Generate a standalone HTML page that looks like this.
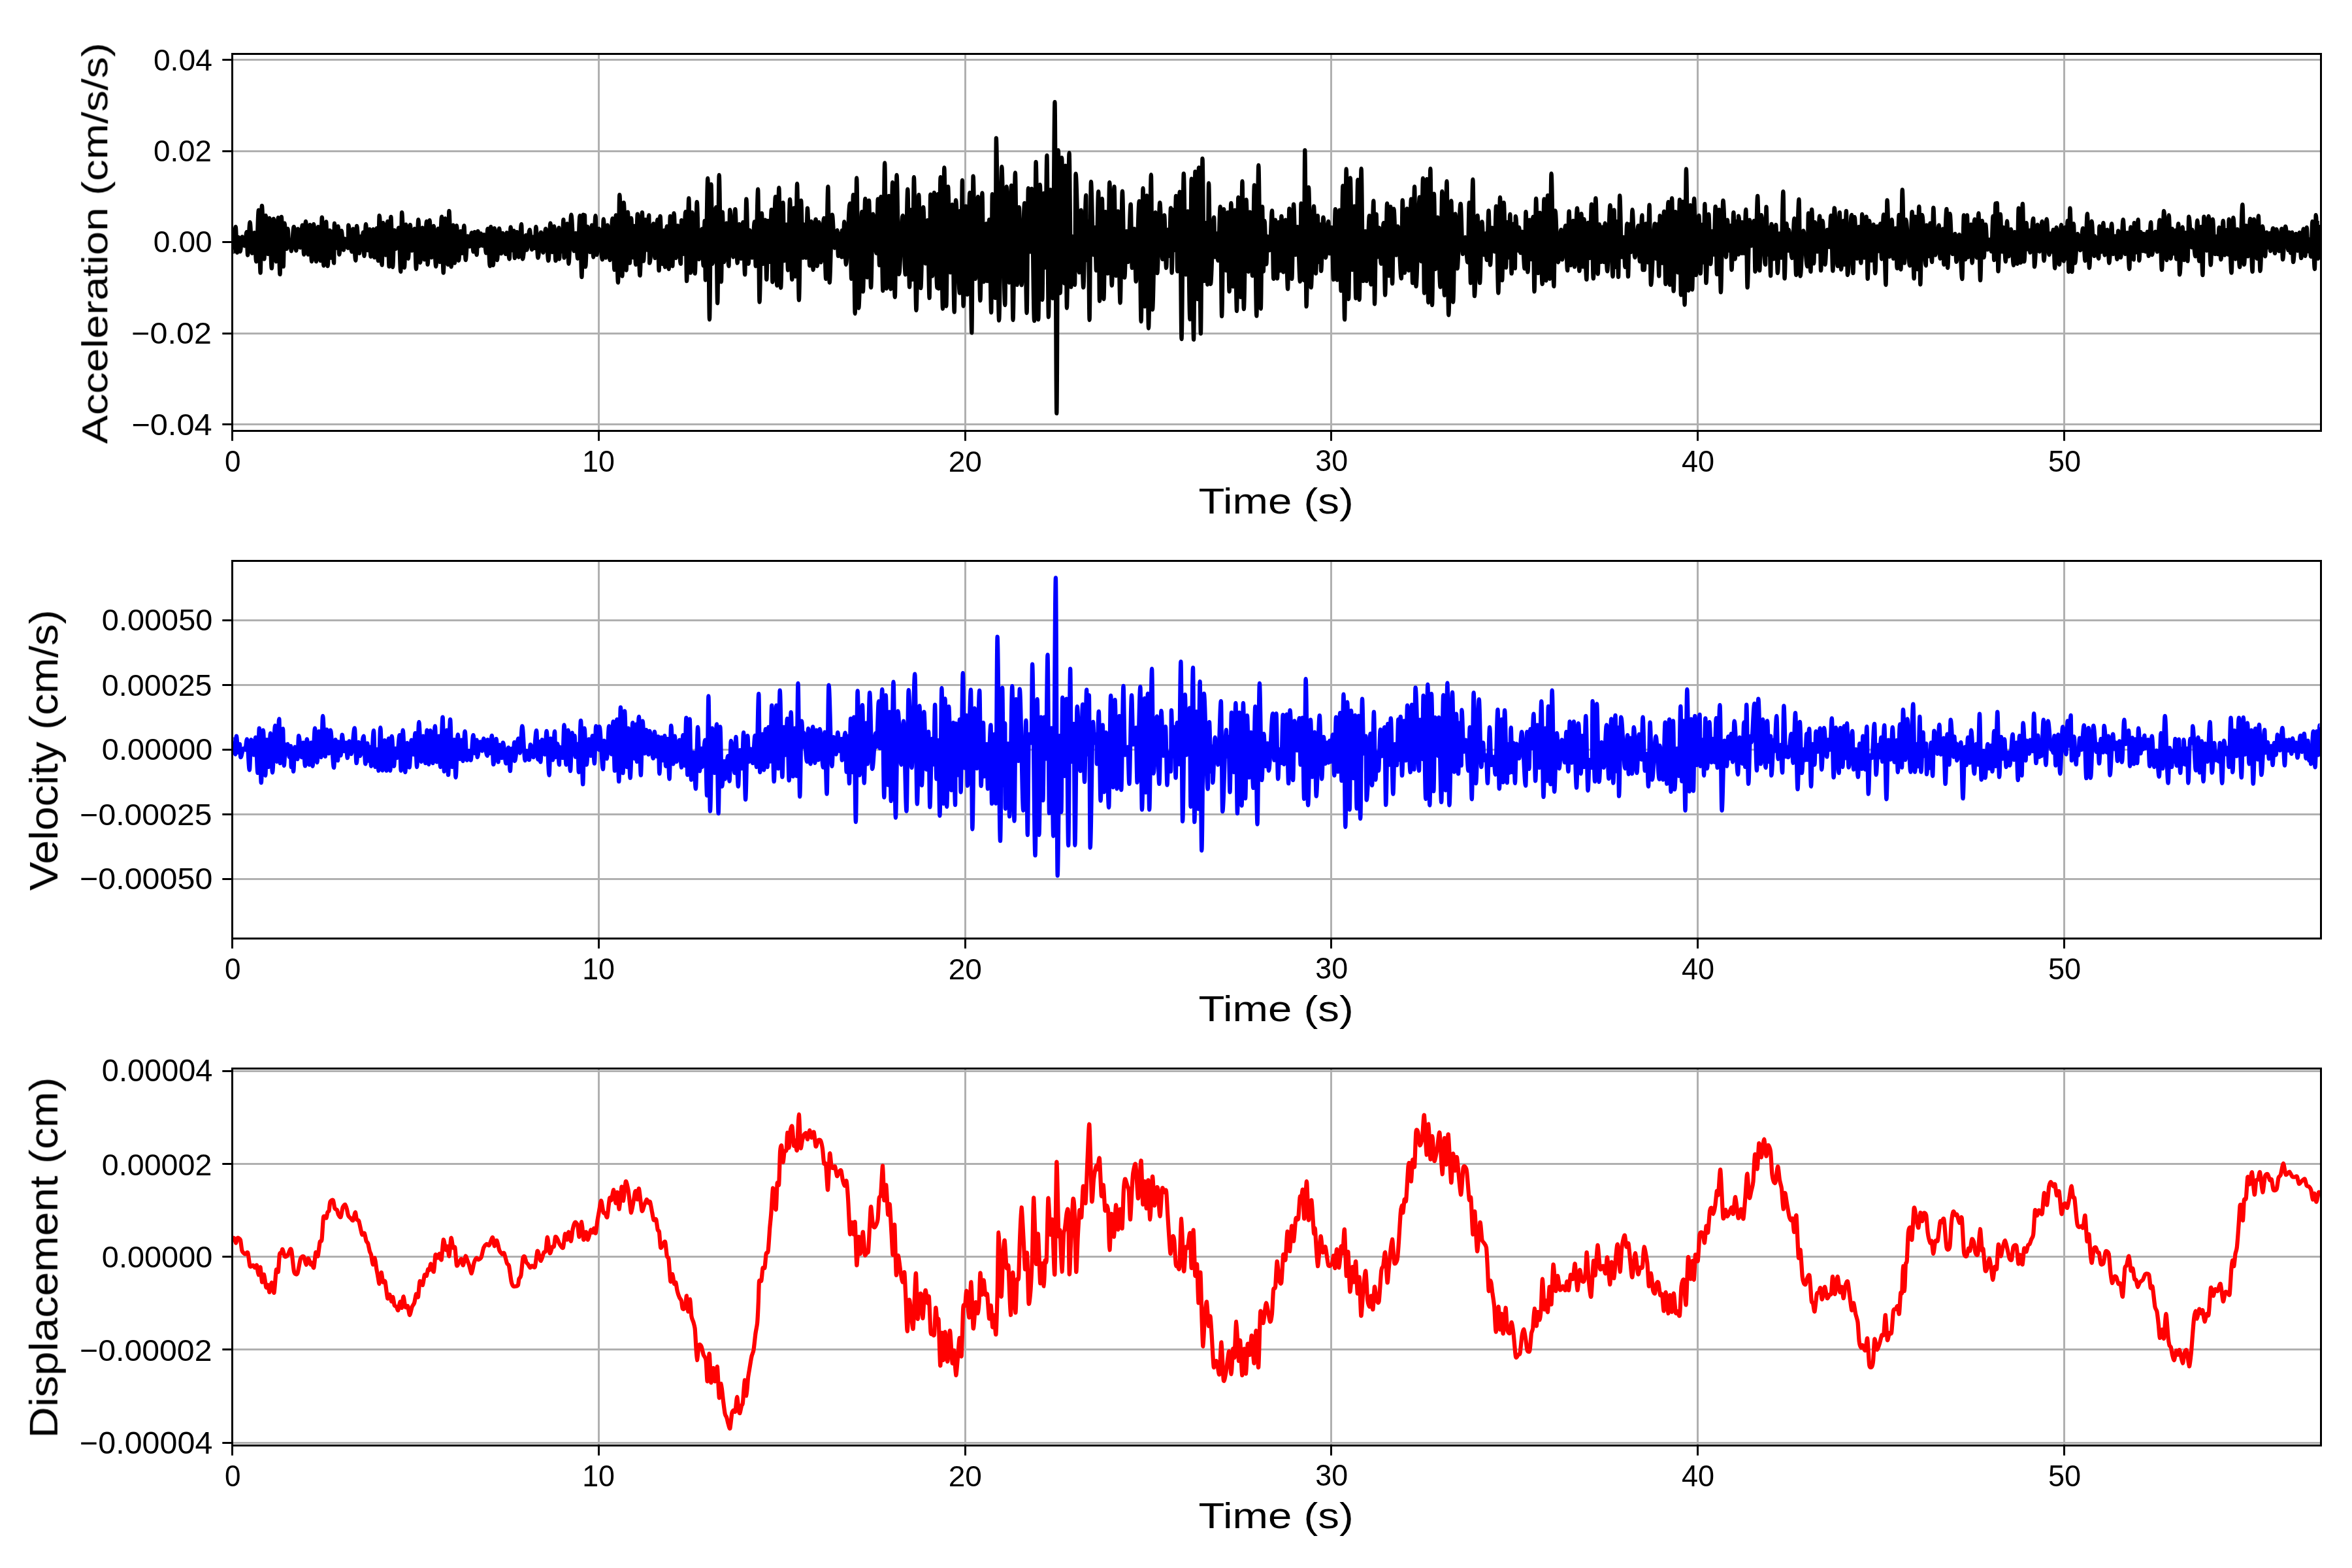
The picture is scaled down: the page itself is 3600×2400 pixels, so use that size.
<!DOCTYPE html>
<html lang="en"><head><meta charset="utf-8"><title>Acceleration, Velocity, Displacement</title>
<style>html,body{margin:0;padding:0;background:#fff}body{width:3600px;height:2400px;overflow:hidden}svg{display:block}text{font-family:"Liberation Sans",sans-serif;fill:#000}</style></head><body>
<svg width="3600" height="2400" viewBox="0 0 3600 2400">
<rect width="3600" height="2400" fill="#fff"/>
<defs>
<clipPath id="c0"><rect x="355.5" y="82.5" width="3197.0" height="577.0"/></clipPath>
<clipPath id="c1"><rect x="355.5" y="858.5" width="3197.0" height="578.0"/></clipPath>
<clipPath id="c2"><rect x="355.5" y="1635.5" width="3197.0" height="577.0"/></clipPath>
</defs>
<path d="M916.50 82.5V659.5M1477.50 82.5V659.5M2037.50 82.5V659.5M2598.50 82.5V659.5M3159.50 82.5V659.5M355.5 91.50H3552.5M355.5 231.50H3552.5M355.5 370.50H3552.5M355.5 510.50H3552.5M355.5 649.50H3552.5" stroke="#b0b0b0" stroke-width="3" fill="none"/>
<path clip-path="url(#c0)" d="M357.3 385.4C358.5 385.4 359.5 347.0 360.7 347.0C361.5 347.0 362.2 386.6 363.0 386.6C363.8 386.6 364.5 363.0 365.3 363.0C366.1 363.0 366.8 385.0 367.6 385.0C368.7 385.0 369.6 362.4 370.6 362.4C372.0 362.4 373.1 376.3 374.5 376.3C375.6 376.3 376.5 355.0 377.5 355.0C378.1 355.0 378.5 390.5 379.1 390.5C380.3 390.5 381.3 340.1 382.6 340.1C383.8 340.1 384.8 387.7 386.0 387.7C387.2 387.7 388.2 356.2 389.4 356.2C390.4 356.2 391.2 400.4 392.2 400.4C393.5 400.4 394.6 321.7 395.9 321.7C396.8 321.7 397.7 417.6 398.6 417.6C399.4 417.6 400.1 314.8 400.9 314.8C402.1 314.8 403.2 396.5 404.4 396.5C405.2 396.5 405.9 329.8 406.7 329.8C407.9 329.8 408.9 388.9 410.1 388.9C410.9 388.9 411.6 333.9 412.4 333.9C413.6 333.9 414.6 410.7 415.8 410.7C416.9 410.7 417.8 334.8 418.8 334.8C420.2 334.8 421.4 400.4 422.7 400.4C423.8 400.4 424.7 333.2 425.7 333.2C426.7 333.2 427.5 419.9 428.5 419.9C429.3 419.9 430.0 332.0 430.8 332.0C431.8 332.0 432.7 407.9 433.7 407.9C434.3 407.9 434.8 341.7 435.4 341.7C436.6 341.7 437.6 380.9 438.8 380.9C439.4 380.9 439.8 350.0 440.4 350.0C441.1 350.0 441.8 377.5 442.5 377.5C443.2 377.5 443.8 368.3 444.5 368.3C444.9 368.3 445.3 384.3 445.7 384.3C447.1 384.3 448.4 347.0 449.8 347.0C451.0 347.0 452.1 383.6 453.3 383.6C454.2 383.6 455.1 350.4 456.0 350.4C457.2 350.4 458.3 379.0 459.5 379.0C460.7 379.0 461.7 344.7 462.9 344.7C463.7 344.7 464.4 389.6 465.2 389.6C466.2 389.6 467.0 338.9 468.0 338.9C469.2 338.9 470.3 389.6 471.6 389.6C472.6 389.6 473.4 344.0 474.4 344.0C475.4 344.0 476.2 400.4 477.1 400.4C478.2 400.4 479.1 343.1 480.1 343.1C481.5 343.1 482.7 400.4 484.0 400.4C485.1 400.4 486.0 347.0 487.0 347.0C488.2 347.0 489.3 399.2 490.5 399.2C491.3 399.2 492.0 332.5 492.8 332.5C493.7 332.5 494.5 406.6 495.5 406.6C496.8 406.6 497.9 339.4 499.2 339.4C500.0 339.4 500.7 407.3 501.5 407.3C502.6 407.3 503.6 352.7 504.7 352.7C505.3 352.7 505.9 394.6 506.5 394.6C507.3 394.6 508.0 354.0 508.8 354.0C509.6 354.0 510.3 402.7 511.1 402.7C511.4 402.7 511.6 341.9 511.8 341.9C512.8 341.9 513.7 379.7 514.7 379.7C515.7 379.7 516.5 346.3 517.5 346.3C518.1 346.3 518.6 389.6 519.2 389.6C520.4 389.6 521.4 353.2 522.6 353.2C523.8 353.2 524.8 382.7 526.0 382.7C526.6 382.7 527.1 365.3 527.7 365.3C529.5 365.3 531.1 379.7 532.9 379.7C533.0 379.7 533.1 344.7 533.2 344.7C535.1 344.7 536.7 385.4 538.7 385.4C539.3 385.4 539.9 350.4 540.5 350.4C541.9 350.4 543.0 398.8 544.4 398.8C545.0 398.8 545.5 345.8 546.0 345.8C547.5 345.8 548.7 387.7 550.2 387.7C550.8 387.7 551.3 361.9 552.0 361.9C552.7 361.9 553.3 382.1 553.9 382.1C554.6 382.1 555.2 355.5 555.9 355.5C556.5 355.5 556.9 391.9 557.5 391.9C558.4 391.9 559.1 343.1 560.0 343.1C561.0 343.1 561.8 383.2 562.8 383.2C563.8 383.2 564.7 350.9 565.8 350.9C566.3 350.9 566.8 392.8 567.4 392.8C568.7 392.8 569.9 350.9 571.3 350.9C571.9 350.9 572.5 394.2 573.1 394.2C574.3 394.2 575.3 349.3 576.6 349.3C577.4 349.3 578.0 399.2 578.8 399.2C579.5 399.2 580.0 329.8 580.7 329.8C582.1 329.8 583.2 405.7 584.6 405.7C585.2 405.7 585.8 341.2 586.4 341.2C587.8 341.2 589.0 390.5 590.3 390.5C591.4 390.5 592.3 338.9 593.3 338.9C594.1 338.9 594.8 407.9 595.6 407.9C596.6 407.9 597.4 332.0 598.4 332.0C599.3 332.0 600.2 408.9 601.1 408.9C602.0 408.9 602.8 352.3 603.6 352.3C604.4 352.3 605.0 380.9 605.7 380.9C607.3 380.9 608.7 348.6 610.3 348.6C611.3 348.6 612.2 415.8 613.3 415.8C613.9 415.8 614.5 325.2 615.1 325.2C616.5 325.2 617.7 409.6 619.0 409.6C619.8 409.6 620.5 343.5 621.3 343.5C622.5 343.5 623.6 395.8 624.8 395.8C625.8 395.8 626.7 344.0 627.8 344.0C628.7 344.0 629.5 383.6 630.5 383.6C632.0 383.6 633.2 350.0 634.6 350.0C635.4 350.0 636.1 411.8 636.9 411.8C638.1 411.8 639.2 336.2 640.4 336.2C641.3 336.2 642.2 402.0 643.1 402.0C644.3 402.0 645.4 348.6 646.6 348.6C647.6 348.6 648.5 397.4 649.6 397.4C650.8 397.4 651.8 338.9 653.0 338.9C653.6 338.9 654.1 405.0 654.6 405.0C655.7 405.0 656.6 337.1 657.6 337.1C658.6 337.1 659.4 394.2 660.4 394.2C661.6 394.2 662.6 345.8 663.8 345.8C665.0 345.8 666.0 407.9 667.2 407.9C668.4 407.9 669.5 350.0 670.7 350.0C671.5 350.0 672.2 401.1 673.0 401.1C674.0 401.1 674.9 331.6 676.0 331.6C676.9 331.6 677.8 417.6 678.7 417.6C679.7 417.6 680.5 334.3 681.5 334.3C682.9 334.3 684.2 405.0 685.6 405.0C686.3 405.0 686.8 322.9 687.4 322.9C688.6 322.9 689.5 408.4 690.7 408.4C691.7 408.4 692.6 344.7 693.6 344.7C694.4 344.7 695.1 402.7 695.9 402.7C697.0 402.7 697.9 345.4 698.9 345.4C700.1 345.4 701.0 398.8 702.1 398.8C703.2 398.8 704.1 353.9 705.1 353.9C705.9 353.9 706.6 387.7 707.4 387.7C708.5 387.7 709.4 345.4 710.4 345.4C711.2 345.4 711.9 398.1 712.7 398.1C713.8 398.1 714.8 361.4 715.9 361.4C717.0 361.4 717.9 377.4 718.9 377.4C719.9 377.4 720.8 356.2 721.9 356.2C722.8 356.2 723.7 385.4 724.6 385.4C725.3 385.4 725.8 355.0 726.5 355.0C727.6 355.0 728.6 390.0 729.7 390.0C730.3 390.0 730.9 353.9 731.5 353.9C732.3 353.9 733.0 376.7 733.8 376.7C734.6 376.7 735.3 357.3 736.1 357.3C736.9 357.3 737.6 376.2 738.4 376.2C739.2 376.2 739.9 359.1 740.7 359.1C741.9 359.1 742.9 387.3 744.2 387.3C745.0 387.3 745.6 350.0 746.5 350.0C747.7 350.0 748.7 407.3 749.9 407.3C750.4 407.3 750.8 347.0 751.3 347.0C752.6 347.0 753.7 406.1 754.9 406.1C755.6 406.1 756.1 349.3 756.8 349.3C758.2 349.3 759.5 398.1 760.9 398.1C762.0 398.1 763.0 349.5 764.1 349.5C765.2 349.5 766.1 388.2 767.1 388.2C767.9 388.2 768.6 356.8 769.4 356.8C771.0 356.8 772.4 388.9 774.0 388.9C774.6 388.9 775.0 356.2 775.6 356.2C777.1 356.2 778.3 396.5 779.7 396.5C780.4 396.5 780.9 347.7 781.6 347.7C782.5 347.7 783.2 383.1 784.1 383.1C785.0 383.1 785.7 353.2 786.6 353.2C787.0 353.2 787.4 395.1 787.8 395.1C789.0 395.1 790.0 355.0 791.2 355.0C792.2 355.0 793.0 393.5 794.0 393.5C795.4 393.5 796.7 343.1 798.1 343.1C798.8 343.1 799.3 396.5 799.9 396.5C801.7 396.5 803.2 360.1 805.0 360.1C805.4 360.1 805.7 382.7 806.1 382.7C807.8 382.7 809.1 351.6 810.7 351.6C811.9 351.6 813.0 382.0 814.2 382.0C815.0 382.0 815.7 362.4 816.5 362.4C817.2 362.4 817.7 379.9 818.4 379.9C819.1 379.9 819.7 347.0 820.4 347.0C821.4 347.0 822.3 394.6 823.4 394.6C825.0 394.6 826.3 355.5 828.0 355.5C829.2 355.5 830.2 386.6 831.4 386.6C832.8 386.6 833.9 350.0 835.3 350.0C836.7 350.0 838.0 399.2 839.4 399.2C840.5 399.2 841.4 341.7 842.4 341.7C843.4 341.7 844.2 385.9 845.2 385.9C846.2 385.9 847.1 346.3 848.2 346.3C849.0 346.3 849.7 399.2 850.5 399.2C852.2 399.2 853.7 348.6 855.5 348.6C855.7 348.6 855.8 396.5 856.0 396.5C856.7 396.5 857.4 355.7 858.1 355.7C858.9 355.7 859.5 384.9 860.2 384.9C861.0 384.9 861.6 336.2 862.4 336.2C862.8 336.2 863.1 394.6 863.5 394.6C865.1 394.6 866.5 342.4 868.1 342.4C868.9 342.4 869.6 403.8 870.4 403.8C871.8 403.8 873.0 328.6 874.3 328.6C875.8 328.6 877.0 384.3 878.5 384.3C879.4 384.3 880.3 356.8 881.2 356.8C882.3 356.8 883.2 395.8 884.2 395.8C885.4 395.8 886.4 330.2 887.6 330.2C888.6 330.2 889.4 424.0 890.4 424.0C891.2 424.0 891.9 328.6 892.7 328.6C893.1 328.6 893.4 395.8 893.8 395.8C894.3 395.8 894.6 329.3 895.0 329.3C895.4 329.3 895.7 408.4 896.1 408.4C897.2 408.4 898.1 347.0 899.1 347.0C900.5 347.0 901.7 385.9 903.0 385.9C904.1 385.9 905.0 344.7 906.0 344.7C906.8 344.7 907.5 393.5 908.3 393.5C909.4 393.5 910.4 330.2 911.5 330.2C912.2 330.2 912.7 390.0 913.4 390.0C914.6 390.0 915.6 350.0 916.8 350.0C918.7 350.0 920.2 397.4 922.1 397.4C922.7 397.4 923.1 335.5 923.7 335.5C924.9 335.5 925.9 394.6 927.1 394.6C928.1 394.6 928.9 344.7 929.9 344.7C931.2 344.7 932.3 398.1 933.6 398.1C934.9 398.1 936.1 334.3 937.5 334.3C938.5 334.3 939.4 413.0 940.5 413.0C941.3 413.0 942.0 329.3 942.8 329.3C943.9 329.3 944.8 432.5 946.0 432.5C946.8 432.5 947.5 298.1 948.3 298.1C949.7 298.1 951.0 422.6 952.4 422.6C953.2 422.6 953.9 310.2 954.7 310.2C956.1 310.2 957.2 413.5 958.6 413.5C959.4 413.5 960.1 324.7 960.9 324.7C961.9 324.7 962.8 402.7 963.9 402.7C964.7 402.7 965.4 333.9 966.2 333.9C967.0 333.9 967.7 394.0 968.5 394.0C969.3 394.0 970.0 345.8 970.8 345.8C971.6 345.8 972.3 405.0 973.1 405.0C974.0 405.0 974.9 327.5 975.8 327.5C977.1 327.5 978.2 421.7 979.5 421.7C980.7 421.7 981.7 325.2 982.9 325.2C983.7 325.2 984.3 399.7 985.0 399.7C986.0 399.7 986.9 336.2 988.0 336.2C988.9 336.2 989.7 382.7 990.6 382.7C991.5 382.7 992.3 329.3 993.3 329.3C993.6 329.3 993.9 402.7 994.2 402.7C996.3 402.7 998.1 342.4 1000.2 342.4C1001.0 342.4 1001.6 395.1 1002.4 395.1C1003.8 395.1 1005.0 336.2 1006.4 336.2C1007.2 336.2 1007.8 414.1 1008.6 414.1C1009.3 414.1 1009.8 330.9 1010.5 330.9C1011.6 330.9 1012.5 404.0 1013.6 404.0C1014.7 404.0 1015.6 352.7 1016.7 352.7C1017.1 352.7 1017.4 408.9 1017.8 408.9C1018.9 408.9 1019.8 346.3 1020.8 346.3C1021.8 346.3 1022.6 411.8 1023.6 411.8C1024.4 411.8 1025.1 330.9 1025.9 330.9C1027.1 330.9 1028.1 407.3 1029.3 407.3C1030.1 407.3 1030.8 326.3 1031.6 326.3C1032.7 326.3 1033.5 395.1 1034.6 395.1C1035.6 395.1 1036.4 345.4 1037.3 345.4C1039.0 345.4 1040.3 403.8 1041.9 403.8C1042.3 403.8 1042.7 337.1 1043.1 337.1C1044.2 337.1 1045.1 388.8 1046.2 388.8C1047.3 388.8 1048.2 324.0 1049.3 324.0C1049.9 324.0 1050.5 430.2 1051.1 430.2C1052.2 430.2 1053.2 303.4 1054.3 303.4C1055.2 303.4 1056.0 417.6 1056.9 417.6C1057.7 417.6 1058.5 325.2 1059.4 325.2C1060.9 325.2 1062.2 418.7 1063.7 418.7C1064.8 418.7 1065.7 309.1 1066.7 309.1C1067.9 309.1 1068.8 396.9 1069.9 396.9C1071.6 396.9 1072.9 350.4 1074.5 350.4C1075.3 350.4 1075.9 406.6 1076.6 406.6C1077.3 406.6 1077.9 337.8 1078.7 337.8C1079.1 337.8 1079.4 428.6 1079.8 428.6C1081.0 428.6 1082.1 272.8 1083.3 272.8C1084.2 272.8 1085.1 489.2 1086.0 489.2C1086.9 489.2 1087.7 282.0 1088.5 282.0C1089.3 282.0 1089.9 403.8 1090.6 403.8C1092.5 403.8 1094.0 317.1 1095.9 317.1C1096.7 317.1 1097.4 464.0 1098.2 464.0C1099.1 464.0 1099.8 267.8 1100.7 267.8C1101.8 267.8 1102.8 431.4 1103.9 431.4C1104.6 431.4 1105.1 324.7 1105.8 324.7C1106.6 324.7 1107.3 401.1 1108.1 401.1C1109.4 401.1 1110.6 341.7 1112.0 341.7C1113.2 341.7 1114.2 407.3 1115.4 407.3C1116.0 407.3 1116.6 321.0 1117.2 321.0C1119.0 321.0 1120.5 393.5 1122.3 393.5C1123.3 393.5 1124.2 320.1 1125.3 320.1C1126.5 320.1 1127.5 402.7 1128.7 402.7C1129.7 402.7 1130.5 343.1 1131.5 343.1C1132.5 343.1 1133.3 395.9 1134.3 395.9C1135.4 395.9 1136.2 340.1 1137.2 340.1C1138.3 340.1 1139.2 420.3 1140.2 420.3C1140.9 420.3 1141.5 304.5 1142.3 304.5C1143.5 304.5 1144.5 403.8 1145.7 403.8C1146.4 403.8 1146.9 352.3 1147.5 352.3C1148.8 352.3 1149.9 394.5 1151.2 394.5C1152.5 394.5 1153.6 339.4 1154.9 339.4C1155.5 339.4 1156.1 407.3 1156.7 407.3C1157.9 407.3 1159.0 289.6 1160.2 289.6C1161.0 289.6 1161.7 462.4 1162.5 462.4C1163.7 462.4 1164.7 326.3 1165.9 326.3C1166.7 326.3 1167.4 403.8 1168.2 403.8C1169.3 403.8 1170.2 336.6 1171.2 336.6C1171.9 336.6 1172.5 427.9 1173.3 427.9C1174.1 427.9 1174.8 337.8 1175.6 337.8C1176.5 337.8 1177.3 400.9 1178.2 400.9C1179.1 400.9 1179.9 321.0 1180.8 321.0C1181.4 321.0 1181.9 431.8 1182.4 431.8C1184.1 431.8 1185.4 301.1 1187.0 301.1C1187.8 301.1 1188.5 437.1 1189.3 437.1C1190.4 437.1 1191.3 287.3 1192.3 287.3C1193.3 287.3 1194.1 440.5 1195.1 440.5C1196.3 440.5 1197.3 310.2 1198.5 310.2C1199.2 310.2 1199.7 399.2 1200.4 399.2C1201.6 399.2 1202.6 343.5 1203.8 343.5C1204.6 343.5 1205.3 413.5 1206.1 413.5C1207.1 413.5 1208.0 305.0 1209.1 305.0C1210.2 305.0 1211.2 427.9 1212.3 427.9C1213.3 427.9 1214.2 318.3 1215.3 318.3C1216.1 318.3 1216.8 423.3 1217.6 423.3C1218.5 423.3 1219.2 281.1 1220.1 281.1C1221.1 281.1 1221.9 459.4 1222.9 459.4C1224.0 459.4 1224.9 306.8 1226.1 306.8C1227.1 306.8 1228.0 394.6 1229.1 394.6C1229.6 394.6 1230.1 343.5 1230.7 343.5C1231.7 343.5 1232.6 394.6 1233.6 394.6C1234.4 394.6 1235.1 318.7 1235.9 318.7C1237.1 318.7 1238.2 406.6 1239.4 406.6C1240.2 406.6 1240.9 338.9 1241.7 338.9C1242.7 338.9 1243.6 413.0 1244.7 413.0C1246.0 413.0 1247.2 335.5 1248.6 335.5C1249.4 335.5 1250.1 407.3 1250.9 407.3C1251.8 407.3 1252.7 340.1 1253.6 340.1C1254.7 340.1 1255.6 401.5 1256.6 401.5C1258.2 401.5 1259.6 333.9 1261.2 333.9C1262.2 333.9 1263.1 426.8 1264.2 426.8C1265.3 426.8 1266.3 285.7 1267.4 285.7C1268.2 285.7 1268.9 432.5 1269.7 432.5C1271.1 432.5 1272.4 328.6 1273.8 328.6C1275.1 328.6 1276.3 379.7 1277.6 379.7C1278.9 379.7 1280.1 352.3 1281.4 352.3C1282.0 352.3 1282.4 391.9 1283.0 391.9C1283.9 391.9 1284.6 357.5 1285.5 357.5C1286.4 357.5 1287.2 393.5 1288.1 393.5C1288.3 393.5 1288.5 352.7 1288.7 352.7C1289.3 352.7 1289.9 393.2 1290.5 393.2C1291.1 393.2 1291.6 339.4 1292.2 339.4C1293.2 339.4 1294.0 405.0 1294.9 405.0C1297.0 405.0 1298.8 311.4 1300.9 311.4C1301.7 311.4 1302.4 426.8 1303.2 426.8C1304.2 426.8 1305.0 298.1 1306.0 298.1C1306.9 298.1 1307.8 480.0 1308.7 480.0C1309.6 480.0 1310.4 272.4 1311.2 272.4C1312.3 272.4 1313.2 471.5 1314.2 471.5C1316.0 471.5 1317.5 324.0 1319.3 324.0C1319.8 324.0 1320.3 446.3 1320.9 446.3C1322.1 446.3 1323.1 304.0 1324.3 304.0C1325.3 304.0 1326.1 424.5 1327.1 424.5C1328.1 424.5 1329.0 306.8 1330.1 306.8C1331.1 306.8 1332.0 440.1 1333.1 440.1C1334.2 440.1 1335.1 327.5 1336.3 327.5C1338.1 327.5 1339.7 387.7 1341.6 387.7C1342.4 387.7 1343.0 304.5 1343.8 304.5C1344.7 304.5 1345.3 406.1 1346.1 406.1C1346.9 406.1 1347.6 301.1 1348.4 301.1C1349.5 301.1 1350.4 445.1 1351.4 445.1C1352.4 445.1 1353.2 249.4 1354.2 249.4C1355.1 249.4 1356.0 441.7 1356.9 441.7C1358.2 441.7 1359.3 299.9 1360.6 299.9C1361.6 299.9 1362.4 442.4 1363.4 442.4C1364.3 442.4 1365.2 279.2 1366.1 279.2C1367.4 279.2 1368.5 454.8 1369.8 454.8C1370.8 454.8 1371.6 267.8 1372.5 267.8C1373.8 267.8 1374.8 419.9 1376.0 419.9C1378.0 419.9 1379.7 329.8 1381.7 329.8C1383.2 329.8 1384.4 420.3 1385.9 420.3C1387.1 420.3 1388.1 289.6 1389.3 289.6C1390.3 289.6 1391.1 439.4 1392.1 439.4C1392.9 439.4 1393.6 321.2 1394.4 321.2C1395.2 321.2 1395.8 427.9 1396.7 427.9C1397.5 427.9 1398.1 271.2 1398.9 271.2C1400.2 271.2 1401.2 475.0 1402.4 475.0C1403.8 475.0 1404.9 298.1 1406.3 298.1C1407.3 298.1 1408.2 441.0 1409.3 441.0C1410.6 441.0 1411.8 317.1 1413.2 317.1C1414.4 317.1 1415.4 403.4 1416.6 403.4C1417.7 403.4 1418.6 337.1 1419.6 337.1C1420.7 337.1 1421.6 456.2 1422.6 456.2C1423.2 456.2 1423.6 297.6 1424.2 297.6C1425.2 297.6 1426.1 422.6 1427.1 422.6C1428.1 422.6 1428.9 294.9 1429.9 294.9C1431.6 294.9 1432.9 440.5 1434.5 440.5C1434.9 440.5 1435.3 297.0 1435.7 297.0C1436.1 297.0 1436.4 441.7 1436.8 441.7C1437.8 441.7 1438.6 271.2 1439.6 271.2C1440.8 271.2 1441.8 472.7 1443.0 472.7C1443.8 472.7 1444.5 256.3 1445.3 256.3C1446.4 256.3 1447.3 468.6 1448.3 468.6C1449.3 468.6 1450.1 285.7 1451.1 285.7C1452.3 285.7 1453.3 417.1 1454.5 417.1C1455.6 417.1 1456.5 313.2 1457.5 313.2C1458.6 313.2 1459.6 477.7 1460.7 477.7C1461.5 477.7 1462.2 306.3 1463.0 306.3C1465.1 306.3 1466.9 448.6 1469.0 448.6C1469.1 448.6 1469.3 322.9 1469.4 322.9C1470.0 322.9 1470.6 408.8 1471.2 408.8C1471.8 408.8 1472.3 275.8 1472.9 275.8C1473.4 275.8 1473.9 468.6 1474.5 468.6C1475.8 468.6 1476.9 315.5 1478.2 315.5C1479.0 315.5 1479.7 450.9 1480.5 450.9C1481.8 450.9 1483.0 294.9 1484.4 294.9C1485.4 294.9 1486.3 509.4 1487.3 509.4C1488.1 509.4 1488.8 269.6 1489.6 269.6C1490.8 269.6 1491.7 426.8 1492.9 426.8C1494.3 426.8 1495.5 301.1 1497.0 301.1C1498.2 301.1 1499.2 460.1 1500.4 460.1C1501.5 460.1 1502.4 295.3 1503.4 295.3C1504.2 295.3 1504.9 431.4 1505.7 431.4C1507.1 431.4 1508.3 342.4 1509.6 342.4C1510.2 342.4 1510.7 430.2 1511.2 430.2C1512.3 430.2 1513.2 336.2 1514.2 336.2C1515.3 336.2 1516.1 478.4 1517.2 478.4C1517.8 478.4 1518.2 297.2 1518.8 297.2C1520.4 297.2 1521.8 456.2 1523.4 456.2C1523.9 456.2 1524.3 211.3 1524.8 211.3C1526.3 211.3 1527.6 490.6 1529.1 490.6C1530.6 490.6 1531.8 255.1 1533.3 255.1C1535.0 255.1 1536.5 467.0 1538.3 467.0C1539.1 467.0 1539.8 285.7 1540.6 285.7C1542.1 285.7 1543.3 432.5 1544.7 432.5C1545.9 432.5 1546.8 283.8 1548.0 283.8C1548.8 283.8 1549.6 489.9 1550.5 489.9C1551.7 489.9 1552.7 264.3 1553.9 264.3C1554.9 264.3 1555.7 436.0 1556.7 436.0C1557.7 436.0 1558.6 317.1 1559.7 317.1C1561.0 317.1 1562.2 436.4 1563.6 436.4C1565.2 436.4 1566.6 310.9 1568.2 310.9C1569.4 310.9 1570.4 479.1 1571.6 479.1C1572.4 479.1 1573.1 288.0 1573.9 288.0C1575.1 288.0 1576.1 385.4 1577.3 385.4C1578.0 385.4 1578.5 288.9 1579.2 288.9C1580.5 288.9 1581.7 491.1 1583.1 491.1C1584.0 491.1 1584.7 247.8 1585.6 247.8C1586.9 247.8 1588.0 489.2 1589.3 489.2C1590.2 489.2 1590.9 282.7 1591.8 282.7C1593.0 282.7 1594.0 458.9 1595.3 458.9C1596.1 458.9 1596.7 295.8 1597.5 295.8C1598.4 295.8 1599.0 409.6 1599.8 409.6C1600.7 409.6 1601.5 237.9 1602.4 237.9C1603.3 237.9 1604.0 485.3 1604.9 485.3C1605.9 485.3 1606.8 290.3 1607.9 290.3C1609.1 290.3 1610.1 456.6 1611.3 456.6C1612.4 456.6 1613.4 156.2 1614.5 156.2C1615.5 156.2 1616.3 632.7 1617.3 632.7C1618.2 632.7 1618.9 229.9 1619.8 229.9C1620.9 229.9 1621.8 448.6 1622.8 448.6C1623.6 448.6 1624.3 241.4 1625.1 241.4C1626.5 241.4 1627.6 433.7 1629.0 433.7C1629.6 433.7 1630.2 253.5 1630.8 253.5C1631.6 253.5 1632.2 471.5 1632.9 471.5C1634.2 471.5 1635.3 233.8 1636.6 233.8C1637.5 233.8 1638.4 439.4 1639.3 439.4C1640.1 439.4 1640.8 361.9 1641.6 361.9C1642.8 361.9 1643.9 436.0 1645.1 436.0C1645.6 436.0 1646.0 265.9 1646.5 265.9C1648.4 265.9 1650.0 417.1 1652.0 417.1C1652.9 417.1 1653.8 321.7 1654.7 321.7C1655.9 321.7 1657.0 440.1 1658.2 440.1C1659.6 440.1 1660.8 298.8 1662.3 298.8C1662.7 298.8 1663.0 398.1 1663.4 398.1C1664.2 398.1 1664.8 338.5 1665.5 338.5C1666.2 338.5 1666.9 489.9 1667.6 489.9C1668.4 489.9 1669.1 278.1 1669.9 278.1C1671.2 278.1 1672.4 390.0 1673.8 390.0C1674.6 390.0 1675.3 348.1 1676.1 348.1C1676.7 348.1 1677.3 414.1 1677.9 414.1C1679.1 414.1 1680.1 293.0 1681.3 293.0C1681.9 293.0 1682.4 460.8 1683.0 460.8C1684.3 460.8 1685.5 304.0 1686.9 304.0C1687.7 304.0 1688.5 457.8 1689.4 457.8C1690.3 457.8 1691.2 324.0 1692.1 324.0C1693.3 324.0 1694.4 418.7 1695.6 418.7C1696.5 418.7 1697.4 279.2 1698.3 279.2C1699.5 279.2 1700.6 437.1 1701.8 437.1C1703.1 437.1 1704.2 285.7 1705.5 285.7C1706.4 285.7 1707.2 422.2 1708.2 422.2C1709.3 422.2 1710.2 323.3 1711.2 323.3C1712.4 323.3 1713.4 463.5 1714.6 463.5C1715.8 463.5 1716.7 292.6 1717.9 292.6C1719.1 292.6 1720.1 424.9 1721.3 424.9C1722.3 424.9 1723.2 353.9 1724.3 353.9C1725.1 353.9 1725.8 401.1 1726.6 401.1C1728.0 401.1 1729.3 312.5 1730.7 312.5C1731.4 312.5 1732.1 410.2 1732.8 410.2C1734.0 410.2 1735.0 350.0 1736.2 350.0C1737.1 350.0 1737.9 430.9 1738.7 430.9C1740.5 430.9 1742.0 307.9 1743.8 307.9C1744.8 307.9 1745.6 492.2 1746.6 492.2C1747.6 492.2 1748.5 288.0 1749.5 288.0C1750.5 288.0 1751.3 469.2 1752.3 469.2C1753.3 469.2 1754.2 299.4 1755.3 299.4C1756.2 299.4 1757.1 502.5 1758.0 502.5C1759.4 502.5 1760.6 267.3 1761.9 267.3C1762.7 267.3 1763.3 473.8 1764.0 473.8C1765.5 473.8 1766.8 325.2 1768.4 325.2C1769.4 325.2 1770.3 418.0 1771.3 418.0C1772.7 418.0 1773.9 310.2 1775.3 310.2C1776.7 310.2 1777.9 396.9 1779.4 396.9C1780.3 396.9 1781.2 329.3 1782.1 329.3C1783.2 329.3 1784.1 410.2 1785.1 410.2C1785.9 410.2 1786.6 351.6 1787.4 351.6C1788.2 351.6 1788.9 391.8 1789.7 391.8C1790.5 391.8 1791.2 318.3 1792.0 318.3C1792.6 318.3 1793.1 417.6 1793.6 417.6C1794.4 417.6 1795.0 321.0 1795.8 321.0C1796.5 321.0 1797.2 382.9 1797.9 382.9C1798.7 382.9 1799.3 299.9 1800.0 299.9C1800.9 299.9 1801.5 415.3 1802.3 415.3C1803.5 415.3 1804.6 293.5 1805.8 293.5C1806.8 293.5 1807.6 519.1 1808.5 519.1C1809.7 519.1 1810.6 265.5 1811.8 265.5C1812.9 265.5 1813.8 420.3 1815.0 420.3C1816.0 420.3 1816.9 323.3 1818.0 323.3C1819.2 323.3 1820.2 488.8 1821.4 488.8C1822.2 488.8 1822.9 273.5 1823.7 273.5C1824.9 273.5 1825.9 519.8 1827.1 519.8C1827.9 519.8 1828.6 262.7 1829.4 262.7C1830.6 262.7 1831.5 457.8 1832.6 457.8C1833.5 457.8 1834.1 256.3 1834.9 256.3C1836.0 256.3 1836.9 510.6 1837.9 510.6C1838.8 510.6 1839.6 242.5 1840.5 242.5C1841.4 242.5 1842.2 430.2 1843.2 430.2C1844.2 430.2 1845.0 341.2 1846.0 341.2C1846.8 341.2 1847.5 435.5 1848.3 435.5C1848.9 435.5 1849.5 280.4 1850.1 280.4C1851.1 280.4 1851.9 434.8 1852.9 434.8C1854.7 434.8 1856.3 332.5 1858.1 332.5C1858.7 332.5 1859.2 393.5 1859.7 393.5C1860.7 393.5 1861.5 357.3 1862.5 357.3C1863.1 357.3 1863.7 398.8 1864.3 398.8C1865.5 398.8 1866.6 316.4 1867.8 316.4C1868.6 316.4 1869.3 484.2 1870.1 484.2C1871.1 484.2 1872.0 320.1 1873.1 320.1C1874.4 320.1 1875.6 414.1 1877.0 414.1C1877.8 414.1 1878.5 325.2 1879.3 325.2C1880.1 325.2 1880.7 446.3 1881.6 446.3C1882.5 446.3 1883.3 310.9 1884.3 310.9C1885.4 310.9 1886.2 438.7 1887.3 438.7C1888.3 438.7 1889.1 321.7 1890.0 321.7C1891.1 321.7 1892.0 476.1 1893.0 476.1C1893.8 476.1 1894.5 302.2 1895.3 302.2C1896.5 302.2 1897.6 454.8 1898.8 454.8C1899.7 454.8 1900.6 277.4 1901.5 277.4C1902.3 277.4 1903.0 473.2 1903.8 473.2C1905.1 473.2 1906.2 305.6 1907.5 305.6C1908.6 305.6 1909.6 415.8 1910.7 415.8C1911.6 415.8 1912.4 324.7 1913.2 324.7C1914.6 324.7 1915.8 422.2 1917.1 422.2C1918.1 422.2 1918.9 283.4 1919.9 283.4C1921.1 283.4 1922.1 483.7 1923.3 483.7C1924.4 483.7 1925.3 252.8 1926.3 252.8C1927.5 252.8 1928.6 472.7 1929.8 472.7C1930.6 472.7 1931.3 316.4 1932.1 316.4C1932.7 316.4 1933.2 415.5 1933.8 415.5C1934.4 415.5 1934.9 337.8 1935.5 337.8C1936.5 337.8 1937.3 404.3 1938.3 404.3C1938.9 404.3 1939.5 361.9 1940.1 361.9C1941.3 361.9 1942.3 383.2 1943.5 383.2C1944.7 383.2 1945.8 322.4 1947.0 322.4C1947.8 322.4 1948.5 426.8 1949.3 426.8C1950.2 426.8 1951.1 336.6 1952.0 336.6C1953.1 336.6 1954.0 426.3 1955.0 426.3C1955.8 426.3 1956.5 340.1 1957.3 340.1C1958.0 340.1 1958.7 414.3 1959.4 414.3C1960.1 414.3 1960.7 330.9 1961.4 330.9C1962.4 330.9 1963.2 416.4 1964.2 416.4C1965.4 416.4 1966.4 336.6 1967.6 336.6C1968.9 336.6 1969.9 442.4 1971.1 442.4C1971.9 442.4 1972.6 319.4 1973.4 319.4C1974.8 319.4 1975.9 426.8 1977.3 426.8C1978.3 426.8 1979.1 312.5 1980.1 312.5C1981.1 312.5 1982.0 390.0 1983.0 390.0C1984.1 390.0 1985.0 347.0 1986.0 347.0C1987.4 347.0 1988.6 430.9 1989.9 430.9C1990.5 430.9 1991.0 311.4 1991.5 311.4C1993.0 311.4 1994.2 429.1 1995.7 429.1C1996.2 429.1 1996.7 229.9 1997.3 229.9C1998.1 229.9 1998.8 469.2 1999.6 469.2C2000.8 469.2 2001.8 286.6 2003.0 286.6C2004.3 286.6 2005.4 440.1 2006.7 440.1C2008.2 440.1 2009.5 315.5 2011.0 315.5C2012.1 315.5 2013.0 418.7 2014.0 418.7C2015.0 418.7 2015.8 330.2 2016.8 330.2C2017.5 330.2 2018.1 401.2 2018.9 401.2C2019.6 401.2 2020.2 343.5 2020.9 343.5C2021.3 343.5 2021.7 414.8 2022.1 414.8C2023.3 414.8 2024.3 332.5 2025.5 332.5C2026.7 332.5 2027.7 394.6 2029.0 394.6C2030.5 394.6 2031.8 338.9 2033.3 338.9C2034.0 338.9 2034.5 388.2 2035.2 388.2C2036.2 388.2 2037.1 348.1 2038.1 348.1C2039.2 348.1 2040.1 427.9 2041.1 427.9C2042.1 427.9 2042.9 320.1 2043.9 320.1C2044.8 320.1 2045.7 428.6 2046.6 428.6C2047.9 428.6 2049.0 321.7 2050.3 321.7C2051.1 321.7 2051.8 445.1 2052.6 445.1C2053.6 445.1 2054.4 284.3 2055.4 284.3C2056.3 284.3 2057.1 489.2 2058.1 489.2C2059.0 489.2 2059.8 258.6 2060.6 258.6C2061.8 258.6 2062.9 457.8 2064.1 457.8C2065.0 457.8 2065.9 272.4 2066.8 272.4C2067.8 272.4 2068.6 413.0 2069.6 413.0C2070.8 413.0 2071.8 315.5 2073.0 315.5C2073.8 315.5 2074.5 456.6 2075.3 456.6C2076.4 456.6 2077.3 275.1 2078.3 275.1C2079.1 275.1 2079.8 458.9 2080.6 458.9C2081.7 458.9 2082.6 258.1 2083.6 258.1C2084.6 258.1 2085.4 430.2 2086.4 430.2C2087.6 430.2 2088.6 353.9 2089.8 353.9C2090.4 353.9 2091.0 430.2 2091.6 430.2C2093.2 430.2 2094.5 330.2 2096.0 330.2C2096.9 330.2 2097.6 435.5 2098.5 435.5C2099.9 435.5 2101.1 307.3 2102.4 307.3C2103.0 307.3 2103.5 465.3 2104.0 465.3C2104.9 465.3 2105.7 327.9 2106.6 327.9C2107.1 327.9 2107.6 393.5 2108.2 393.5C2109.1 393.5 2110.0 348.6 2110.9 348.6C2112.0 348.6 2112.9 403.8 2113.9 403.8C2115.3 403.8 2116.4 341.2 2117.8 341.2C2118.6 341.2 2119.3 451.6 2120.1 451.6C2121.1 451.6 2122.0 311.4 2123.1 311.4C2124.1 311.4 2125.0 422.2 2126.1 422.2C2126.9 422.2 2127.6 316.4 2128.4 316.4C2129.3 316.4 2130.2 434.1 2131.1 434.1C2131.9 434.1 2132.6 319.7 2133.4 319.7C2134.6 319.7 2135.7 390.5 2136.9 390.5C2137.8 390.5 2138.7 346.3 2139.6 346.3C2141.5 346.3 2143.0 426.3 2144.9 426.3C2145.5 426.3 2146.1 306.3 2146.7 306.3C2147.9 306.3 2148.8 417.6 2149.9 417.6C2151.2 417.6 2152.3 319.4 2153.6 319.4C2154.6 319.4 2155.4 414.1 2156.4 414.1C2157.7 414.1 2158.8 304.5 2160.0 304.5C2160.8 304.5 2161.4 433.2 2162.1 433.2C2163.2 433.2 2164.1 285.7 2165.1 285.7C2165.9 285.7 2166.6 438.3 2167.4 438.3C2169.3 438.3 2171.0 301.7 2172.9 301.7C2173.8 301.7 2174.5 400.2 2175.4 400.2C2176.3 400.2 2177.1 272.8 2178.0 272.8C2178.7 272.8 2179.3 448.6 2180.0 448.6C2181.4 448.6 2182.6 274.2 2183.9 274.2C2184.7 274.2 2185.4 463.0 2186.2 463.0C2187.3 463.0 2188.3 258.1 2189.4 258.1C2190.3 258.1 2191.1 467.0 2192.0 467.0C2193.0 467.0 2193.9 296.5 2194.9 296.5C2195.8 296.5 2196.4 411.8 2197.2 411.8C2198.4 411.8 2199.3 332.5 2200.5 332.5C2201.9 332.5 2203.1 439.4 2204.6 439.4C2205.6 439.4 2206.4 293.0 2207.3 293.0C2208.6 293.0 2209.7 452.0 2211.0 452.0C2212.2 452.0 2213.3 277.4 2214.5 277.4C2215.4 277.4 2216.3 482.3 2217.2 482.3C2218.7 482.3 2219.9 307.3 2221.3 307.3C2222.3 307.3 2223.1 462.4 2224.1 462.4C2225.3 462.4 2226.3 327.5 2227.5 327.5C2228.6 327.5 2229.5 411.2 2230.5 411.2C2232.3 411.2 2233.8 311.8 2235.6 311.8C2236.8 311.8 2237.8 388.9 2239.0 388.9C2240.2 388.9 2241.3 363.0 2242.5 363.0C2243.8 363.0 2245.0 401.5 2246.4 401.5C2247.3 401.5 2248.0 310.2 2248.9 310.2C2249.6 310.2 2250.2 433.2 2251.0 433.2C2252.2 433.2 2253.2 274.7 2254.4 274.7C2255.3 274.7 2256.1 453.2 2256.9 453.2C2258.5 453.2 2259.9 329.8 2261.5 329.8C2262.7 329.8 2263.8 433.2 2265.0 433.2C2266.2 433.2 2267.2 339.4 2268.4 339.4C2269.4 339.4 2270.2 390.0 2271.2 390.0C2272.0 390.0 2272.7 357.3 2273.5 357.3C2274.3 357.3 2275.0 398.1 2275.8 398.1C2276.7 398.1 2277.6 322.4 2278.5 322.4C2279.4 322.4 2280.2 405.7 2281.0 405.7C2282.0 405.7 2282.8 348.6 2283.8 348.6C2285.2 348.6 2286.3 385.0 2287.7 385.0C2288.5 385.0 2289.2 315.5 2290.0 315.5C2291.2 315.5 2292.2 448.6 2293.4 448.6C2294.3 448.6 2295.1 302.2 2296.0 302.2C2297.1 302.2 2298.1 429.1 2299.2 429.1C2300.1 429.1 2300.8 310.2 2301.7 310.2C2302.9 310.2 2303.9 409.6 2305.1 409.6C2305.7 409.6 2306.2 340.1 2306.8 340.1C2307.6 340.1 2308.2 394.1 2309.1 394.1C2309.9 394.1 2310.5 327.9 2311.3 327.9C2312.2 327.9 2312.8 418.7 2313.6 418.7C2314.6 418.7 2315.4 342.8 2316.3 342.8C2317.2 342.8 2318.0 410.7 2318.9 410.7C2319.2 410.7 2319.5 331.1 2319.8 331.1C2321.3 331.1 2322.5 383.6 2324.0 383.6C2324.4 383.6 2324.7 348.1 2325.1 348.1C2325.9 348.1 2326.6 387.2 2327.4 387.2C2328.2 387.2 2328.9 354.5 2329.7 354.5C2331.1 354.5 2332.3 411.2 2333.6 411.2C2334.3 411.2 2334.8 324.0 2335.5 324.0C2336.5 324.0 2337.4 416.4 2338.4 416.4C2339.4 416.4 2340.2 336.6 2341.2 336.6C2342.0 336.6 2342.7 396.9 2343.5 396.9C2344.5 396.9 2345.4 332.0 2346.5 332.0C2347.2 332.0 2347.8 446.3 2348.5 446.3C2349.4 446.3 2350.2 303.8 2351.1 303.8C2352.2 303.8 2353.2 418.0 2354.3 418.0C2355.2 418.0 2356.1 325.6 2357.0 325.6C2358.3 325.6 2359.4 434.8 2360.7 434.8C2361.7 434.8 2362.5 304.5 2363.5 304.5C2364.5 304.5 2365.4 429.5 2366.5 429.5C2367.3 429.5 2368.1 299.2 2369.0 299.2C2370.1 299.2 2371.1 426.8 2372.2 426.8C2373.0 426.8 2373.7 265.5 2374.5 265.5C2375.9 265.5 2377.0 438.3 2378.4 438.3C2379.1 438.3 2379.7 322.4 2380.5 322.4C2382.0 322.4 2383.3 401.5 2384.8 401.5C2386.4 401.5 2387.8 351.6 2389.4 351.6C2390.0 351.6 2390.5 397.4 2391.0 397.4C2392.9 397.4 2394.4 345.4 2396.3 345.4C2397.3 345.4 2398.1 414.1 2399.1 414.1C2399.9 414.1 2400.7 323.3 2401.6 323.3C2402.5 323.3 2403.4 406.1 2404.3 406.1C2405.5 406.1 2406.6 337.8 2407.8 337.8C2408.6 337.8 2409.3 408.4 2410.1 408.4C2411.4 408.4 2412.6 318.7 2414.0 318.7C2415.2 318.7 2416.2 414.8 2417.4 414.8C2418.5 414.8 2419.4 327.0 2420.4 327.0C2421.2 327.0 2421.9 408.4 2422.7 408.4C2423.3 408.4 2423.9 335.5 2424.5 335.5C2425.9 335.5 2427.1 427.9 2428.4 427.9C2429.2 427.9 2429.9 340.8 2430.7 340.8C2431.7 340.8 2432.5 395.0 2433.4 395.0C2434.3 395.0 2435.1 312.5 2436.0 312.5C2437.0 312.5 2437.8 426.3 2438.8 426.3C2440.1 426.3 2441.2 303.4 2442.4 303.4C2443.6 303.4 2444.5 419.4 2445.7 419.4C2446.5 419.4 2447.2 343.5 2448.0 343.5C2448.8 343.5 2449.4 401.0 2450.3 401.0C2451.1 401.0 2451.7 347.5 2452.5 347.5C2453.3 347.5 2454.0 401.1 2454.8 401.1C2455.5 401.1 2456.0 341.7 2456.7 341.7C2457.9 341.7 2458.9 415.3 2460.1 415.3C2461.6 415.3 2463.0 314.1 2464.5 314.1C2465.9 314.1 2467.2 423.3 2468.6 423.3C2469.3 423.3 2469.8 321.3 2470.5 321.3C2471.2 321.3 2471.9 408.8 2472.7 408.8C2473.5 408.8 2474.1 339.1 2474.9 339.1C2475.7 339.1 2476.3 424.0 2477.1 424.0C2477.8 424.0 2478.5 299.4 2479.2 299.4C2480.3 299.4 2481.3 393.5 2482.4 393.5C2483.4 393.5 2484.2 363.0 2485.1 363.0C2486.0 363.0 2486.6 408.9 2487.4 408.9C2488.5 408.9 2489.4 342.4 2490.4 342.4C2491.0 342.4 2491.5 423.3 2492.0 423.3C2492.8 423.3 2493.4 343.3 2494.2 343.3C2494.9 343.3 2495.6 385.9 2496.3 385.9C2497.1 385.9 2497.7 321.0 2498.5 321.0C2499.8 321.0 2501.0 394.2 2502.4 394.2C2504.2 394.2 2505.8 345.4 2507.6 345.4C2508.5 345.4 2509.1 400.4 2509.9 400.4C2511.1 400.4 2512.2 329.3 2513.4 329.3C2513.8 329.3 2514.1 413.0 2514.5 413.0C2514.9 413.0 2515.3 351.2 2515.7 351.2C2516.1 351.2 2516.4 413.0 2516.8 413.0C2517.6 413.0 2518.3 342.4 2519.1 342.4C2520.1 342.4 2520.9 401.5 2521.9 401.5C2522.9 401.5 2523.7 313.7 2524.6 313.7C2525.4 313.7 2526.1 436.0 2526.9 436.0C2529.0 436.0 2530.8 342.4 2532.9 342.4C2533.5 342.4 2534.0 395.8 2534.5 395.8C2535.4 395.8 2536.1 343.3 2536.9 343.3C2537.8 343.3 2538.5 422.6 2539.3 422.6C2539.8 422.6 2540.2 330.2 2540.7 330.2C2541.8 330.2 2542.8 402.7 2543.9 402.7C2545.1 402.7 2546.0 323.6 2547.1 323.6C2547.9 323.6 2548.6 434.8 2549.4 434.8C2550.9 434.8 2552.1 309.1 2553.6 309.1C2554.4 309.1 2555.1 436.0 2555.9 436.0C2557.0 436.0 2558.0 303.4 2559.1 303.4C2560.0 303.4 2560.7 445.6 2561.6 445.6C2562.6 445.6 2563.4 324.0 2564.4 324.0C2565.7 324.0 2566.9 417.1 2568.3 417.1C2569.2 417.1 2570.1 305.6 2571.0 305.6C2571.7 305.6 2572.2 451.6 2572.9 451.6C2573.9 451.6 2574.8 308.6 2575.8 308.6C2576.8 308.6 2577.6 466.5 2578.6 466.5C2579.4 466.5 2580.1 258.6 2580.9 258.6C2582.1 258.6 2583.1 444.7 2584.3 444.7C2585.4 444.7 2586.3 314.1 2587.3 314.1C2588.3 314.1 2589.1 443.3 2590.1 443.3C2591.1 443.3 2592.0 303.8 2593.1 303.8C2594.0 303.8 2594.9 421.0 2595.8 421.0C2597.4 421.0 2598.8 329.8 2600.4 329.8C2601.2 329.8 2601.9 418.7 2602.7 418.7C2603.7 418.7 2604.6 343.5 2605.7 343.5C2606.3 343.5 2606.9 401.7 2607.5 401.7C2608.2 401.7 2608.7 312.1 2609.4 312.1C2610.1 312.1 2610.7 433.2 2611.4 433.2C2612.8 433.2 2614.0 327.9 2615.3 327.9C2616.4 327.9 2617.3 404.3 2618.3 404.3C2619.1 404.3 2619.8 353.9 2620.6 353.9C2621.5 353.9 2622.3 389.5 2623.1 389.5C2624.0 389.5 2624.8 316.0 2625.7 316.0C2626.5 316.0 2627.2 419.9 2628.0 419.9C2629.1 419.9 2630.0 321.0 2631.2 321.0C2632.1 321.0 2633.0 447.4 2633.9 447.4C2635.1 447.4 2636.2 306.8 2637.4 306.8C2639.0 306.8 2640.4 393.5 2642.0 393.5C2642.7 393.5 2643.3 336.6 2644.0 336.6C2644.8 336.6 2645.5 383.5 2646.3 383.5C2647.1 383.5 2647.8 345.4 2648.6 345.4C2649.3 345.4 2649.8 413.0 2650.5 413.0C2651.5 413.0 2652.4 325.2 2653.4 325.2C2654.2 325.2 2654.9 396.5 2655.7 396.5C2656.6 396.5 2657.4 338.7 2658.3 338.7C2659.1 338.7 2659.9 389.6 2660.8 389.6C2660.9 389.6 2660.9 330.7 2661.0 330.7C2662.7 330.7 2664.2 387.7 2665.8 387.7C2666.1 387.7 2666.3 340.1 2666.5 340.1C2667.5 340.1 2668.4 387.7 2669.4 387.7C2670.4 387.7 2671.3 320.6 2672.3 320.6C2673.1 320.6 2673.8 440.1 2674.6 440.1C2675.8 440.1 2676.8 336.6 2678.0 336.6C2678.8 336.6 2679.5 376.3 2680.3 376.3C2681.9 376.3 2683.3 337.8 2684.9 337.8C2685.5 337.8 2685.9 415.8 2686.5 415.8C2687.8 415.8 2688.9 299.9 2690.2 299.9C2691.2 299.9 2692.1 414.1 2693.2 414.1C2694.1 414.1 2695.0 329.1 2695.9 329.1C2698.1 329.1 2699.9 405.0 2702.1 405.0C2702.6 405.0 2703.0 316.7 2703.5 316.7C2704.3 316.7 2704.9 389.7 2705.7 389.7C2706.5 389.7 2707.2 348.6 2707.9 348.6C2708.7 348.6 2709.4 422.2 2710.2 422.2C2710.6 422.2 2711.0 342.8 2711.5 342.8C2712.7 342.8 2713.7 396.4 2714.9 396.4C2716.0 396.4 2717.0 344.0 2718.2 344.0C2719.2 344.0 2720.0 418.0 2720.9 418.0C2721.8 418.0 2722.6 357.3 2723.5 357.3C2724.4 357.3 2725.3 394.6 2726.2 394.6C2727.3 394.6 2728.3 293.0 2729.4 293.0C2730.2 293.0 2730.8 426.3 2731.5 426.3C2732.5 426.3 2733.4 342.0 2734.4 342.0C2735.4 342.0 2736.2 383.6 2737.2 383.6C2737.4 383.6 2737.5 351.6 2737.7 351.6C2739.6 351.6 2741.1 395.1 2743.0 395.1C2744.2 395.1 2745.2 334.3 2746.4 334.3C2747.4 334.3 2748.2 421.0 2749.2 421.0C2750.7 421.0 2752.0 305.2 2753.5 305.2C2754.3 305.2 2754.9 422.6 2755.6 422.6C2757.2 422.6 2758.6 353.2 2760.2 353.2C2762.4 353.2 2764.2 407.9 2766.4 407.9C2767.0 407.9 2767.4 326.3 2768.0 326.3C2769.2 326.3 2770.2 415.8 2771.5 415.8C2772.0 415.8 2772.5 320.6 2773.1 320.6C2774.2 320.6 2775.1 403.4 2776.3 403.4C2776.8 403.4 2777.3 340.1 2777.9 340.1C2779.2 340.1 2780.4 385.4 2781.8 385.4C2783.0 385.4 2784.0 330.7 2785.2 330.7C2785.9 330.7 2786.4 414.1 2787.1 414.1C2787.9 414.1 2788.7 337.8 2789.6 337.8C2791.0 337.8 2792.1 405.0 2793.5 405.0C2794.7 405.0 2795.7 351.6 2796.9 351.6C2797.9 351.6 2798.7 378.1 2799.7 378.1C2800.7 378.1 2801.5 329.8 2802.4 329.8C2803.5 329.8 2804.4 414.6 2805.4 414.6C2806.2 414.6 2806.9 318.3 2807.7 318.3C2809.5 318.3 2811.0 407.3 2812.8 407.3C2813.8 407.3 2814.7 325.2 2815.8 325.2C2816.6 325.2 2817.3 412.5 2818.1 412.5C2819.3 412.5 2820.3 337.8 2821.5 337.8C2822.1 337.8 2822.7 405.0 2823.3 405.0C2824.2 405.0 2825.0 322.9 2825.9 322.9C2826.6 322.9 2827.2 421.0 2827.9 421.0C2830.1 421.0 2832.0 328.8 2834.1 328.8C2834.9 328.8 2835.6 418.0 2836.4 418.0C2837.2 418.0 2837.9 332.0 2838.7 332.0C2839.9 332.0 2841.0 395.8 2842.2 395.8C2843.2 395.8 2844.1 347.0 2845.1 347.0C2846.3 347.0 2847.2 402.7 2848.4 402.7C2849.0 402.7 2849.6 327.9 2850.2 327.9C2851.4 327.9 2852.4 394.6 2853.6 394.6C2854.7 394.6 2855.6 331.6 2856.6 331.6C2857.4 331.6 2858.0 426.8 2858.7 426.8C2859.6 426.8 2860.3 337.8 2861.2 337.8C2862.3 337.8 2863.3 398.9 2864.4 398.9C2865.6 398.9 2866.5 343.5 2867.6 343.5C2868.5 343.5 2869.3 418.3 2870.2 418.3C2871.2 418.3 2872.1 346.3 2873.2 346.3C2874.1 346.3 2875.0 384.3 2875.9 384.3C2876.7 384.3 2877.4 342.4 2878.2 342.4C2878.9 342.4 2879.4 396.5 2880.0 396.5C2881.1 396.5 2882.0 328.4 2883.0 328.4C2884.2 328.4 2885.3 436.0 2886.5 436.0C2887.2 436.0 2887.8 306.3 2888.5 306.3C2889.7 306.3 2890.8 392.8 2892.0 392.8C2893.3 392.8 2894.4 336.2 2895.7 336.2C2896.5 336.2 2897.2 395.8 2898.0 395.8C2899.2 395.8 2900.2 349.3 2901.4 349.3C2902.2 349.3 2902.9 410.7 2903.7 410.7C2904.7 410.7 2905.6 328.8 2906.7 328.8C2907.6 328.8 2908.5 412.5 2909.4 412.5C2910.2 412.5 2910.9 290.3 2911.7 290.3C2912.9 290.3 2913.8 402.7 2914.9 402.7C2915.7 402.7 2916.4 336.2 2917.2 336.2C2919.3 336.2 2921.1 406.6 2923.2 406.6C2924.4 406.6 2925.4 324.0 2926.7 324.0C2927.7 324.0 2928.6 426.3 2929.6 426.3C2930.4 426.3 2931.0 331.6 2931.7 331.6C2932.7 331.6 2933.6 412.0 2934.6 412.0C2935.6 412.0 2936.4 316.0 2937.4 316.0C2938.1 316.0 2938.6 435.5 2939.3 435.5C2940.2 435.5 2941.1 328.8 2942.0 328.8C2944.0 328.8 2945.8 406.6 2947.8 406.6C2948.2 406.6 2948.5 344.7 2948.9 344.7C2950.1 344.7 2951.2 392.3 2952.4 392.3C2953.1 392.3 2953.7 341.7 2954.4 341.7C2955.3 341.7 2956.1 401.1 2957.0 401.1C2957.8 401.1 2958.5 317.8 2959.3 317.8C2960.3 317.8 2961.2 390.5 2962.2 390.5C2964.2 390.5 2965.8 344.7 2967.8 344.7C2968.4 344.7 2968.9 395.8 2969.6 395.8C2971.0 395.8 2972.3 350.4 2973.7 350.4C2974.3 350.4 2974.8 405.0 2975.3 405.0C2976.8 405.0 2978.0 319.9 2979.5 319.9C2980.0 319.9 2980.5 410.0 2981.1 410.0C2982.3 410.0 2983.3 327.0 2984.5 327.0C2985.9 327.0 2987.0 388.9 2988.4 388.9C2989.9 388.9 2991.1 357.8 2992.5 357.8C2993.2 357.8 2993.7 400.8 2994.4 400.8C2996.0 400.8 2997.4 359.1 2999.0 359.1C3000.5 359.1 3001.8 427.2 3003.3 427.2C3004.2 427.2 3005.0 329.3 3005.9 329.3C3006.7 329.3 3007.5 397.1 3008.4 397.1C3009.3 397.1 3010.0 329.3 3010.9 329.3C3011.6 329.3 3012.1 393.5 3012.8 393.5C3014.1 393.5 3015.3 343.5 3016.7 343.5C3017.3 343.5 3017.8 402.7 3018.5 402.7C3019.9 402.7 3021.0 335.5 3022.4 335.5C3023.6 335.5 3024.6 394.6 3025.8 394.6C3026.7 394.6 3027.5 326.3 3028.4 326.3C3029.3 326.3 3030.2 429.1 3031.1 429.1C3032.1 429.1 3032.9 337.8 3033.9 337.8C3034.8 337.8 3035.7 394.2 3036.6 394.2C3037.5 394.2 3038.3 343.5 3039.2 343.5C3040.2 343.5 3041.2 382.1 3042.3 382.1C3043.3 382.1 3044.3 366.5 3045.4 366.5C3046.3 366.5 3047.1 384.9 3048.0 384.9C3048.9 384.9 3049.7 330.9 3050.6 330.9C3051.2 330.9 3051.7 398.1 3052.2 398.1C3053.0 398.1 3053.7 311.4 3054.5 311.4C3054.9 311.4 3055.3 393.0 3055.7 393.0C3056.1 393.0 3056.4 310.9 3056.8 310.9C3057.4 310.9 3057.9 415.3 3058.4 415.3C3059.6 415.3 3060.7 327.9 3061.9 327.9C3062.7 327.9 3063.4 385.4 3064.2 385.4C3065.0 385.4 3065.7 348.1 3066.5 348.1C3067.7 348.1 3068.7 400.4 3069.9 400.4C3070.6 400.4 3071.3 338.5 3072.0 338.5C3072.9 338.5 3073.6 392.3 3074.5 392.3C3075.7 392.3 3076.8 350.9 3078.0 350.9C3079.4 350.9 3080.6 406.1 3082.1 406.1C3082.7 406.1 3083.1 355.0 3083.7 355.0C3085.1 355.0 3086.2 403.8 3087.6 403.8C3088.3 403.8 3088.9 318.7 3089.7 318.7C3090.8 318.7 3091.8 402.0 3092.9 402.0C3093.9 402.0 3094.8 311.8 3095.9 311.8C3096.7 311.8 3097.4 400.4 3098.2 400.4C3099.4 400.4 3100.4 341.2 3101.6 341.2C3102.5 341.2 3103.2 381.6 3104.1 381.6C3105.0 381.6 3105.8 352.7 3106.7 352.7C3106.9 352.7 3107.1 386.6 3107.3 386.6C3109.0 386.6 3110.5 334.3 3112.2 334.3C3112.8 334.3 3113.4 408.4 3114.0 408.4C3115.6 408.4 3117.0 344.0 3118.6 344.0C3119.6 344.0 3120.5 385.0 3121.6 385.0C3123.0 385.0 3124.3 338.9 3125.7 338.9C3126.7 338.9 3127.5 399.2 3128.5 399.2C3129.9 399.2 3131.2 335.3 3132.6 335.3C3134.0 335.3 3135.1 390.0 3136.5 390.0C3137.1 390.0 3137.5 357.3 3138.1 357.3C3138.9 357.3 3139.6 385.3 3140.4 385.3C3141.2 385.3 3141.9 351.6 3142.7 351.6C3143.6 351.6 3144.3 410.7 3145.2 410.7C3146.0 410.7 3146.7 348.1 3147.5 348.1C3149.1 348.1 3150.5 405.0 3152.1 405.0C3153.1 405.0 3153.9 344.2 3154.9 344.2C3156.2 344.2 3157.4 399.7 3158.8 399.7C3159.4 399.7 3160.0 348.1 3160.6 348.1C3161.3 348.1 3162.0 395.6 3162.7 395.6C3163.4 395.6 3164.0 337.8 3164.7 337.8C3165.3 337.8 3165.8 416.0 3166.4 416.0C3167.1 416.0 3167.7 318.7 3168.4 318.7C3169.5 318.7 3170.4 416.0 3171.4 416.0C3172.3 416.0 3173.0 342.4 3173.9 342.4C3174.7 342.4 3175.3 402.7 3176.0 402.7C3177.4 402.7 3178.7 357.8 3180.1 357.8C3181.5 357.8 3182.7 383.2 3184.0 383.2C3185.5 383.2 3186.7 349.3 3188.2 349.3C3189.4 349.3 3190.4 399.2 3191.6 399.2C3192.7 399.2 3193.7 327.0 3194.8 327.0C3195.9 327.0 3196.9 410.2 3198.0 410.2C3199.2 410.2 3200.3 338.5 3201.5 338.5C3202.8 338.5 3204.0 391.9 3205.4 391.9C3205.8 391.9 3206.1 361.4 3206.5 361.4C3208.5 361.4 3210.3 395.8 3212.3 395.8C3212.7 395.8 3213.0 346.3 3213.4 346.3C3214.5 346.3 3215.4 385.5 3216.4 385.5C3217.4 385.5 3218.3 341.2 3219.4 341.2C3220.1 341.2 3220.7 390.5 3221.5 390.5C3222.8 390.5 3224.0 351.6 3225.4 351.6C3226.4 351.6 3227.3 402.7 3228.3 402.7C3229.7 402.7 3230.9 342.4 3232.2 342.4C3233.0 342.4 3233.7 388.9 3234.5 388.9C3235.6 388.9 3236.5 361.4 3237.5 361.4C3238.6 361.4 3239.5 396.9 3240.5 396.9C3241.1 396.9 3241.6 353.4 3242.1 353.4C3243.5 353.4 3244.7 394.2 3246.0 394.2C3247.3 394.2 3248.4 336.2 3249.7 336.2C3250.8 336.2 3251.8 388.9 3252.9 388.9C3254.0 388.9 3254.8 356.2 3255.9 356.2C3257.1 356.2 3258.1 411.8 3259.3 411.8C3260.0 411.8 3260.5 347.7 3261.2 347.7C3262.8 347.7 3264.2 397.4 3265.8 397.4C3266.1 397.4 3266.4 341.2 3266.7 341.2C3267.7 341.2 3268.6 386.4 3269.7 386.4C3270.7 386.4 3271.6 336.2 3272.7 336.2C3273.2 336.2 3273.7 398.8 3274.3 398.8C3275.1 398.8 3275.8 355.0 3276.6 355.0C3277.8 355.0 3278.8 384.3 3280.0 384.3C3280.4 384.3 3280.7 357.8 3281.1 357.8C3282.2 357.8 3283.0 385.0 3284.0 385.0C3285.0 385.0 3285.9 354.5 3286.9 354.5C3287.5 354.5 3288.1 391.9 3288.7 391.9C3289.9 391.9 3291.0 340.1 3292.2 340.1C3292.7 340.1 3293.2 390.0 3293.8 390.0C3295.6 390.0 3297.2 354.5 3299.1 354.5C3300.0 354.5 3300.8 385.4 3301.8 385.4C3303.2 385.4 3304.3 336.6 3305.7 336.6C3306.8 336.6 3307.8 413.0 3308.9 413.0C3310.1 413.0 3311.0 322.9 3312.1 322.9C3313.6 322.9 3314.8 398.1 3316.3 398.1C3317.5 398.1 3318.5 329.3 3319.7 329.3C3320.7 329.3 3321.5 395.8 3322.5 395.8C3323.3 395.8 3324.0 350.0 3324.8 350.0C3325.7 350.0 3326.4 388.2 3327.3 388.2C3328.2 388.2 3328.9 352.7 3329.8 352.7C3330.3 352.7 3330.7 396.5 3331.2 396.5C3332.2 396.5 3333.1 342.4 3334.2 342.4C3334.9 342.4 3335.5 420.3 3336.2 420.3C3337.8 420.3 3339.1 347.7 3340.6 347.7C3341.5 347.7 3342.3 398.1 3343.1 398.1C3343.9 398.1 3344.6 356.2 3345.4 356.2C3346.5 356.2 3347.4 399.7 3348.4 399.7C3349.1 399.7 3349.6 331.6 3350.3 331.6C3351.8 331.6 3353.1 378.6 3354.6 378.6C3354.9 378.6 3355.1 351.6 3355.3 351.6C3357.1 351.6 3358.6 392.3 3360.4 392.3C3361.4 392.3 3362.3 337.3 3363.3 337.3C3364.3 337.3 3365.1 399.7 3366.1 399.7C3367.1 399.7 3367.9 347.0 3368.8 347.0C3369.7 347.0 3370.5 421.0 3371.4 421.0C3372.1 421.0 3372.7 331.6 3373.4 331.6C3374.9 331.6 3376.1 383.6 3377.6 383.6C3378.6 383.6 3379.5 330.9 3380.6 330.9C3381.7 330.9 3382.6 405.7 3383.8 405.7C3384.8 405.7 3385.7 335.5 3386.8 335.5C3388.0 335.5 3389.0 388.9 3390.2 388.9C3391.0 388.9 3391.7 361.9 3392.5 361.9C3393.2 361.9 3393.8 389.2 3394.6 389.2C3395.3 389.2 3395.9 348.1 3396.6 348.1C3397.6 348.1 3398.4 397.4 3399.4 397.4C3400.6 397.4 3401.6 337.8 3402.8 337.8C3403.6 337.8 3404.3 390.5 3405.1 390.5C3406.0 390.5 3406.8 352.1 3407.8 352.1C3408.7 352.1 3409.5 389.6 3410.4 389.6C3410.8 389.6 3411.2 335.5 3411.6 335.5C3412.9 335.5 3414.1 417.6 3415.5 417.6C3416.5 417.6 3417.4 333.2 3418.4 333.2C3419.6 333.2 3420.5 396.5 3421.7 396.5C3422.7 396.5 3423.6 350.9 3424.6 350.9C3425.8 350.9 3426.9 408.9 3428.1 408.9C3429.6 408.9 3430.9 313.2 3432.4 313.2C3433.3 313.2 3434.1 405.0 3435.0 405.0C3436.0 405.0 3436.9 345.4 3438.0 345.4C3438.9 345.4 3439.7 392.3 3440.7 392.3C3441.9 392.3 3442.9 334.8 3444.2 334.8C3445.4 334.8 3446.4 415.8 3447.6 415.8C3448.4 415.8 3449.1 335.7 3449.9 335.7C3451.5 335.7 3452.9 395.8 3454.5 395.8C3455.3 395.8 3456.0 330.4 3456.8 330.4C3457.7 330.4 3458.6 414.8 3459.5 414.8C3460.7 414.8 3461.8 346.3 3463.0 346.3C3464.4 346.3 3465.7 392.3 3467.1 392.3C3467.9 392.3 3468.6 355.5 3469.4 355.5C3470.2 355.5 3470.9 378.6 3471.7 378.6C3472.5 378.6 3473.2 356.8 3474.0 356.8C3474.4 356.8 3474.7 384.3 3475.1 384.3C3476.5 384.3 3477.7 349.3 3479.1 349.3C3480.1 349.3 3481.0 387.7 3482.0 387.7C3482.8 387.7 3483.5 350.9 3484.3 350.9C3485.8 350.9 3487.0 384.3 3488.5 384.3C3489.8 384.3 3491.0 350.0 3492.4 350.0C3492.9 350.0 3493.4 397.4 3494.0 397.4C3495.4 397.4 3496.7 346.5 3498.1 346.5C3499.7 346.5 3501.1 383.2 3502.7 383.2C3503.1 383.2 3503.4 355.5 3503.8 355.5C3504.7 355.5 3505.3 387.1 3506.1 387.1C3506.9 387.1 3507.6 355.5 3508.4 355.5C3509.0 355.5 3509.5 401.1 3510.0 401.1C3511.5 401.1 3512.7 357.8 3514.2 357.8C3515.0 357.8 3515.7 383.8 3516.5 383.8C3517.6 383.8 3518.6 355.9 3519.7 355.9C3520.6 355.9 3521.3 395.1 3522.2 395.1C3523.4 395.1 3524.5 350.4 3525.7 350.4C3526.6 350.4 3527.4 391.9 3528.4 391.9C3529.2 391.9 3529.9 348.1 3530.7 348.1C3531.4 348.1 3532.1 384.5 3532.8 384.5C3533.5 384.5 3534.1 366.9 3534.8 366.9C3535.6 366.9 3536.3 392.8 3537.1 392.8C3537.9 392.8 3538.6 338.9 3539.4 338.9C3540.6 338.9 3541.7 411.8 3542.9 411.8C3543.5 411.8 3544.1 329.1 3544.7 329.1C3545.9 329.1 3547.0 395.8 3548.2 395.8C3548.7 395.8 3549.2 341.2 3549.8 341.2" stroke="#000" stroke-width="6.25" fill="none" stroke-linejoin="round" stroke-linecap="butt"/>
<path d="M355.50 659.5v15.2M916.50 659.5v15.2M1477.50 659.5v15.2M2037.50 659.5v15.2M2598.50 659.5v15.2M3159.50 659.5v15.2M355.5 91.50h-15.2M355.5 231.50h-15.2M355.5 370.50h-15.2M355.5 510.50h-15.2M355.5 649.50h-15.2" stroke="#000" stroke-width="3" fill="none"/>
<rect x="355.5" y="82.5" width="3197.0" height="577.0" fill="none" stroke="#000" stroke-width="3"/>
<path d="M916.50 858.5V1436.5M1477.50 858.5V1436.5M2037.50 858.5V1436.5M2598.50 858.5V1436.5M3159.50 858.5V1436.5M355.5 949.50H3552.5M355.5 1048.50H3552.5M355.5 1147.50H3552.5M355.5 1246.50H3552.5M355.5 1345.50H3552.5" stroke="#b0b0b0" stroke-width="3" fill="none"/>
<path clip-path="url(#c1)" d="M357.3 1131.3C358.3 1131.3 359.1 1154.5 360.1 1154.5C360.7 1154.5 361.2 1126.7 361.9 1126.7C362.8 1126.7 363.5 1151.7 364.4 1151.7C365.3 1151.7 366.1 1138.8 366.9 1138.8C367.4 1138.8 367.8 1159.1 368.3 1159.1C369.9 1159.1 371.3 1145.7 372.9 1145.7C373.7 1145.7 374.4 1147.6 375.2 1147.6C376.2 1147.6 377.0 1131.3 378.0 1131.3C379.3 1131.3 380.5 1178.6 381.9 1178.6C382.7 1178.6 383.5 1132.0 384.4 1132.0C385.8 1132.0 386.9 1155.6 388.3 1155.6C389.3 1155.6 390.2 1128.5 391.3 1128.5C392.4 1128.5 393.4 1183.2 394.5 1183.2C395.3 1183.2 396.0 1114.7 396.8 1114.7C397.8 1114.7 398.7 1198.1 399.8 1198.1C400.8 1198.1 401.7 1117.7 402.8 1117.7C404.0 1117.7 405.0 1187.1 406.2 1187.1C407.0 1187.1 407.7 1132.0 408.5 1132.0C409.5 1132.0 410.3 1174.0 411.2 1174.0C412.2 1174.0 413.0 1122.3 414.0 1122.3C415.0 1122.3 415.9 1182.5 417.0 1182.5C418.4 1182.5 419.7 1110.6 421.1 1110.6C422.1 1110.6 422.9 1165.9 423.9 1165.9C425.1 1165.9 426.1 1100.3 427.3 1100.3C427.9 1100.3 428.4 1168.2 428.9 1168.2C430.4 1168.2 431.6 1115.4 433.1 1115.4C433.6 1115.4 434.1 1172.1 434.7 1172.1C435.6 1172.1 436.4 1139.7 437.3 1139.7C438.2 1139.7 439.0 1153.3 439.9 1153.3C440.1 1153.3 440.2 1138.8 440.4 1138.8C441.2 1138.8 441.9 1158.9 442.7 1158.9C443.5 1158.9 444.2 1141.8 445.0 1141.8C445.2 1141.8 445.4 1174.0 445.7 1174.0C446.3 1174.0 446.8 1150.0 447.4 1150.0C448.0 1150.0 448.5 1180.9 449.1 1180.9C449.9 1180.9 450.6 1143.4 451.4 1143.4C452.8 1143.4 454.0 1162.0 455.3 1162.0C456.0 1162.0 456.5 1126.2 457.2 1126.2C458.8 1126.2 460.2 1159.1 461.8 1159.1C462.6 1159.1 463.3 1136.5 464.1 1136.5C465.1 1136.5 466.0 1172.4 467.0 1172.4C468.0 1172.4 468.8 1131.3 469.8 1131.3C471.0 1131.3 472.0 1170.5 473.2 1170.5C474.3 1170.5 475.2 1136.5 476.2 1136.5C477.0 1136.5 477.7 1172.8 478.5 1172.8C479.7 1172.8 480.8 1114.7 482.0 1114.7C483.2 1114.7 484.2 1167.1 485.4 1167.1C486.4 1167.1 487.2 1119.3 488.2 1119.3C489.4 1119.3 490.4 1159.1 491.6 1159.1C492.5 1159.1 493.2 1095.9 494.1 1095.9C495.4 1095.9 496.5 1157.9 497.8 1157.9C498.6 1157.9 499.3 1116.6 500.1 1116.6C501.3 1116.6 502.3 1153.3 503.5 1153.3C504.3 1153.3 505.0 1117.5 505.8 1117.5C507.7 1117.5 509.3 1175.1 511.1 1175.1C511.9 1175.1 512.6 1132.0 513.4 1132.0C514.7 1132.0 515.8 1164.1 517.1 1164.1C517.4 1164.1 517.7 1135.4 518.0 1135.4C519.2 1135.4 520.2 1156.3 521.5 1156.3C522.3 1156.3 522.9 1124.6 523.7 1124.6C524.8 1124.6 525.7 1149.9 526.7 1149.9C527.7 1149.9 528.5 1136.5 529.5 1136.5C530.3 1136.5 531.0 1160.2 531.8 1160.2C532.7 1160.2 533.6 1134.3 534.5 1134.3C535.6 1134.3 536.5 1154.0 537.5 1154.0C539.4 1154.0 541.0 1114.3 542.8 1114.3C543.8 1114.3 544.6 1168.2 545.6 1168.2C546.8 1168.2 547.8 1135.9 549.0 1135.9C549.8 1135.9 550.5 1157.2 551.3 1157.2C553.1 1157.2 554.7 1126.7 556.6 1126.7C557.5 1126.7 558.4 1169.4 559.3 1169.4C560.4 1169.4 561.3 1137.7 562.3 1137.7C563.0 1137.7 563.6 1164.6 564.3 1164.6C565.0 1164.6 565.5 1143.4 566.2 1143.4C566.9 1143.4 567.4 1172.8 568.1 1172.8C569.4 1172.8 570.6 1118.2 572.0 1118.2C572.8 1118.2 573.5 1174.0 574.3 1174.0C575.3 1174.0 576.2 1146.9 577.2 1146.9C578.0 1146.9 578.7 1179.7 579.5 1179.7C580.5 1179.7 581.3 1113.6 582.3 1113.6C583.3 1113.6 584.2 1179.3 585.3 1179.3C586.5 1179.3 587.5 1133.1 588.7 1133.1C589.7 1133.1 590.5 1179.7 591.5 1179.7C592.7 1179.7 593.7 1130.3 594.9 1130.3C595.7 1130.3 596.4 1179.7 597.2 1179.7C598.1 1179.7 598.9 1126.9 599.7 1126.9C600.9 1126.9 601.8 1172.8 603.0 1172.8C603.8 1172.8 604.4 1145.7 605.3 1145.7C606.1 1145.7 606.7 1160.2 607.5 1160.2C609.0 1160.2 610.2 1125.1 611.7 1125.1C612.4 1125.1 613.0 1179.7 613.7 1179.7C614.8 1179.7 615.7 1117.7 616.7 1117.7C617.9 1117.7 619.0 1182.0 620.2 1182.0C621.2 1182.0 622.1 1137.2 623.2 1137.2C624.4 1137.2 625.4 1174.7 626.6 1174.7C627.7 1174.7 628.7 1132.6 629.8 1132.6C630.9 1132.6 631.8 1154.9 632.8 1154.9C633.8 1154.9 634.6 1122.1 635.6 1122.1C636.4 1122.1 637.2 1174.0 638.1 1174.0C639.2 1174.0 640.2 1105.1 641.3 1105.1C642.5 1105.1 643.5 1165.9 644.7 1165.9C645.8 1165.9 646.7 1126.7 647.7 1126.7C648.9 1126.7 650.0 1168.2 651.2 1168.2C652.0 1168.2 652.7 1117.7 653.5 1117.7C654.4 1117.7 655.3 1170.1 656.2 1170.1C657.1 1170.1 657.9 1118.2 658.7 1118.2C660.1 1118.2 661.3 1168.2 662.6 1168.2C663.8 1168.2 664.7 1111.3 665.9 1111.3C666.7 1111.3 667.5 1166.4 668.4 1166.4C669.6 1166.4 670.6 1126.7 671.8 1126.7C672.6 1126.7 673.3 1174.0 674.1 1174.0C675.3 1174.0 676.4 1097.5 677.6 1097.5C678.4 1097.5 679.1 1180.9 679.9 1180.9C681.2 1180.9 682.4 1117.5 683.8 1117.5C684.6 1117.5 685.3 1186.1 686.1 1186.1C687.1 1186.1 688.0 1101.0 689.1 1101.0C690.1 1101.0 691.0 1174.0 692.0 1174.0C693.2 1174.0 694.1 1132.0 695.3 1132.0C696.1 1132.0 696.7 1190.0 697.5 1190.0C698.7 1190.0 699.6 1124.4 700.8 1124.4C701.7 1124.4 702.6 1161.8 703.5 1161.8C704.5 1161.8 705.3 1132.6 706.3 1132.6C707.1 1132.6 707.8 1164.8 708.6 1164.8C709.6 1164.8 710.5 1119.3 711.6 1119.3C712.7 1119.3 713.6 1163.6 714.8 1163.6C715.8 1163.6 716.7 1149.2 717.8 1149.2C718.7 1149.2 719.5 1163.6 720.5 1163.6C721.9 1163.6 723.0 1125.1 724.4 1125.1C725.3 1125.1 726.1 1153.0 727.0 1153.0C728.0 1153.0 728.8 1132.6 729.7 1132.6C730.0 1132.6 730.3 1159.1 730.6 1159.1C732.1 1159.1 733.4 1135.4 735.0 1135.4C736.0 1135.4 736.9 1149.4 738.0 1149.4C738.8 1149.4 739.4 1130.3 740.3 1130.3C742.2 1130.3 743.8 1156.8 745.8 1156.8C746.0 1156.8 746.2 1132.0 746.5 1132.0C747.6 1132.0 748.5 1153.1 749.7 1153.1C750.8 1153.1 751.8 1125.8 752.9 1125.8C753.7 1125.8 754.4 1170.1 755.2 1170.1C756.7 1170.1 758.0 1130.8 759.5 1130.8C760.6 1130.8 761.5 1166.4 762.5 1166.4C763.3 1166.4 764.0 1140.0 764.8 1140.0C765.9 1140.0 766.8 1160.2 767.8 1160.2C768.5 1160.2 769.1 1136.5 769.9 1136.5C771.6 1136.5 773.0 1168.7 774.7 1168.7C775.9 1168.7 776.9 1144.1 778.1 1144.1C779.1 1144.1 779.9 1180.2 780.9 1180.2C781.6 1180.2 782.3 1145.9 783.0 1145.9C783.8 1145.9 784.4 1162.4 785.2 1162.4C785.9 1162.4 786.6 1136.1 787.3 1136.1C787.5 1136.1 787.6 1164.8 787.8 1164.8C789.8 1164.8 791.5 1130.3 793.5 1130.3C794.3 1130.3 795.0 1152.6 795.8 1152.6C797.0 1152.6 798.1 1111.3 799.3 1111.3C800.9 1111.3 802.2 1164.1 803.8 1164.1C804.7 1164.1 805.3 1149.2 806.1 1149.2C807.5 1149.2 808.7 1163.2 810.0 1163.2C810.7 1163.2 811.2 1139.5 811.9 1139.5C813.5 1139.5 814.9 1159.1 816.5 1159.1C818.1 1159.1 819.5 1118.2 821.1 1118.2C821.9 1118.2 822.6 1162.5 823.4 1162.5C824.0 1162.5 824.6 1135.1 825.3 1135.1C826.0 1135.1 826.6 1166.4 827.3 1166.4C828.1 1166.4 828.9 1132.0 829.8 1132.0C831.2 1132.0 832.3 1154.9 833.7 1154.9C834.7 1154.9 835.6 1118.9 836.7 1118.9C838.0 1118.9 839.2 1186.6 840.6 1186.6C841.4 1186.6 842.1 1130.3 842.9 1130.3C844.0 1130.3 844.9 1163.3 846.0 1163.3C847.1 1163.3 848.0 1119.3 849.1 1119.3C849.5 1119.3 849.8 1159.1 850.2 1159.1C851.2 1159.1 852.1 1138.4 853.1 1138.4C854.1 1138.4 855.0 1170.5 856.0 1170.5C856.2 1170.5 856.4 1143.4 856.7 1143.4C858.3 1143.4 859.6 1160.2 861.2 1160.2C862.0 1160.2 862.7 1109.5 863.5 1109.5C864.6 1109.5 865.5 1170.5 866.5 1170.5C867.7 1170.5 868.6 1117.5 869.7 1117.5C870.9 1117.5 871.8 1180.2 873.0 1180.2C873.9 1180.2 874.7 1121.6 875.7 1121.6C876.4 1121.6 877.0 1154.6 877.7 1154.6C878.3 1154.6 878.9 1126.2 879.6 1126.2C880.0 1126.2 880.4 1158.6 880.8 1158.6C882.0 1158.6 883.0 1138.8 884.2 1138.8C884.8 1138.8 885.2 1182.0 885.8 1182.0C886.9 1182.0 887.9 1102.8 889.0 1102.8C890.2 1102.8 891.1 1200.4 892.2 1200.4C893.0 1200.4 893.7 1114.7 894.5 1114.7C895.7 1114.7 896.6 1170.5 897.8 1170.5C899.0 1170.5 900.1 1131.3 901.4 1131.3C902.4 1131.3 903.2 1156.8 904.2 1156.8C905.1 1156.8 906.0 1126.2 906.9 1126.2C908.0 1126.2 908.9 1168.7 909.9 1168.7C910.7 1168.7 911.4 1111.3 912.2 1111.3C913.8 1111.3 915.2 1147.6 916.8 1147.6C917.1 1147.6 917.3 1112.0 917.5 1112.0C919.4 1112.0 921.1 1177.4 923.0 1177.4C923.7 1177.4 924.2 1133.6 924.8 1133.6C926.2 1133.6 927.4 1161.4 928.7 1161.4C930.0 1161.4 931.0 1111.3 932.2 1111.3C933.5 1111.3 934.6 1154.5 935.9 1154.5C936.8 1154.5 937.7 1104.4 938.6 1104.4C939.4 1104.4 940.1 1179.7 940.9 1179.7C942.1 1179.7 943.2 1101.0 944.4 1101.0C945.4 1101.0 946.3 1196.2 947.3 1196.2C948.2 1196.2 949.0 1082.6 949.9 1082.6C951.2 1082.6 952.3 1183.2 953.5 1183.2C954.4 1183.2 955.2 1088.3 956.1 1088.3C957.2 1088.3 958.2 1174.0 959.3 1174.0C960.1 1174.0 960.8 1114.7 961.6 1114.7C962.6 1114.7 963.5 1190.7 964.6 1190.7C965.9 1190.7 967.1 1106.0 968.5 1106.0C969.5 1106.0 970.3 1161.2 971.3 1161.2C972.3 1161.2 973.2 1108.3 974.2 1108.3C974.4 1108.3 974.7 1165.9 974.9 1165.9C975.9 1165.9 976.8 1096.8 977.9 1096.8C978.9 1096.8 979.8 1186.6 980.9 1186.6C981.8 1186.6 982.7 1103.7 983.6 1103.7C984.7 1103.7 985.7 1153.3 986.8 1153.3C987.6 1153.3 988.3 1117.0 989.1 1117.0C990.3 1117.0 991.4 1154.9 992.6 1154.9C993.1 1154.9 993.6 1118.9 994.2 1118.9C996.2 1118.9 997.9 1160.9 999.9 1160.9C1000.6 1160.9 1001.1 1119.8 1001.8 1119.8C1003.0 1119.8 1004.0 1157.9 1005.2 1157.9C1006.0 1157.9 1006.7 1127.4 1007.5 1127.4C1008.1 1127.4 1008.7 1184.3 1009.3 1184.3C1010.3 1184.3 1011.1 1128.5 1012.1 1128.5C1013.0 1128.5 1013.8 1163.8 1014.7 1163.8C1015.7 1163.8 1016.4 1126.2 1017.4 1126.2C1017.9 1126.2 1018.4 1172.8 1019.0 1172.8C1020.0 1172.8 1020.9 1130.8 1022.0 1130.8C1022.8 1130.8 1023.6 1192.3 1024.5 1192.3C1025.5 1192.3 1026.3 1110.6 1027.2 1110.6C1028.4 1110.6 1029.3 1169.4 1030.5 1169.4C1031.3 1169.4 1032.0 1126.7 1032.8 1126.7C1033.7 1126.7 1034.5 1165.9 1035.5 1165.9C1037.1 1165.9 1038.5 1132.6 1040.1 1132.6C1041.1 1132.6 1042.0 1174.7 1043.1 1174.7C1043.9 1174.7 1044.6 1125.1 1045.4 1125.1C1046.3 1125.1 1047.0 1171.8 1047.9 1171.8C1048.8 1171.8 1049.5 1098.7 1050.4 1098.7C1051.1 1098.7 1051.6 1186.1 1052.3 1186.1C1053.5 1186.1 1054.5 1100.5 1055.7 1100.5C1056.5 1100.5 1057.2 1193.5 1058.0 1193.5C1059.2 1193.5 1060.2 1151.5 1061.5 1151.5C1062.7 1151.5 1063.7 1207.3 1064.9 1207.3C1066.0 1207.3 1067.0 1112.9 1068.1 1112.9C1069.1 1112.9 1069.9 1180.3 1070.9 1180.3C1071.8 1180.3 1072.7 1145.7 1073.6 1145.7C1073.9 1145.7 1074.2 1174.0 1074.5 1174.0C1076.2 1174.0 1077.7 1132.6 1079.4 1132.6C1080.3 1132.6 1081.2 1217.6 1082.1 1217.6C1082.9 1217.6 1083.6 1065.4 1084.4 1065.4C1085.3 1065.4 1086.1 1241.7 1086.9 1241.7C1088.1 1241.7 1089.0 1114.7 1090.2 1114.7C1091.4 1114.7 1092.4 1183.2 1093.6 1183.2C1094.8 1183.2 1095.8 1108.3 1097.0 1108.3C1097.9 1108.3 1098.7 1245.2 1099.6 1245.2C1100.5 1245.2 1101.4 1112.4 1102.3 1112.4C1103.3 1112.4 1104.1 1203.8 1105.1 1203.8C1106.3 1203.8 1107.3 1165.2 1108.5 1165.2C1108.9 1165.2 1109.3 1192.3 1109.7 1192.3C1111.3 1192.3 1112.7 1157.2 1114.3 1157.2C1115.1 1157.2 1115.8 1195.8 1116.6 1195.8C1117.4 1195.8 1118.0 1133.8 1118.8 1133.8C1120.9 1133.8 1122.6 1183.2 1124.6 1183.2C1125.2 1183.2 1125.8 1127.8 1126.4 1127.8C1127.6 1127.8 1128.7 1203.8 1129.9 1203.8C1130.8 1203.8 1131.7 1148.0 1132.6 1148.0C1133.7 1148.0 1134.6 1176.3 1135.6 1176.3C1136.5 1176.3 1137.3 1121.2 1138.1 1121.2C1139.2 1121.2 1140.1 1223.8 1141.1 1223.8C1142.2 1223.8 1143.2 1126.2 1144.3 1126.2C1145.1 1126.2 1145.7 1165.9 1146.4 1165.9C1147.4 1165.9 1148.3 1146.4 1149.4 1146.4C1150.3 1146.4 1151.2 1168.2 1152.1 1168.2C1153.3 1168.2 1154.4 1125.8 1155.6 1125.8C1156.4 1125.8 1157.1 1174.0 1157.9 1174.0C1159.1 1174.0 1160.1 1061.9 1161.3 1061.9C1162.0 1061.9 1162.5 1182.0 1163.2 1182.0C1164.5 1182.0 1165.7 1123.5 1167.1 1123.5C1167.9 1123.5 1168.6 1178.6 1169.4 1178.6C1170.2 1178.6 1170.9 1115.9 1171.7 1115.9C1172.7 1115.9 1173.6 1174.0 1174.6 1174.0C1175.2 1174.0 1175.7 1112.9 1176.2 1112.9C1177.1 1112.9 1177.9 1165.6 1178.8 1165.6C1179.7 1165.6 1180.4 1079.6 1181.3 1079.6C1182.5 1079.6 1183.5 1196.2 1184.7 1196.2C1186.0 1196.2 1187.1 1079.6 1188.4 1079.6C1189.4 1079.6 1190.2 1176.3 1191.2 1176.3C1192.1 1176.3 1192.8 1056.7 1193.7 1056.7C1195.0 1056.7 1196.1 1189.4 1197.4 1189.4C1198.3 1189.4 1199.0 1112.9 1199.9 1112.9C1200.9 1112.9 1201.7 1155.6 1202.6 1155.6C1203.5 1155.6 1204.1 1099.8 1204.9 1099.8C1205.9 1099.8 1206.7 1194.6 1207.7 1194.6C1208.7 1194.6 1209.6 1090.2 1210.7 1090.2C1211.7 1090.2 1212.6 1188.4 1213.7 1188.4C1214.6 1188.4 1215.5 1114.7 1216.4 1114.7C1217.4 1114.7 1218.2 1187.8 1219.2 1187.8C1220.0 1187.8 1220.7 1045.9 1221.5 1045.9C1222.4 1045.9 1223.3 1219.4 1224.2 1219.4C1225.2 1219.4 1226.0 1103.6 1227.0 1103.6C1228.0 1103.6 1228.8 1143.0 1229.7 1143.0C1229.9 1143.0 1230.0 1121.6 1230.2 1121.6C1232.0 1121.6 1233.5 1165.9 1235.3 1165.9C1235.9 1165.9 1236.4 1115.2 1237.1 1115.2C1238.3 1115.2 1239.3 1169.4 1240.5 1169.4C1241.8 1169.4 1242.9 1112.4 1244.2 1112.4C1245.3 1112.4 1246.3 1167.8 1247.4 1167.8C1248.2 1167.8 1248.9 1117.5 1249.7 1117.5C1250.8 1117.5 1251.7 1163.2 1252.7 1163.2C1253.4 1163.2 1254.0 1115.9 1254.8 1115.9C1256.6 1115.9 1258.2 1174.7 1260.0 1174.7C1260.9 1174.7 1261.5 1120.5 1262.3 1120.5C1263.5 1120.5 1264.4 1215.3 1265.6 1215.3C1266.6 1215.3 1267.5 1048.6 1268.5 1048.6C1270.2 1048.6 1271.7 1172.8 1273.4 1172.8C1274.3 1172.8 1275.2 1128.1 1276.1 1128.1C1277.3 1128.1 1278.4 1154.5 1279.6 1154.5C1280.5 1154.5 1281.4 1121.2 1282.3 1121.2C1283.3 1121.2 1284.2 1149.7 1285.2 1149.7C1286.2 1149.7 1287.1 1130.8 1288.1 1130.8C1288.3 1130.8 1288.5 1163.6 1288.7 1163.6C1290.5 1163.6 1292.0 1121.6 1293.8 1121.6C1294.4 1121.6 1295.0 1181.6 1295.6 1181.6C1296.4 1181.6 1297.1 1126.8 1297.8 1126.8C1298.6 1126.8 1299.2 1199.2 1300.0 1199.2C1300.7 1199.2 1301.3 1099.8 1302.1 1099.8C1303.0 1099.8 1303.9 1182.0 1304.8 1182.0C1305.6 1182.0 1306.3 1097.5 1307.1 1097.5C1308.1 1097.5 1308.9 1258.2 1309.9 1258.2C1310.8 1258.2 1311.7 1057.3 1312.6 1057.3C1313.7 1057.3 1314.6 1186.6 1315.6 1186.6C1317.1 1186.6 1318.4 1079.2 1320.0 1079.2C1320.9 1079.2 1321.8 1198.5 1322.7 1198.5C1323.7 1198.5 1324.5 1106.7 1325.5 1106.7C1326.3 1106.7 1327.0 1169.4 1327.8 1169.4C1329.0 1169.4 1330.0 1060.1 1331.2 1060.1C1332.6 1060.1 1333.8 1177.0 1335.1 1177.0C1337.0 1177.0 1338.6 1122.1 1340.4 1122.1C1340.8 1122.1 1341.1 1143.0 1341.6 1143.0C1342.8 1143.0 1343.8 1073.4 1345.0 1073.4C1345.6 1073.4 1346.2 1145.3 1346.8 1145.3C1348.0 1145.3 1349.1 1055.0 1350.3 1055.0C1351.3 1055.0 1352.2 1220.6 1353.3 1220.6C1354.1 1220.6 1354.9 1064.2 1355.8 1064.2C1356.8 1064.2 1357.7 1201.5 1358.8 1201.5C1359.7 1201.5 1360.6 1089.5 1361.5 1089.5C1362.3 1089.5 1363.0 1226.1 1363.8 1226.1C1365.1 1226.1 1366.2 1043.6 1367.5 1043.6C1368.7 1043.6 1369.7 1251.6 1370.9 1251.6C1372.1 1251.6 1373.2 1088.3 1374.4 1088.3C1376.2 1088.3 1377.7 1170.5 1379.4 1170.5C1380.6 1170.5 1381.7 1103.7 1382.9 1103.7C1384.5 1103.7 1385.9 1241.7 1387.5 1241.7C1388.6 1241.7 1389.6 1056.2 1390.7 1056.2C1392.4 1056.2 1393.8 1175.1 1395.5 1175.1C1397.2 1175.1 1398.6 1031.6 1400.3 1031.6C1401.5 1031.6 1402.6 1230.7 1403.8 1230.7C1405.1 1230.7 1406.2 1080.3 1407.4 1080.3C1408.6 1080.3 1409.7 1202.2 1410.9 1202.2C1412.1 1202.2 1413.1 1089.5 1414.3 1089.5C1415.6 1089.5 1416.7 1177.9 1418.0 1177.9C1419.1 1177.9 1420.1 1119.8 1421.2 1119.8C1421.9 1119.8 1422.6 1235.3 1423.3 1235.3C1424.4 1235.3 1425.4 1130.8 1426.5 1130.8C1427.3 1130.8 1428.0 1170.1 1428.8 1170.1C1429.6 1170.1 1430.3 1078.5 1431.1 1078.5C1431.9 1078.5 1432.6 1192.3 1433.4 1192.3C1434.4 1192.3 1435.2 1133.1 1436.1 1133.1C1437.0 1133.1 1437.6 1248.6 1438.4 1248.6C1439.5 1248.6 1440.4 1053.2 1441.4 1053.2C1442.4 1053.2 1443.2 1230.2 1444.2 1230.2C1445.0 1230.2 1445.7 1069.3 1446.5 1069.3C1447.4 1069.3 1448.3 1234.8 1449.2 1234.8C1450.3 1234.8 1451.2 1081.4 1452.2 1081.4C1453.6 1081.4 1454.8 1209.6 1456.1 1209.6C1457.2 1209.6 1458.1 1106.0 1459.1 1106.0C1460.2 1106.0 1461.0 1232.1 1462.1 1232.1C1462.4 1232.1 1462.7 1107.4 1463.0 1107.4C1464.1 1107.4 1464.9 1186.4 1466.0 1186.4C1467.0 1186.4 1467.9 1101.0 1469.0 1101.0C1469.5 1101.0 1470.0 1212.5 1470.6 1212.5C1471.7 1212.5 1472.7 1030.2 1473.8 1030.2C1474.7 1030.2 1475.5 1175.5 1476.4 1175.5C1477.4 1175.5 1478.2 1094.8 1479.1 1094.8C1479.7 1094.8 1480.3 1202.7 1480.9 1202.7C1482.7 1202.7 1484.2 1055.5 1486.0 1055.5C1486.8 1055.5 1487.5 1269.3 1488.3 1269.3C1489.5 1269.3 1490.5 1084.2 1491.7 1084.2C1492.9 1084.2 1493.9 1176.3 1495.2 1176.3C1496.6 1176.3 1497.8 1056.9 1499.3 1056.9C1500.1 1056.9 1500.8 1203.1 1501.6 1203.1C1502.8 1203.1 1503.8 1106.2 1505.0 1106.2C1505.6 1106.2 1506.1 1188.4 1506.6 1188.4C1507.9 1188.4 1509.0 1138.8 1510.3 1138.8C1510.9 1138.8 1511.3 1207.3 1511.9 1207.3C1513.5 1207.3 1514.9 1109.5 1516.5 1109.5C1517.1 1109.5 1517.5 1230.2 1518.1 1230.2C1519.4 1230.2 1520.5 1123.9 1521.8 1123.9C1522.6 1123.9 1523.3 1229.8 1524.1 1229.8C1525.0 1229.8 1525.7 974.7 1526.6 974.7C1528.1 974.7 1529.4 1287.2 1531.0 1287.2C1532.1 1287.2 1533.1 1052.7 1534.2 1052.7C1534.9 1052.7 1535.5 1201.5 1536.2 1201.5C1537.0 1201.5 1537.6 1107.2 1538.3 1107.2C1538.5 1107.2 1538.6 1237.8 1538.8 1237.8C1540.2 1237.8 1541.5 1138.2 1542.9 1138.2C1543.7 1138.2 1544.4 1249.7 1545.2 1249.7C1546.6 1249.7 1547.9 1050.0 1549.3 1050.0C1550.5 1050.0 1551.4 1256.6 1552.5 1256.6C1553.4 1256.6 1554.2 1070.0 1555.1 1070.0C1556.3 1070.0 1557.3 1164.8 1558.5 1164.8C1559.3 1164.8 1560.0 1054.6 1560.8 1054.6C1562.7 1054.6 1564.4 1240.6 1566.3 1240.6C1567.8 1240.6 1569.0 1102.6 1570.5 1102.6C1571.3 1102.6 1572.0 1278.0 1572.8 1278.0C1573.6 1278.0 1574.2 1123.9 1575.0 1123.9C1576.3 1123.9 1577.3 1137.2 1578.5 1137.2C1579.1 1137.2 1579.5 1016.7 1580.1 1016.7C1581.6 1016.7 1582.9 1309.4 1584.5 1309.4C1585.6 1309.4 1586.6 1070.0 1587.7 1070.0C1588.6 1070.0 1589.5 1278.0 1590.4 1278.0C1591.5 1278.0 1592.4 1097.5 1593.4 1097.5C1594.5 1097.5 1595.4 1225.2 1596.4 1225.2C1597.1 1225.2 1597.7 1097.5 1598.5 1097.5C1599.3 1097.5 1600.0 1161.4 1600.8 1161.4C1601.7 1161.4 1602.6 1002.2 1603.5 1002.2C1604.4 1002.2 1605.2 1244.7 1606.0 1244.7C1607.2 1244.7 1608.3 1114.3 1609.5 1114.3C1610.5 1114.3 1611.3 1279.6 1612.2 1279.6C1613.5 1279.6 1614.6 884.5 1615.9 884.5C1616.9 884.5 1617.7 1340.4 1618.7 1340.4C1619.9 1340.4 1620.9 1126.2 1622.1 1126.2C1622.9 1126.2 1623.6 1242.9 1624.4 1242.9C1625.1 1242.9 1625.6 1067.7 1626.2 1067.7C1627.5 1067.7 1628.5 1187.8 1629.7 1187.8C1630.7 1187.8 1631.5 1069.5 1632.4 1069.5C1633.4 1069.5 1634.2 1294.1 1635.2 1294.1C1636.2 1294.1 1637.1 1023.6 1638.2 1023.6C1638.8 1023.6 1639.4 1165.9 1640.0 1165.9C1641.2 1165.9 1642.3 1107.8 1643.5 1107.8C1644.1 1107.8 1644.7 1293.8 1645.3 1293.8C1646.5 1293.8 1647.5 1081.4 1648.7 1081.4C1650.4 1081.4 1651.9 1180.2 1653.6 1180.2C1654.9 1180.2 1656.0 1078.0 1657.2 1078.0C1658.2 1078.0 1659.0 1196.9 1660.0 1196.9C1661.1 1196.9 1662.1 1055.7 1663.2 1055.7C1663.7 1055.7 1664.1 1154.5 1664.6 1154.5C1665.4 1154.5 1666.1 1064.2 1666.9 1064.2C1667.5 1064.2 1668.1 1297.5 1668.7 1297.5C1670.2 1297.5 1671.6 1104.9 1673.1 1104.9C1673.7 1104.9 1674.3 1137.2 1674.9 1137.2C1676.1 1137.2 1677.2 1123.9 1678.4 1123.9C1678.5 1123.9 1678.7 1169.4 1678.8 1169.4C1679.9 1169.4 1680.8 1088.8 1681.8 1088.8C1682.8 1088.8 1683.6 1225.6 1684.6 1225.6C1685.7 1225.6 1686.7 1109.7 1687.8 1109.7C1688.5 1109.7 1689.1 1212.3 1689.8 1212.3C1690.9 1212.3 1691.8 1121.2 1692.8 1121.2C1694.4 1121.2 1695.7 1236.0 1697.2 1236.0C1698.2 1236.0 1699.1 1064.7 1700.2 1064.7C1701.4 1064.7 1702.4 1205.0 1703.6 1205.0C1704.7 1205.0 1705.6 1071.1 1706.6 1071.1C1707.6 1071.1 1708.5 1207.3 1709.6 1207.3C1710.9 1207.3 1712.0 1095.9 1713.3 1095.9C1714.3 1095.9 1715.2 1209.1 1716.2 1209.1C1717.4 1209.1 1718.3 1049.8 1719.5 1049.8C1720.3 1049.8 1721.1 1155.6 1722.0 1155.6C1723.4 1155.6 1724.7 1143.4 1726.1 1143.4C1726.9 1143.4 1727.6 1199.9 1728.4 1199.9C1729.7 1199.9 1730.8 1064.2 1732.1 1064.2C1733.0 1064.2 1733.7 1139.5 1734.6 1139.5C1736.0 1139.5 1737.2 1113.6 1738.5 1113.6C1739.2 1113.6 1739.9 1197.6 1740.6 1197.6C1742.3 1197.6 1743.7 1051.1 1745.4 1051.1C1746.3 1051.1 1747.0 1239.4 1747.9 1239.4C1749.3 1239.4 1750.5 1068.8 1751.8 1068.8C1752.5 1068.8 1753.0 1213.0 1753.7 1213.0C1754.8 1213.0 1755.8 1061.5 1756.9 1061.5C1757.7 1061.5 1758.4 1239.4 1759.2 1239.4C1760.5 1239.4 1761.7 1023.6 1763.1 1023.6C1764.0 1023.6 1764.7 1183.9 1765.6 1183.9C1767.4 1183.9 1768.9 1096.4 1770.7 1096.4C1771.9 1096.4 1773.0 1199.9 1774.3 1199.9C1775.5 1199.9 1776.4 1087.9 1777.5 1087.9C1778.6 1087.9 1779.5 1156.8 1780.5 1156.8C1781.7 1156.8 1782.8 1112.0 1784.0 1112.0C1784.9 1112.0 1785.6 1201.5 1786.5 1201.5C1787.2 1201.5 1787.8 1151.5 1788.6 1151.5C1789.8 1151.5 1790.8 1180.9 1792.0 1180.9C1792.3 1180.9 1792.6 1087.2 1792.9 1087.2C1793.7 1087.2 1794.4 1157.7 1795.1 1157.7C1795.9 1157.7 1796.6 1112.9 1797.4 1112.9C1798.1 1112.9 1798.8 1190.7 1799.6 1190.7C1800.3 1190.7 1800.9 1106.2 1801.7 1106.2C1802.7 1106.2 1803.6 1169.8 1804.6 1169.8C1805.6 1169.8 1806.4 1012.6 1807.4 1012.6C1808.4 1012.6 1809.2 1257.3 1810.1 1257.3C1811.4 1257.3 1812.5 1063.1 1813.8 1063.1C1814.6 1063.1 1815.3 1155.6 1816.1 1155.6C1817.7 1155.6 1819.1 1083.7 1820.7 1083.7C1821.4 1083.7 1821.9 1234.8 1822.5 1234.8C1823.8 1234.8 1824.8 1021.8 1826.0 1021.8C1826.8 1021.8 1827.5 1258.2 1828.3 1258.2C1829.3 1258.2 1830.2 1089.0 1831.3 1089.0C1832.2 1089.0 1833.1 1238.3 1834.0 1238.3C1834.9 1238.3 1835.7 1043.1 1836.6 1043.1C1837.5 1043.1 1838.3 1301.9 1839.3 1301.9C1840.5 1301.9 1841.5 1061.5 1842.8 1061.5C1844.8 1061.5 1846.6 1207.7 1848.7 1207.7C1849.5 1207.7 1850.2 1105.1 1851.0 1105.1C1851.9 1105.1 1852.6 1180.8 1853.4 1180.8C1854.3 1180.8 1855.0 1142.3 1855.8 1142.3C1856.0 1142.3 1856.1 1198.1 1856.3 1198.1C1857.5 1198.1 1858.5 1128.5 1859.7 1128.5C1860.5 1128.5 1861.1 1167.2 1861.8 1167.2C1862.5 1167.2 1863.1 1149.2 1863.9 1149.2C1864.0 1149.2 1864.2 1170.5 1864.3 1170.5C1865.9 1170.5 1867.3 1073.0 1868.9 1073.0C1869.7 1073.0 1870.4 1242.2 1871.2 1242.2C1873.2 1242.2 1875.0 1117.0 1877.0 1117.0C1877.4 1117.0 1877.7 1157.9 1878.1 1157.9C1878.9 1157.9 1879.5 1127.5 1880.3 1127.5C1881.1 1127.5 1881.7 1212.5 1882.5 1212.5C1883.4 1212.5 1884.1 1090.6 1885.0 1090.6C1886.2 1090.6 1887.2 1182.0 1888.4 1182.0C1889.5 1182.0 1890.4 1076.2 1891.4 1076.2C1892.3 1076.2 1893.1 1245.2 1893.9 1245.2C1895.0 1245.2 1895.9 1090.6 1896.9 1090.6C1898.2 1090.6 1899.3 1233.2 1900.6 1233.2C1901.4 1233.2 1902.1 1076.2 1902.9 1076.2C1904.0 1076.2 1905.0 1222.2 1906.1 1222.2C1907.1 1222.2 1907.9 1095.2 1908.9 1095.2C1910.0 1095.2 1911.0 1190.0 1912.1 1190.0C1913.1 1190.0 1913.9 1120.9 1914.8 1120.9C1916.0 1120.9 1917.1 1206.1 1918.3 1206.1C1919.3 1206.1 1920.2 1081.4 1921.3 1081.4C1922.4 1081.4 1923.4 1261.7 1924.5 1261.7C1925.7 1261.7 1926.7 1045.9 1927.9 1045.9C1929.1 1045.9 1930.2 1194.2 1931.4 1194.2C1932.4 1194.2 1933.3 1123.2 1934.4 1123.2C1935.4 1123.2 1936.2 1172.9 1937.2 1172.9C1938.2 1172.9 1939.1 1137.7 1940.1 1137.7C1940.7 1137.7 1941.3 1179.7 1941.9 1179.7C1944.1 1179.7 1946.0 1092.2 1948.1 1092.2C1948.9 1092.2 1949.6 1163.6 1950.4 1163.6C1951.5 1163.6 1952.4 1092.2 1953.4 1092.2C1954.4 1092.2 1955.2 1192.3 1956.2 1192.3C1957.0 1192.3 1957.7 1146.9 1958.5 1146.9C1959.4 1146.9 1960.2 1167.8 1961.1 1167.8C1962.0 1167.8 1962.8 1094.1 1963.7 1094.1C1964.3 1094.1 1964.8 1169.8 1965.4 1169.8C1966.7 1169.8 1967.9 1093.4 1969.3 1093.4C1970.3 1093.4 1971.2 1199.2 1972.2 1199.2C1973.0 1199.2 1973.7 1087.2 1974.5 1087.2C1976.1 1087.2 1977.5 1194.0 1979.1 1194.0C1979.9 1194.0 1980.6 1103.3 1981.4 1103.3C1982.8 1103.3 1984.0 1148.7 1985.3 1148.7C1986.5 1148.7 1987.6 1099.1 1988.8 1099.1C1989.4 1099.1 1990.0 1170.5 1990.6 1170.5C1991.6 1170.5 1992.4 1098.7 1993.4 1098.7C1994.3 1098.7 1995.2 1222.9 1996.1 1222.9C1997.0 1222.9 1997.8 1039.0 1998.6 1039.0C1999.9 1039.0 2000.9 1232.5 2002.1 1232.5C2003.5 1232.5 2004.6 1101.7 2006.0 1101.7C2007.0 1101.7 2007.8 1189.4 2008.7 1189.4C2010.0 1189.4 2011.0 1120.5 2012.2 1120.5C2013.1 1120.5 2013.8 1218.7 2014.7 1218.7C2016.5 1218.7 2018.0 1095.2 2019.8 1095.2C2021.0 1095.2 2022.0 1192.3 2023.2 1192.3C2024.2 1192.3 2025.0 1127.8 2026.0 1127.8C2026.9 1127.8 2027.7 1168.9 2028.6 1168.9C2029.5 1168.9 2030.3 1136.5 2031.2 1136.5C2031.9 1136.5 2032.5 1167.3 2033.2 1167.3C2033.9 1167.3 2034.5 1133.6 2035.2 1133.6C2035.6 1133.6 2036.0 1165.9 2036.5 1165.9C2037.7 1165.9 2038.8 1124.4 2040.0 1124.4C2040.8 1124.4 2041.5 1187.1 2042.3 1187.1C2043.2 1187.1 2044.1 1097.5 2045.0 1097.5C2046.1 1097.5 2047.0 1181.3 2048.0 1181.3C2049.1 1181.3 2050.1 1091.1 2051.2 1091.1C2052.0 1091.1 2052.7 1195.1 2053.5 1195.1C2054.6 1195.1 2055.5 1062.6 2056.5 1062.6C2057.5 1062.6 2058.3 1265.8 2059.3 1265.8C2060.3 1265.8 2061.2 1074.6 2062.2 1074.6C2063.4 1074.6 2064.5 1239.4 2065.7 1239.4C2066.5 1239.4 2067.2 1087.6 2068.0 1087.6C2069.2 1087.6 2070.2 1191.2 2071.4 1191.2C2072.4 1191.2 2073.2 1094.8 2074.2 1094.8C2075.1 1094.8 2075.8 1237.6 2076.7 1237.6C2077.7 1237.6 2078.5 1095.7 2079.5 1095.7C2080.4 1095.7 2081.3 1253.2 2082.2 1253.2C2083.2 1253.2 2084.0 1069.5 2085.0 1069.5C2085.9 1069.5 2086.6 1153.3 2087.5 1153.3C2088.5 1153.3 2089.4 1126.7 2090.5 1126.7C2090.9 1126.7 2091.2 1224.5 2091.6 1224.5C2093.8 1224.5 2095.7 1122.8 2097.8 1122.8C2098.6 1122.8 2099.3 1202.0 2100.1 1202.0C2101.1 1202.0 2101.9 1089.5 2102.9 1089.5C2103.8 1089.5 2104.5 1193.5 2105.4 1193.5C2106.2 1193.5 2106.9 1151.5 2107.7 1151.5C2108.5 1151.5 2109.2 1179.7 2110.0 1179.7C2111.0 1179.7 2111.8 1116.6 2112.8 1116.6C2113.6 1116.6 2114.2 1157.4 2115.0 1157.4C2116.5 1157.4 2117.7 1113.1 2119.2 1113.1C2119.9 1113.1 2120.5 1232.1 2121.2 1232.1C2122.3 1232.1 2123.2 1107.8 2124.2 1107.8C2125.0 1107.8 2125.7 1170.5 2126.5 1170.5C2127.3 1170.5 2128.0 1099.4 2128.8 1099.4C2130.0 1099.4 2131.1 1215.3 2132.3 1215.3C2133.2 1215.3 2134.1 1138.8 2135.0 1138.8C2136.1 1138.8 2137.0 1171.2 2138.0 1171.2C2138.8 1171.2 2139.5 1101.0 2140.3 1101.0C2140.9 1101.0 2141.4 1162.8 2142.0 1162.8C2142.6 1162.8 2143.1 1096.8 2143.7 1096.8C2144.6 1096.8 2145.2 1187.1 2146.0 1187.1C2147.1 1187.1 2148.0 1103.3 2149.0 1103.3C2150.0 1103.3 2150.8 1164.1 2151.8 1164.1C2152.6 1164.1 2153.3 1079.6 2154.1 1079.6C2155.7 1079.6 2157.1 1182.0 2158.7 1182.0C2159.5 1182.0 2160.2 1078.7 2161.0 1078.7C2162.2 1078.7 2163.2 1177.9 2164.4 1177.9C2165.1 1177.9 2165.8 1052.3 2166.5 1052.3C2168.4 1052.3 2170.1 1179.7 2172.0 1179.7C2172.6 1179.7 2173.0 1101.7 2173.6 1101.7C2174.8 1101.7 2175.8 1161.8 2177.0 1161.8C2177.6 1161.8 2178.1 1064.7 2178.6 1064.7C2179.9 1064.7 2181.0 1222.9 2182.3 1222.9C2183.4 1222.9 2184.3 1047.5 2185.3 1047.5C2186.3 1047.5 2187.2 1232.5 2188.3 1232.5C2189.3 1232.5 2190.1 1061.9 2191.0 1061.9C2192.2 1061.9 2193.1 1211.2 2194.3 1211.2C2195.1 1211.2 2195.8 1098.0 2196.6 1098.0C2198.2 1098.0 2199.5 1156.8 2201.1 1156.8C2201.5 1156.8 2201.9 1098.0 2202.3 1098.0C2203.7 1098.0 2204.8 1227.9 2206.2 1227.9C2207.2 1227.9 2208.1 1063.8 2209.2 1063.8C2210.4 1063.8 2211.4 1209.6 2212.6 1209.6C2213.6 1209.6 2214.4 1045.4 2215.4 1045.4C2216.4 1045.4 2217.3 1232.5 2218.4 1232.5C2220.0 1232.5 2221.3 1059.6 2223.0 1059.6C2224.0 1059.6 2224.9 1181.6 2225.9 1181.6C2227.0 1181.6 2227.9 1092.5 2228.9 1092.5C2230.1 1092.5 2231.0 1184.3 2232.1 1184.3C2232.9 1184.3 2233.6 1106.4 2234.4 1106.4C2235.2 1106.4 2235.9 1171.7 2236.7 1171.7C2237.0 1171.7 2237.2 1086.5 2237.4 1086.5C2238.5 1086.5 2239.4 1150.7 2240.5 1150.7C2241.6 1150.7 2242.5 1132.6 2243.6 1132.6C2245.0 1132.6 2246.2 1179.7 2247.5 1179.7C2248.3 1179.7 2249.0 1113.1 2249.8 1113.1C2250.9 1113.1 2251.8 1223.3 2252.8 1223.3C2253.8 1223.3 2254.6 1060.1 2255.6 1060.1C2256.8 1060.1 2257.8 1199.2 2259.0 1199.2C2260.7 1199.2 2262.1 1070.4 2263.8 1070.4C2265.0 1070.4 2266.1 1174.0 2267.3 1174.0C2268.2 1174.0 2269.1 1136.5 2270.0 1136.5C2270.7 1136.5 2271.2 1163.6 2271.9 1163.6C2272.8 1163.6 2273.7 1156.1 2274.6 1156.1C2275.4 1156.1 2276.1 1198.8 2276.9 1198.8C2278.0 1198.8 2279.0 1113.1 2280.1 1113.1C2281.0 1113.1 2281.8 1171.2 2282.6 1171.2C2283.9 1171.2 2284.9 1158.4 2286.1 1158.4C2287.1 1158.4 2287.9 1185.5 2288.8 1185.5C2290.1 1185.5 2291.2 1086.0 2292.5 1086.0C2293.3 1086.0 2294.0 1207.3 2294.8 1207.3C2296.0 1207.3 2297.1 1101.0 2298.3 1101.0C2299.1 1101.0 2299.8 1197.4 2300.6 1197.4C2301.4 1197.4 2302.2 1087.2 2303.1 1087.2C2304.4 1087.2 2305.5 1198.1 2306.8 1198.1C2307.2 1198.1 2307.5 1138.8 2307.9 1138.8C2308.7 1138.8 2309.5 1182.8 2310.3 1182.8C2311.2 1182.8 2311.9 1113.6 2312.7 1113.6C2313.4 1113.6 2314.1 1182.0 2314.8 1182.0C2315.5 1182.0 2316.1 1137.3 2316.9 1137.3C2317.6 1137.3 2318.2 1198.8 2318.9 1198.8C2319.7 1198.8 2320.4 1138.4 2321.2 1138.4C2322.6 1138.4 2323.8 1160.9 2325.1 1160.9C2326.6 1160.9 2327.8 1120.0 2329.3 1120.0C2331.3 1120.0 2333.1 1202.7 2335.2 1202.7C2335.9 1202.7 2336.6 1120.0 2337.3 1120.0C2338.4 1120.0 2339.4 1177.0 2340.5 1177.0C2341.1 1177.0 2341.7 1115.9 2342.3 1115.9C2343.1 1115.9 2343.8 1145.3 2344.6 1145.3C2345.6 1145.3 2346.4 1092.5 2347.4 1092.5C2348.4 1092.5 2349.2 1195.3 2350.1 1195.3C2351.2 1195.3 2352.1 1109.7 2353.1 1109.7C2354.2 1109.7 2355.1 1175.1 2356.1 1175.1C2357.2 1175.1 2358.2 1073.4 2359.3 1073.4C2360.5 1073.4 2361.4 1219.9 2362.5 1219.9C2363.5 1219.9 2364.3 1114.7 2365.3 1114.7C2366.3 1114.7 2367.1 1195.3 2368.1 1195.3C2368.7 1195.3 2369.3 1081.0 2369.9 1081.0C2371.1 1081.0 2372.1 1200.4 2373.3 1200.4C2374.1 1200.4 2374.8 1056.7 2375.6 1056.7C2376.8 1056.7 2377.9 1211.9 2379.1 1211.9C2380.4 1211.9 2381.6 1122.1 2383.0 1122.1C2384.2 1122.1 2385.2 1176.3 2386.4 1176.3C2387.9 1176.3 2389.1 1132.4 2390.6 1132.4C2392.2 1132.4 2393.5 1167.1 2395.1 1167.1C2396.0 1167.1 2396.6 1120.0 2397.4 1120.0C2398.5 1120.0 2399.4 1180.9 2400.4 1180.9C2401.2 1180.9 2401.9 1104.4 2402.7 1104.4C2403.9 1104.4 2404.8 1167.5 2405.9 1167.5C2407.0 1167.5 2407.9 1104.4 2408.9 1104.4C2410.4 1104.4 2411.6 1205.7 2413.1 1205.7C2414.1 1205.7 2415.0 1107.2 2416.0 1107.2C2417.3 1107.2 2418.4 1184.3 2419.7 1184.3C2420.4 1184.3 2420.9 1126.2 2421.6 1126.2C2422.6 1126.2 2423.5 1174.0 2424.5 1174.0C2425.5 1174.0 2426.3 1095.9 2427.3 1095.9C2428.4 1095.9 2429.4 1210.0 2430.5 1210.0C2431.4 1210.0 2432.1 1163.0 2433.0 1163.0C2434.2 1163.0 2435.3 1175.1 2436.5 1175.1C2436.9 1175.1 2437.2 1073.0 2437.6 1073.0C2438.8 1073.0 2439.9 1196.2 2441.1 1196.2C2442.1 1196.2 2443.0 1077.3 2444.1 1077.3C2445.3 1077.3 2446.3 1196.9 2447.5 1196.9C2448.9 1196.9 2450.0 1136.1 2451.4 1136.1C2452.6 1136.1 2453.6 1175.1 2454.8 1175.1C2456.3 1175.1 2457.5 1109.5 2459.0 1109.5C2460.2 1109.5 2461.2 1191.9 2462.4 1191.9C2463.8 1191.9 2465.0 1100.3 2466.3 1100.3C2467.4 1100.3 2468.3 1198.5 2469.3 1198.5C2470.4 1198.5 2471.4 1094.8 2472.5 1094.8C2473.2 1094.8 2473.9 1180.5 2474.6 1180.5C2475.3 1180.5 2475.9 1113.6 2476.7 1113.6C2477.1 1113.6 2477.5 1218.7 2478.0 1218.7C2479.2 1218.7 2480.1 1097.5 2481.2 1097.5C2483.4 1097.5 2485.3 1176.3 2487.4 1176.3C2488.7 1176.3 2489.8 1125.1 2491.1 1125.1C2491.7 1125.1 2492.2 1185.0 2492.7 1185.0C2493.6 1185.0 2494.4 1129.5 2495.4 1129.5C2496.3 1129.5 2497.1 1184.3 2498.0 1184.3C2499.0 1184.3 2499.8 1113.1 2500.8 1113.1C2502.4 1113.1 2503.7 1183.2 2505.4 1183.2C2506.6 1183.2 2507.6 1123.9 2508.8 1123.9C2510.0 1123.9 2511.0 1162.5 2512.2 1162.5C2513.0 1162.5 2513.7 1097.5 2514.5 1097.5C2515.7 1097.5 2516.6 1179.7 2517.8 1179.7C2518.8 1179.7 2519.7 1153.8 2520.7 1153.8C2521.5 1153.8 2522.2 1203.8 2523.0 1203.8C2523.9 1203.8 2524.7 1105.6 2525.6 1105.6C2526.7 1105.6 2527.7 1193.5 2528.8 1193.5C2530.8 1193.5 2532.5 1126.9 2534.5 1126.9C2536.4 1126.9 2537.9 1192.8 2539.8 1192.8C2540.0 1192.8 2540.1 1141.1 2540.3 1141.1C2542.1 1141.1 2543.7 1193.5 2545.5 1193.5C2546.7 1193.5 2547.6 1105.6 2548.7 1105.6C2549.6 1105.6 2550.4 1199.7 2551.3 1199.7C2552.6 1199.7 2553.8 1101.0 2555.2 1101.0C2556.0 1101.0 2556.7 1211.9 2557.5 1211.9C2558.7 1211.9 2559.7 1103.3 2560.9 1103.3C2561.7 1103.3 2562.4 1208.4 2563.2 1208.4C2564.4 1208.4 2565.5 1145.7 2566.7 1145.7C2567.7 1145.7 2568.6 1187.8 2569.6 1187.8C2570.6 1187.8 2571.4 1081.0 2572.4 1081.0C2573.0 1081.0 2573.6 1195.8 2574.2 1195.8C2575.2 1195.8 2576.0 1103.3 2577.0 1103.3C2577.9 1103.3 2578.6 1240.6 2579.5 1240.6C2580.5 1240.6 2581.3 1055.0 2582.3 1055.0C2583.5 1055.0 2584.5 1211.4 2585.7 1211.4C2586.7 1211.4 2587.5 1100.5 2588.5 1100.5C2589.7 1100.5 2590.7 1210.7 2591.9 1210.7C2592.7 1210.7 2593.4 1095.9 2594.2 1095.9C2595.3 1095.9 2596.1 1171.2 2597.2 1171.2C2598.7 1171.2 2600.0 1093.6 2601.6 1093.6C2602.0 1093.6 2602.3 1172.8 2602.7 1172.8C2604.1 1172.8 2605.4 1132.0 2606.8 1132.0C2607.2 1132.0 2607.6 1187.1 2608.0 1187.1C2608.8 1187.1 2609.5 1099.4 2610.3 1099.4C2611.2 1099.4 2612.1 1176.3 2613.0 1176.3C2614.2 1176.3 2615.3 1105.1 2616.5 1105.1C2617.5 1105.1 2618.4 1167.1 2619.5 1167.1C2620.3 1167.1 2621.0 1130.8 2621.8 1130.8C2622.6 1130.8 2623.4 1166.6 2624.3 1166.6C2625.2 1166.6 2625.9 1099.1 2626.8 1099.1C2627.5 1099.1 2628.0 1175.1 2628.6 1175.1C2630.0 1175.1 2631.2 1079.2 2632.5 1079.2C2633.6 1079.2 2634.5 1240.6 2635.5 1240.6C2636.9 1240.6 2638.1 1133.6 2639.4 1133.6C2640.7 1133.6 2641.8 1172.8 2643.1 1172.8C2643.8 1172.8 2644.5 1127.4 2645.2 1127.4C2646.0 1127.4 2646.7 1160.8 2647.5 1160.8C2648.3 1160.8 2649.0 1123.2 2649.8 1123.2C2650.6 1123.2 2651.3 1166.4 2652.1 1166.4C2652.9 1166.4 2653.7 1103.7 2654.6 1103.7C2656.5 1103.7 2658.2 1185.5 2660.1 1185.5C2661.0 1185.5 2661.7 1128.5 2662.6 1128.5C2664.2 1128.5 2665.5 1168.9 2667.0 1168.9C2667.8 1168.9 2668.5 1105.6 2669.3 1105.6C2670.0 1105.6 2670.6 1173.9 2671.2 1173.9C2671.9 1173.9 2672.5 1078.7 2673.2 1078.7C2674.2 1078.7 2675.1 1199.9 2676.2 1199.9C2677.2 1199.9 2678.1 1126.9 2679.2 1126.9C2679.7 1126.9 2680.2 1136.1 2680.8 1136.1C2682.4 1136.1 2683.7 1076.9 2685.4 1076.9C2686.6 1076.9 2687.7 1179.3 2689.0 1179.3C2689.8 1179.3 2690.5 1069.5 2691.3 1069.5C2692.7 1069.5 2693.9 1169.4 2695.2 1169.4C2696.3 1169.4 2697.2 1101.0 2698.2 1101.0C2699.7 1101.0 2701.0 1175.1 2702.6 1175.1C2703.5 1175.1 2704.2 1103.3 2705.1 1103.3C2706.0 1103.3 2706.7 1166.0 2707.6 1166.0C2708.5 1166.0 2709.3 1126.7 2710.2 1126.7C2710.6 1126.7 2710.9 1187.1 2711.3 1187.1C2712.7 1187.1 2713.8 1132.6 2715.2 1132.6C2715.4 1132.6 2715.6 1149.9 2715.9 1149.9C2717.1 1149.9 2718.1 1095.9 2719.3 1095.9C2720.1 1095.9 2720.8 1161.8 2721.6 1161.8C2722.8 1161.8 2723.9 1140.0 2725.1 1140.0C2726.1 1140.0 2727.0 1182.7 2728.1 1182.7C2728.9 1182.7 2729.6 1080.3 2730.4 1080.3C2731.4 1080.3 2732.4 1158.1 2733.5 1158.1C2734.5 1158.1 2735.5 1143.4 2736.6 1143.4C2736.7 1143.4 2736.9 1159.1 2737.0 1159.1C2738.7 1159.1 2740.1 1123.2 2741.8 1123.2C2742.8 1123.2 2743.6 1167.8 2744.6 1167.8C2745.8 1167.8 2746.8 1091.1 2748.0 1091.1C2749.2 1091.1 2750.3 1208.0 2751.5 1208.0C2752.7 1208.0 2753.7 1104.9 2754.9 1104.9C2756.0 1104.9 2756.9 1183.2 2757.9 1183.2C2758.9 1183.2 2759.7 1146.9 2760.7 1146.9C2761.5 1146.9 2762.2 1163.3 2763.0 1163.3C2763.8 1163.3 2764.4 1123.2 2765.3 1123.2C2765.7 1123.2 2766.0 1163.0 2766.4 1163.0C2767.4 1163.0 2768.2 1115.4 2769.2 1115.4C2770.2 1115.4 2771.1 1203.8 2772.1 1203.8C2772.9 1203.8 2773.6 1138.8 2774.4 1138.8C2775.5 1138.8 2776.4 1170.5 2777.4 1170.5C2778.1 1170.5 2778.8 1119.3 2779.5 1119.3C2780.5 1119.3 2781.4 1150.6 2782.5 1150.6C2783.7 1150.6 2784.7 1114.7 2785.9 1114.7C2786.7 1114.7 2787.4 1178.1 2788.2 1178.1C2789.5 1178.1 2790.6 1114.0 2791.9 1114.0C2793.4 1114.0 2794.7 1158.4 2796.2 1158.4C2797.1 1158.4 2797.7 1132.0 2798.5 1132.0C2799.3 1132.0 2800.0 1147.6 2800.8 1147.6C2801.9 1147.6 2802.8 1099.4 2803.8 1099.4C2804.8 1099.4 2805.6 1190.0 2806.6 1190.0C2807.8 1190.0 2808.8 1113.6 2810.0 1113.6C2811.6 1113.6 2813.0 1183.2 2814.6 1183.2C2815.4 1183.2 2816.1 1114.0 2816.9 1114.0C2818.1 1114.0 2819.1 1174.0 2820.4 1174.0C2821.2 1174.0 2821.8 1111.3 2822.6 1111.3C2823.4 1111.3 2824.1 1160.3 2824.8 1160.3C2825.6 1160.3 2826.2 1107.2 2827.0 1107.2C2827.9 1107.2 2828.7 1174.7 2829.5 1174.7C2831.5 1174.7 2833.3 1118.9 2835.3 1118.9C2835.9 1118.9 2836.5 1177.9 2837.1 1177.9C2838.3 1177.9 2839.4 1146.9 2840.6 1146.9C2841.8 1146.9 2842.8 1189.4 2844.0 1189.4C2844.8 1189.4 2845.5 1138.2 2846.3 1138.2C2847.5 1138.2 2848.5 1177.0 2849.7 1177.0C2850.3 1177.0 2850.8 1126.7 2851.3 1126.7C2852.6 1126.7 2853.6 1177.9 2854.8 1177.9C2855.7 1177.9 2856.4 1112.0 2857.3 1112.0C2858.2 1112.0 2859.0 1215.3 2859.8 1215.3C2860.7 1215.3 2861.5 1156.1 2862.4 1156.1C2863.3 1156.1 2864.2 1160.2 2865.1 1160.2C2866.5 1160.2 2867.7 1107.8 2869.0 1107.8C2869.9 1107.8 2870.7 1185.9 2871.6 1185.9C2872.8 1185.9 2873.8 1140.0 2875.0 1140.0C2875.6 1140.0 2876.0 1159.1 2876.6 1159.1C2877.6 1159.1 2878.4 1128.5 2879.4 1128.5C2880.0 1128.5 2880.6 1165.9 2881.2 1165.9C2882.2 1165.9 2883.1 1110.1 2884.2 1110.1C2885.3 1110.1 2886.3 1223.3 2887.4 1223.3C2888.4 1223.3 2889.3 1132.6 2890.4 1132.6C2891.6 1132.6 2892.6 1162.5 2893.8 1162.5C2894.9 1162.5 2895.8 1113.1 2896.8 1113.1C2897.8 1113.1 2898.6 1166.6 2899.6 1166.6C2900.8 1166.6 2901.8 1133.1 2903.0 1133.1C2903.6 1133.1 2904.2 1182.0 2904.8 1182.0C2906.0 1182.0 2906.9 1108.3 2908.1 1108.3C2909.1 1108.3 2910.0 1174.7 2911.0 1174.7C2911.7 1174.7 2912.2 1086.0 2912.9 1086.0C2914.1 1086.0 2915.1 1163.2 2916.3 1163.2C2917.4 1163.2 2918.4 1100.3 2919.5 1100.3C2921.2 1100.3 2922.7 1181.6 2924.4 1181.6C2925.7 1181.6 2926.9 1077.5 2928.3 1077.5C2929.2 1077.5 2930.1 1181.6 2931.0 1181.6C2932.1 1181.6 2933.0 1138.8 2934.0 1138.8C2934.8 1138.8 2935.4 1173.2 2936.2 1173.2C2936.9 1173.2 2937.6 1096.8 2938.4 1096.8C2939.1 1096.8 2939.7 1181.6 2940.4 1181.6C2941.6 1181.6 2942.5 1120.9 2943.6 1120.9C2944.0 1120.9 2944.4 1157.2 2944.8 1157.2C2946.0 1157.2 2947.0 1138.2 2948.2 1138.2C2948.5 1138.2 2948.7 1185.0 2948.9 1185.0C2950.0 1185.0 2950.9 1151.5 2951.9 1151.5C2952.3 1151.5 2952.7 1175.6 2953.1 1175.6C2954.0 1175.6 2954.8 1136.5 2955.8 1136.5C2956.6 1136.5 2957.3 1187.8 2958.1 1187.8C2958.9 1187.8 2959.6 1118.6 2960.4 1118.6C2962.2 1118.6 2963.7 1153.8 2965.5 1153.8C2966.5 1153.8 2967.4 1109.0 2968.4 1109.0C2969.2 1109.0 2969.9 1154.9 2970.7 1154.9C2972.2 1154.9 2973.4 1129.7 2974.9 1129.7C2975.8 1129.7 2976.7 1199.9 2977.6 1199.9C2978.7 1199.9 2979.6 1123.5 2980.6 1123.5C2981.6 1123.5 2982.4 1170.5 2983.4 1170.5C2984.2 1170.5 2984.9 1101.7 2985.7 1101.7C2987.3 1101.7 2988.6 1158.6 2990.3 1158.6C2990.7 1158.6 2991.0 1127.4 2991.4 1127.4C2991.9 1127.4 2992.4 1156.0 2992.9 1156.0C2993.4 1156.0 2993.9 1138.2 2994.4 1138.2C2994.7 1138.2 2995.0 1164.1 2995.3 1164.1C2997.4 1164.1 2999.2 1136.1 3001.3 1136.1C3002.4 1136.1 3003.4 1222.2 3004.5 1222.2C3005.5 1222.2 3006.4 1143.4 3007.5 1143.4C3008.3 1143.4 3009.0 1171.0 3009.8 1171.0C3010.6 1171.0 3011.3 1128.5 3012.1 1128.5C3013.1 1128.5 3014.0 1167.5 3015.0 1167.5C3015.8 1167.5 3016.4 1117.7 3017.1 1117.7C3018.8 1117.7 3020.2 1184.3 3021.9 1184.3C3022.9 1184.3 3023.7 1138.8 3024.7 1138.8C3025.7 1138.8 3026.5 1170.5 3027.4 1170.5C3028.3 1170.5 3029.1 1092.5 3030.0 1092.5C3030.9 1092.5 3031.8 1193.5 3032.7 1193.5C3033.9 1193.5 3035.0 1149.2 3036.2 1149.2C3037.0 1149.2 3037.7 1190.7 3038.5 1190.7C3039.8 1190.7 3041.0 1138.8 3042.4 1138.8C3043.2 1138.8 3043.9 1176.3 3044.7 1176.3C3045.7 1176.3 3046.6 1141.1 3047.6 1141.1C3048.3 1141.1 3048.8 1180.9 3049.5 1180.9C3050.4 1180.9 3051.3 1118.9 3052.2 1118.9C3053.0 1118.9 3053.7 1172.8 3054.5 1172.8C3055.5 1172.8 3056.3 1089.5 3057.3 1089.5C3058.3 1089.5 3059.1 1189.4 3060.1 1189.4C3061.1 1189.4 3062.0 1127.8 3063.0 1127.8C3063.8 1127.8 3064.5 1161.4 3065.3 1161.4C3066.3 1161.4 3067.1 1131.3 3068.1 1131.3C3069.0 1131.3 3069.7 1174.0 3070.6 1174.0C3071.7 1174.0 3072.7 1151.5 3073.8 1151.5C3074.6 1151.5 3075.3 1171.7 3076.1 1171.7C3077.7 1171.7 3079.1 1123.9 3080.7 1123.9C3081.4 1123.9 3081.9 1163.0 3082.6 1163.0C3083.8 1163.0 3084.8 1136.5 3086.0 1136.5C3087.0 1136.5 3087.8 1194.0 3088.7 1194.0C3089.6 1194.0 3090.2 1126.2 3091.0 1126.2C3092.3 1126.2 3093.3 1187.1 3094.5 1187.1C3095.2 1187.1 3095.8 1106.7 3096.6 1106.7C3097.9 1106.7 3099.1 1164.1 3100.5 1164.1C3101.0 1164.1 3101.5 1133.6 3102.1 1133.6C3103.4 1133.6 3104.6 1153.8 3106.0 1153.8C3106.5 1153.8 3106.9 1132.6 3107.3 1132.6C3108.7 1132.6 3109.9 1149.9 3111.2 1149.9C3111.9 1149.9 3112.4 1092.2 3113.1 1092.2C3114.3 1092.2 3115.3 1168.2 3116.5 1168.2C3117.5 1168.2 3118.3 1125.5 3119.3 1125.5C3120.1 1125.5 3120.8 1158.7 3121.6 1158.7C3122.4 1158.7 3123.1 1136.5 3123.9 1136.5C3124.1 1136.5 3124.3 1157.2 3124.6 1157.2C3125.7 1157.2 3126.7 1101.7 3127.8 1101.7C3129.1 1101.7 3130.2 1171.0 3131.5 1171.0C3132.6 1171.0 3133.5 1103.7 3134.7 1103.7C3136.5 1103.7 3138.1 1147.6 3139.9 1147.6C3140.1 1147.6 3140.2 1136.5 3140.4 1136.5C3141.1 1136.5 3141.8 1152.2 3142.5 1152.2C3143.2 1152.2 3143.8 1126.2 3144.5 1126.2C3145.2 1126.2 3145.7 1171.7 3146.4 1171.7C3147.7 1171.7 3148.9 1124.4 3150.3 1124.4C3151.3 1124.4 3152.2 1184.3 3153.3 1184.3C3154.6 1184.3 3155.8 1112.4 3157.2 1112.4C3159.0 1112.4 3160.6 1154.5 3162.4 1154.5C3163.3 1154.5 3163.9 1103.3 3164.7 1103.3C3165.6 1103.3 3166.3 1141.3 3167.2 1141.3C3168.0 1141.3 3168.7 1094.8 3169.6 1094.8C3170.0 1094.8 3170.5 1164.1 3170.9 1164.1C3172.1 1164.1 3173.2 1127.4 3174.4 1127.4C3175.6 1127.4 3176.6 1170.1 3177.8 1170.1C3178.2 1170.1 3178.6 1149.2 3179.0 1149.2C3179.7 1149.2 3180.3 1156.0 3181.0 1156.0C3181.8 1156.0 3182.4 1129.7 3183.1 1129.7C3184.1 1129.7 3184.9 1147.6 3185.9 1147.6C3187.2 1147.6 3188.4 1110.1 3189.8 1110.1C3191.1 1110.1 3192.2 1191.2 3193.4 1191.2C3194.6 1191.2 3195.5 1114.0 3196.7 1114.0C3197.8 1114.0 3198.7 1190.7 3199.9 1190.7C3201.4 1190.7 3202.7 1110.6 3204.2 1110.6C3205.8 1110.6 3207.2 1151.0 3208.8 1151.0C3209.6 1151.0 3210.3 1138.8 3211.1 1138.8C3211.8 1138.8 3212.3 1168.7 3213.0 1168.7C3213.9 1168.7 3214.7 1130.8 3215.7 1130.8C3216.9 1130.8 3218.0 1151.7 3219.2 1151.7C3219.6 1151.7 3220.1 1110.8 3220.5 1110.8C3222.1 1110.8 3223.4 1151.7 3224.9 1151.7C3225.7 1151.7 3226.4 1126.7 3227.2 1126.7C3228.0 1126.7 3228.7 1186.6 3229.5 1186.6C3231.1 1186.6 3232.5 1123.5 3234.1 1123.5C3234.9 1123.5 3235.6 1146.4 3236.4 1146.4C3237.2 1146.4 3237.9 1136.5 3238.7 1136.5C3239.5 1136.5 3240.2 1164.8 3241.0 1164.8C3242.0 1164.8 3242.9 1134.3 3244.0 1134.3C3245.3 1134.3 3246.5 1166.6 3247.9 1166.6C3249.1 1166.6 3250.1 1101.7 3251.3 1101.7C3252.2 1101.7 3252.9 1138.9 3253.8 1138.9C3255.4 1138.9 3256.7 1118.2 3258.2 1118.2C3258.8 1118.2 3259.4 1172.8 3260.0 1172.8C3261.4 1172.8 3262.6 1129.0 3263.9 1129.0C3264.7 1129.0 3265.4 1169.4 3266.2 1169.4C3267.0 1169.4 3267.7 1131.3 3268.5 1131.3C3269.5 1131.3 3270.3 1168.2 3271.3 1168.2C3271.9 1168.2 3272.5 1114.7 3273.1 1114.7C3274.3 1114.7 3275.3 1153.3 3276.6 1153.3C3277.0 1153.3 3277.3 1131.3 3277.7 1131.3C3278.5 1131.3 3279.2 1147.0 3280.0 1147.0C3280.8 1147.0 3281.5 1125.5 3282.3 1125.5C3282.7 1125.5 3283.0 1145.3 3283.4 1145.3C3285.0 1145.3 3286.4 1132.0 3288.0 1132.0C3288.8 1132.0 3289.5 1172.8 3290.3 1172.8C3291.5 1172.8 3292.6 1126.7 3293.8 1126.7C3295.0 1126.7 3296.0 1174.0 3297.2 1174.0C3298.4 1174.0 3299.5 1148.7 3300.7 1148.7C3302.1 1148.7 3303.3 1188.9 3304.8 1188.9C3305.8 1188.9 3306.6 1122.1 3307.5 1122.1C3308.5 1122.1 3309.3 1176.3 3310.3 1176.3C3311.5 1176.3 3312.5 1095.9 3313.7 1095.9C3315.4 1095.9 3316.9 1198.5 3318.6 1198.5C3319.4 1198.5 3320.1 1144.6 3320.9 1144.6C3322.0 1144.6 3323.0 1174.0 3324.1 1174.0C3324.7 1174.0 3325.3 1149.2 3325.9 1149.2C3326.5 1149.2 3327.0 1165.7 3327.6 1165.7C3328.2 1165.7 3328.8 1130.8 3329.4 1130.8C3330.2 1130.8 3330.9 1172.1 3331.7 1172.1C3332.9 1172.1 3333.9 1131.5 3335.1 1131.5C3335.8 1131.5 3336.4 1183.2 3337.2 1183.2C3338.0 1183.2 3338.7 1145.9 3339.6 1145.9C3340.4 1145.9 3341.1 1169.4 3342.0 1169.4C3342.1 1169.4 3342.3 1132.0 3342.4 1132.0C3343.4 1132.0 3344.2 1170.4 3345.1 1170.4C3346.0 1170.4 3346.8 1145.7 3347.7 1145.7C3348.3 1145.7 3348.8 1198.5 3349.3 1198.5C3350.4 1198.5 3351.3 1130.8 3352.3 1130.8C3353.4 1130.8 3354.3 1137.2 3355.3 1137.2C3355.6 1137.2 3355.9 1111.3 3356.2 1111.3C3357.9 1111.3 3359.4 1179.3 3361.0 1179.3C3362.2 1179.3 3363.3 1128.5 3364.5 1128.5C3365.3 1128.5 3366.0 1182.5 3366.8 1182.5C3367.9 1182.5 3368.9 1134.3 3370.0 1134.3C3370.9 1134.3 3371.6 1196.2 3372.5 1196.2C3373.5 1196.2 3374.3 1138.2 3375.3 1138.2C3376.5 1138.2 3377.5 1165.9 3378.7 1165.9C3380.1 1165.9 3381.3 1105.1 3382.6 1105.1C3383.7 1105.1 3384.7 1182.7 3385.8 1182.7C3387.0 1182.7 3387.9 1137.0 3389.1 1137.0C3390.0 1137.0 3390.8 1163.6 3391.8 1163.6C3392.5 1163.6 3393.0 1151.5 3393.6 1151.5C3394.4 1151.5 3395.1 1165.5 3395.9 1165.5C3396.6 1165.5 3397.1 1137.2 3397.8 1137.2C3399.0 1137.2 3400.0 1198.8 3401.2 1198.8C3402.2 1198.8 3403.0 1133.6 3404.0 1133.6C3405.2 1133.6 3406.2 1154.5 3407.4 1154.5C3408.2 1154.5 3408.9 1144.6 3409.7 1144.6C3410.4 1144.6 3410.9 1174.0 3411.6 1174.0C3412.6 1174.0 3413.5 1098.7 3414.5 1098.7C3415.5 1098.7 3416.3 1182.0 3417.3 1182.0C3418.3 1182.0 3419.1 1118.2 3420.0 1118.2C3421.3 1118.2 3422.3 1157.4 3423.5 1157.4C3424.7 1157.4 3425.7 1098.7 3426.9 1098.7C3428.3 1098.7 3429.5 1190.0 3430.8 1190.0C3431.9 1190.0 3432.8 1098.0 3433.8 1098.0C3434.6 1098.0 3435.3 1154.9 3436.1 1154.9C3437.5 1154.9 3438.7 1106.7 3440.0 1106.7C3440.9 1106.7 3441.7 1169.4 3442.5 1169.4C3443.8 1169.4 3444.8 1117.5 3446.0 1117.5C3447.0 1117.5 3447.8 1199.7 3448.7 1199.7C3450.0 1199.7 3451.0 1115.2 3452.2 1115.2C3453.4 1115.2 3454.4 1162.5 3455.6 1162.5C3456.4 1162.5 3457.1 1109.0 3457.9 1109.0C3459.1 1109.0 3460.2 1186.1 3461.4 1186.1C3463.1 1186.1 3464.5 1117.0 3466.2 1117.0C3466.7 1117.0 3467.1 1152.2 3467.6 1152.2C3468.8 1152.2 3469.8 1136.1 3471.0 1136.1C3471.7 1136.1 3472.2 1161.4 3472.9 1161.4C3474.1 1161.4 3475.1 1141.8 3476.3 1141.8C3477.1 1141.8 3477.8 1171.2 3478.6 1171.2C3479.4 1171.2 3480.1 1137.2 3480.9 1137.2C3481.9 1137.2 3482.7 1155.6 3483.6 1155.6C3484.4 1155.6 3485.1 1124.4 3485.9 1124.4C3487.2 1124.4 3488.3 1148.7 3489.6 1148.7C3491.0 1148.7 3492.1 1114.0 3493.5 1114.0C3494.7 1114.0 3495.8 1171.7 3497.0 1171.7C3497.8 1171.7 3498.5 1132.6 3499.3 1132.6C3500.3 1132.6 3501.2 1148.7 3502.2 1148.7C3502.8 1148.7 3503.3 1132.0 3503.8 1132.0C3505.1 1132.0 3506.1 1153.8 3507.3 1153.8C3507.9 1153.8 3508.5 1130.1 3509.1 1130.1C3510.0 1130.1 3510.8 1149.4 3511.7 1149.4C3512.5 1149.4 3513.3 1136.5 3514.2 1136.5C3515.0 1136.5 3515.7 1159.7 3516.5 1159.7C3518.1 1159.7 3519.5 1125.8 3521.1 1125.8C3521.9 1125.8 3522.6 1151.0 3523.4 1151.0C3524.6 1151.0 3525.6 1122.8 3526.8 1122.8C3527.8 1122.8 3528.6 1160.9 3529.6 1160.9C3530.6 1160.9 3531.5 1133.6 3532.5 1133.6C3533.1 1133.6 3533.7 1164.1 3534.3 1164.1C3534.9 1164.1 3535.4 1144.6 3536.0 1144.6C3536.4 1144.6 3536.7 1169.4 3537.1 1169.4C3538.4 1169.4 3539.5 1119.3 3540.8 1119.3C3541.8 1119.3 3542.6 1174.4 3543.6 1174.4C3544.4 1174.4 3545.1 1119.3 3545.9 1119.3C3546.8 1119.3 3547.7 1155.6 3548.6 1155.6C3549.3 1155.6 3549.8 1110.1 3550.5 1110.1" stroke="#0000ff" stroke-width="6.25" fill="none" stroke-linejoin="round" stroke-linecap="butt"/>
<path d="M355.50 1436.5v15.2M916.50 1436.5v15.2M1477.50 1436.5v15.2M2037.50 1436.5v15.2M2598.50 1436.5v15.2M3159.50 1436.5v15.2M355.5 949.50h-15.2M355.5 1048.50h-15.2M355.5 1147.50h-15.2M355.5 1246.50h-15.2M355.5 1345.50h-15.2" stroke="#000" stroke-width="3" fill="none"/>
<rect x="355.5" y="858.5" width="3197.0" height="578.0" fill="none" stroke="#000" stroke-width="3"/>
<path d="M916.50 1635.5V2212.5M1477.50 1635.5V2212.5M2037.50 1635.5V2212.5M2598.50 1635.5V2212.5M3159.50 1635.5V2212.5M355.5 1639.50H3552.5M355.5 1781.50H3552.5M355.5 1923.50H3552.5M355.5 2065.50H3552.5M355.5 2208.50H3552.5" stroke="#b0b0b0" stroke-width="3" fill="none"/>
<path clip-path="url(#c2)" d="M355.4 1894.2C355.8 1894.3 358.0 1894.3 358.7 1895.3C359.4 1896.3 360.7 1902.7 361.3 1902.6C361.8 1902.6 362.7 1895.5 363.5 1894.9C364.3 1894.3 367.1 1895.6 367.9 1897.9C368.7 1900.1 369.6 1911.9 370.5 1914.4C371.3 1917.0 374.2 1919.3 375.3 1919.6C376.3 1920.0 378.5 1915.2 379.3 1917.4C380.2 1919.5 381.7 1935.8 382.6 1938.0C383.6 1940.3 386.6 1936.3 387.4 1936.6C388.3 1936.8 389.4 1940.3 390.0 1940.3C390.7 1940.3 392.3 1935.3 393.0 1936.6C393.6 1937.9 394.9 1951.0 395.6 1951.3C396.2 1951.7 397.9 1938.2 398.5 1939.5C399.1 1940.8 400.4 1961.1 401.1 1962.4C401.7 1963.7 403.3 1949.6 404.0 1950.6C404.8 1951.5 406.6 1968.6 407.4 1970.5C408.1 1972.4 409.7 1965.9 410.3 1966.8C410.9 1967.7 411.9 1978.3 412.5 1977.9C413.2 1977.4 415.0 1963.0 415.8 1963.1C416.6 1963.2 418.7 1980.8 419.5 1978.6C420.3 1976.4 422.1 1947.7 422.8 1943.9C423.6 1940.2 425.2 1949.4 425.8 1946.5C426.4 1943.7 427.4 1922.9 428.0 1919.6C428.6 1916.3 430.1 1919.0 430.6 1918.1C431.1 1917.3 431.8 1911.6 432.4 1912.2C433.1 1912.8 435.2 1922.3 436.1 1923.3C437.1 1924.3 439.6 1922.4 440.5 1921.1C441.5 1919.8 443.5 1912.9 444.2 1912.2C444.9 1911.5 445.7 1911.2 446.4 1915.2C447.1 1919.2 449.1 1942.6 450.1 1946.5C451.1 1950.5 454.1 1951.5 455.3 1949.1C456.4 1946.7 459.0 1929.3 460.1 1926.2C461.2 1923.2 463.9 1922.2 464.9 1923.3C465.9 1924.4 467.7 1935.5 468.5 1935.8C469.4 1936.2 471.0 1926.3 471.9 1926.2C472.7 1926.2 474.9 1934.7 475.6 1935.5C476.2 1936.2 476.8 1932.3 477.4 1932.9C478.0 1933.4 479.7 1942.1 480.3 1940.3C481.0 1938.4 482.6 1919.1 483.3 1917.0C484.0 1915.0 485.9 1924.4 486.6 1922.6C487.3 1920.7 488.9 1904.1 489.6 1901.2C490.3 1898.3 491.9 1902.0 492.5 1897.5C493.2 1893.0 494.3 1866.7 495.1 1862.8C495.9 1859.0 498.8 1865.2 499.5 1864.3C500.2 1863.4 500.9 1856.8 501.4 1855.5C501.8 1854.2 503.1 1855.1 503.6 1853.2C504.0 1851.4 504.7 1841.5 505.4 1839.6C506.1 1837.7 509.0 1835.9 509.8 1837.0C510.7 1838.2 511.7 1847.8 512.4 1849.6C513.1 1851.3 515.1 1850.7 515.7 1851.8C516.4 1852.9 517.3 1857.9 517.9 1859.1C518.6 1860.4 520.9 1864.1 521.6 1862.8C522.4 1861.5 523.8 1850.3 524.6 1848.1C525.4 1845.9 527.5 1843.4 528.3 1843.7C529.0 1844.0 530.3 1848.7 530.9 1850.7C531.4 1852.6 532.4 1859.0 533.1 1860.6C533.7 1862.2 535.5 1863.4 536.4 1864.3C537.2 1865.2 539.6 1869.0 540.4 1868.0C541.3 1867.0 543.1 1855.6 543.8 1855.5C544.4 1855.3 545.3 1864.9 546.0 1866.5C546.6 1868.1 548.3 1866.4 549.3 1869.1C550.2 1871.8 553.1 1887.2 554.1 1889.4C555.1 1891.5 557.0 1886.3 557.8 1887.5C558.5 1888.7 560.1 1897.9 560.7 1899.7C561.4 1901.5 562.7 1901.6 563.3 1903.4C563.9 1905.2 565.3 1913.2 565.9 1915.2C566.4 1917.2 567.5 1918.3 568.1 1920.7C568.6 1923.1 570.0 1934.9 570.7 1935.5C571.3 1936.0 573.0 1924.8 573.6 1925.5C574.3 1926.2 575.7 1938.7 576.2 1941.7C576.7 1944.7 577.5 1948.6 578.0 1951.3C578.6 1954.0 580.0 1965.4 580.6 1965.0C581.3 1964.5 582.9 1947.9 583.6 1947.6C584.2 1947.3 585.5 1960.7 586.2 1962.4C586.8 1964.0 588.7 1958.8 589.5 1961.6C590.3 1964.5 592.3 1984.8 593.2 1987.1C594.0 1989.4 595.8 1981.0 596.5 1981.5C597.2 1982.1 598.5 1991.4 599.1 1991.9C599.6 1992.3 600.7 1984.5 601.3 1985.2C601.8 1986.0 603.2 1996.4 603.8 1998.1C604.5 1999.9 606.2 1999.1 606.8 2000.0C607.4 2000.8 608.7 2006.4 609.4 2005.5C610.0 2004.6 611.7 1993.0 612.3 1992.6C613.0 1992.2 614.3 2002.8 614.9 2001.8C615.5 2000.9 616.8 1984.6 617.5 1984.5C618.1 1984.4 619.7 1999.0 620.4 2000.7C621.2 2002.4 623.4 1997.8 624.1 1999.2C624.9 2000.7 626.3 2012.8 627.1 2012.9C627.8 2013.0 629.9 2002.1 630.8 2000.0C631.6 1997.8 633.3 1996.7 634.1 1994.4C634.8 1992.2 636.3 1981.9 637.0 1980.8C637.7 1979.7 639.3 1987.5 640.0 1985.2C640.6 1983.0 641.7 1963.4 642.6 1961.3C643.4 1959.1 646.1 1968.0 647.0 1966.8C647.8 1965.6 649.2 1952.9 649.9 1951.3C650.6 1949.7 652.3 1953.8 652.9 1952.8C653.5 1951.8 654.6 1943.9 655.1 1942.8C655.6 1941.8 656.8 1944.9 657.3 1943.9C657.8 1943.0 658.7 1934.1 659.5 1934.4C660.3 1934.7 663.1 1948.1 663.9 1946.5C664.8 1944.9 665.8 1923.2 666.5 1920.7C667.3 1918.3 669.5 1925.7 670.2 1925.5C670.9 1925.3 672.1 1918.6 672.8 1918.9C673.4 1919.2 675.0 1930.6 675.7 1928.1C676.4 1925.6 677.9 1899.2 678.7 1897.5C679.5 1895.8 681.6 1912.1 682.4 1913.3C683.1 1914.5 684.4 1906.7 685.0 1907.8C685.6 1908.9 686.9 1924.1 687.5 1922.6C688.2 1921.1 689.8 1896.4 690.5 1894.9C691.2 1893.4 692.7 1907.9 693.4 1909.7C694.1 1911.4 695.7 1906.5 696.4 1909.7C697.0 1912.8 698.3 1933.9 699.0 1936.6C699.7 1939.3 701.5 1934.0 702.3 1932.9C703.1 1931.8 705.2 1926.6 706.0 1927.0C706.7 1927.4 708.1 1937.1 708.9 1936.6C709.7 1936.1 711.8 1923.3 712.6 1922.6C713.4 1921.8 714.9 1928.3 715.6 1929.9C716.2 1931.6 717.4 1934.3 718.1 1936.6C718.9 1938.8 721.0 1949.5 721.8 1949.1C722.7 1948.7 724.6 1935.6 725.5 1932.9C726.4 1930.1 728.5 1926.1 729.2 1925.5C729.9 1924.9 730.9 1928.2 731.8 1928.1C732.6 1928.0 735.6 1926.6 736.6 1924.4C737.6 1922.3 739.3 1912.0 740.3 1909.7C741.2 1907.3 744.1 1904.6 745.0 1904.1C746.0 1903.7 747.7 1907.2 748.7 1906.0C749.8 1904.8 752.9 1893.7 753.9 1893.8C754.8 1893.9 756.1 1906.5 756.8 1907.1C757.6 1907.6 759.7 1897.9 760.5 1898.6C761.4 1899.3 763.3 1910.9 764.2 1913.3C765.2 1915.8 767.8 1919.0 768.6 1919.6C769.5 1920.2 770.7 1916.5 771.6 1918.1C772.5 1919.8 775.2 1931.4 776.0 1933.6C776.9 1935.9 778.2 1934.1 779.0 1937.3C779.7 1940.5 781.9 1957.6 782.6 1961.3C783.4 1964.9 784.7 1967.8 785.6 1968.6C786.5 1969.5 789.2 1968.9 790.0 1968.6C790.9 1968.4 792.5 1968.1 793.0 1966.8C793.5 1965.5 793.9 1959.3 794.4 1957.6C795.0 1955.9 796.7 1955.7 797.4 1952.1C798.1 1948.4 799.7 1929.6 800.3 1926.2C801.0 1922.9 802.3 1922.6 802.9 1923.3C803.5 1923.9 804.9 1930.4 805.5 1931.8C806.2 1933.2 807.8 1934.5 808.5 1935.5C809.1 1936.5 810.7 1940.0 811.4 1940.3C812.1 1940.5 813.5 1937.4 814.4 1937.3C815.2 1937.2 817.8 1941.7 818.8 1939.1C819.7 1936.6 821.7 1917.3 822.5 1915.2C823.2 1913.0 824.4 1919.0 825.0 1920.7C825.7 1922.4 827.1 1930.4 828.0 1929.9C828.9 1929.5 831.6 1918.8 832.4 1917.0C833.3 1915.2 834.7 1917.2 835.4 1914.4C836.0 1911.7 837.2 1893.4 837.9 1893.8C838.7 1894.2 840.8 1916.4 841.6 1918.1C842.5 1919.9 844.6 1909.8 845.3 1908.5C846.1 1907.3 847.3 1909.6 847.9 1907.8C848.5 1906.0 849.5 1894.4 850.1 1893.1C850.8 1891.8 852.7 1895.5 853.4 1896.8C854.2 1898.0 855.4 1902.6 856.4 1904.1C857.4 1905.6 860.9 1911.5 861.9 1909.7C862.9 1907.8 864.1 1890.1 864.9 1888.6C865.6 1887.2 867.5 1897.8 868.2 1897.5C868.8 1897.1 869.7 1885.4 870.4 1885.7C871.1 1885.9 873.3 1900.2 874.1 1899.7C874.8 1899.2 875.9 1884.6 876.7 1881.3C877.4 1877.9 879.5 1871.6 880.3 1870.9C881.2 1870.3 883.3 1872.8 884.0 1875.4C884.8 1877.9 885.9 1893.7 886.6 1893.1C887.3 1892.5 889.5 1869.7 890.3 1870.2C891.1 1870.7 892.5 1895.7 893.2 1897.5C894.0 1899.3 896.2 1885.7 896.9 1885.7C897.7 1885.7 899.0 1897.8 899.9 1897.5C900.7 1897.1 903.4 1884.0 904.3 1882.7C905.2 1881.5 906.7 1886.7 907.3 1886.4C907.8 1886.1 908.6 1880.0 909.1 1880.2C909.6 1880.3 911.0 1889.0 911.7 1887.5C912.3 1886.0 914.0 1871.3 914.6 1867.3C915.3 1863.2 916.6 1856.0 917.2 1852.5C917.9 1849.1 919.4 1837.4 920.2 1837.8C920.9 1838.1 922.7 1853.2 923.5 1855.5C924.2 1857.7 925.7 1856.1 926.4 1856.9C927.1 1857.8 928.6 1865.5 929.4 1862.8C930.2 1860.2 932.3 1837.1 933.1 1834.1C933.8 1831.1 934.9 1838.5 935.6 1837.0C936.4 1835.5 938.6 1820.7 939.3 1821.2C940.1 1821.7 941.6 1841.0 942.3 1841.5C942.9 1841.9 944.2 1823.8 944.9 1824.9C945.5 1825.9 947.0 1851.7 947.8 1850.7C948.6 1849.7 950.8 1817.9 951.5 1816.4C952.2 1814.9 953.3 1838.7 954.1 1837.8C954.8 1836.8 956.9 1810.2 957.8 1808.3C958.6 1806.3 960.7 1817.3 961.5 1821.2C962.2 1825.0 963.5 1837.4 964.0 1841.5C964.6 1845.5 965.6 1856.7 966.2 1856.2C966.9 1855.7 969.2 1840.9 969.9 1837.0C970.7 1833.2 971.9 1823.1 972.5 1823.0C973.2 1822.9 974.8 1836.4 975.5 1835.9C976.1 1835.5 977.2 1817.3 978.0 1819.3C978.9 1821.4 981.5 1850.3 982.5 1853.2C983.4 1856.2 985.3 1846.4 986.2 1844.4C987.0 1842.4 989.1 1836.3 989.8 1835.9C990.6 1835.6 992.2 1841.0 992.8 1841.5C993.4 1841.9 994.4 1838.1 995.0 1839.6C995.6 1841.1 997.3 1851.1 997.9 1854.4C998.6 1857.6 999.8 1865.8 1000.5 1867.3C1001.3 1868.7 1003.5 1864.7 1004.2 1866.5C1004.9 1868.3 1006.2 1880.5 1006.8 1882.7C1007.4 1885.0 1008.5 1882.6 1009.0 1885.7C1009.5 1888.8 1010.5 1907.6 1011.2 1909.7C1012.0 1911.7 1014.5 1904.4 1015.3 1903.4C1016.1 1902.4 1017.6 1898.9 1018.2 1901.2C1018.9 1903.4 1020.2 1919.5 1020.8 1922.6C1021.4 1925.6 1022.7 1922.5 1023.4 1927.0C1024.0 1931.5 1025.6 1958.6 1026.3 1961.3C1027.0 1964.0 1028.6 1949.8 1029.3 1950.2C1029.9 1950.6 1031.3 1963.4 1031.9 1965.0C1032.5 1966.5 1033.9 1961.8 1034.4 1963.1C1035.0 1964.4 1036.0 1973.3 1036.7 1976.0C1037.3 1978.7 1039.2 1984.2 1040.0 1986.0C1040.7 1987.7 1042.4 1988.8 1042.9 1990.8C1043.5 1992.7 1044.1 2001.6 1044.8 2002.9C1045.4 2004.2 1047.7 2004.1 1048.5 2001.8C1049.2 1999.5 1050.5 1982.7 1051.0 1983.4C1051.6 1984.0 1052.6 2006.7 1053.2 2007.4C1053.9 2008.0 1055.6 1988.1 1056.2 1988.9C1056.8 1989.8 1057.8 2010.6 1058.4 2014.7C1059.0 2018.8 1060.8 2021.8 1061.4 2023.9C1062.0 2026.1 1063.1 2029.5 1063.6 2033.2C1064.0 2036.8 1064.7 2049.6 1065.0 2055.3C1065.4 2061.0 1066.3 2081.4 1066.9 2081.8C1067.4 2082.3 1069.1 2061.4 1069.8 2059.0C1070.6 2056.5 1072.7 2059.1 1073.5 2060.8C1074.3 2062.5 1076.0 2071.3 1076.8 2073.7C1077.7 2076.2 1079.8 2077.1 1080.5 2081.8C1081.2 2086.6 1082.1 2115.4 1082.7 2114.3C1083.3 2113.1 1085.0 2071.7 1085.7 2071.9C1086.3 2072.1 1087.6 2113.5 1088.3 2116.1C1089.0 2118.7 1090.9 2094.2 1091.6 2094.0C1092.3 2093.8 1093.8 2114.5 1094.5 2114.3C1095.3 2114.0 1097.1 2089.2 1097.9 2092.1C1098.6 2095.1 1100.1 2136.3 1100.8 2139.3C1101.5 2142.3 1103.1 2117.6 1103.8 2117.9C1104.4 2118.3 1106.0 2136.5 1106.7 2141.9C1107.4 2147.3 1109.0 2160.8 1109.7 2164.0C1110.3 2167.3 1111.6 2167.7 1112.2 2169.6C1112.8 2171.4 1114.2 2177.9 1114.8 2179.9C1115.4 2181.8 1116.8 2188.1 1117.4 2186.2C1118.0 2184.2 1119.7 2166.2 1120.3 2162.9C1121.0 2159.7 1122.3 2158.8 1122.9 2158.5C1123.5 2158.2 1124.9 2162.7 1125.5 2160.3C1126.1 2158.0 1127.5 2138.4 1128.1 2138.2C1128.7 2138.0 1130.2 2155.6 1130.7 2158.5C1131.2 2161.4 1132.0 2163.8 1132.5 2162.9C1133.0 2162.1 1134.6 2152.9 1135.1 2151.1C1135.6 2149.3 1136.4 2152.0 1136.9 2147.4C1137.5 2142.9 1139.2 2113.7 1139.9 2112.4C1140.5 2111.1 1141.9 2136.8 1142.5 2136.4C1143.1 2136.0 1144.4 2114.1 1145.0 2108.7C1145.7 2103.4 1147.4 2094.2 1148.0 2090.3C1148.6 2086.4 1149.9 2078.3 1150.6 2075.6C1151.2 2072.8 1152.8 2070.4 1153.5 2066.3C1154.2 2062.3 1155.8 2045.3 1156.5 2040.5C1157.1 2035.7 1158.5 2030.9 1159.1 2025.0C1159.6 2019.2 1160.6 1998.2 1160.9 1990.8C1161.2 1983.3 1161.5 1964.8 1162.0 1961.3C1162.5 1957.7 1164.7 1962.5 1165.3 1960.2C1166.0 1957.8 1166.9 1943.3 1167.5 1941.0C1168.1 1938.7 1169.9 1942.8 1170.5 1940.3C1171.1 1937.7 1172.1 1921.8 1172.7 1918.9C1173.3 1915.9 1175.0 1919.7 1175.6 1915.2C1176.3 1910.7 1177.7 1887.0 1178.2 1880.2C1178.8 1873.3 1179.9 1863.4 1180.4 1856.2C1181.0 1849.0 1182.5 1820.3 1183.0 1818.6C1183.6 1816.9 1184.7 1837.7 1185.2 1841.5C1185.8 1845.2 1187.3 1854.2 1187.8 1850.7C1188.3 1847.1 1189.1 1815.7 1189.7 1811.2C1190.2 1806.8 1191.7 1818.4 1192.2 1812.7C1192.8 1807.0 1193.6 1769.1 1194.1 1762.2C1194.6 1755.3 1195.8 1751.8 1196.3 1753.7C1196.8 1755.6 1198.0 1777.8 1198.5 1778.8C1199.0 1779.8 1200.1 1764.3 1200.7 1762.2C1201.3 1760.0 1203.1 1763.7 1203.7 1760.3C1204.2 1757.0 1204.7 1734.2 1205.1 1733.8C1205.6 1733.4 1207.2 1756.9 1207.7 1756.7C1208.2 1756.4 1209.0 1735.4 1209.6 1731.6C1210.1 1727.8 1211.9 1721.6 1212.5 1724.2C1213.2 1726.8 1214.5 1751.2 1215.1 1753.7C1215.7 1756.2 1216.7 1744.8 1217.3 1745.6C1217.9 1746.4 1219.2 1765.0 1219.9 1760.3C1220.5 1755.7 1222.2 1706.2 1222.8 1705.8C1223.5 1705.4 1224.8 1752.1 1225.4 1756.7C1226.0 1761.2 1227.4 1747.2 1228.0 1744.9C1228.6 1742.5 1230.3 1737.6 1230.9 1736.4C1231.6 1735.2 1233.3 1733.7 1233.9 1734.5C1234.5 1735.4 1235.5 1744.3 1236.1 1743.8C1236.7 1743.2 1238.4 1730.4 1239.1 1730.1C1239.7 1729.8 1241.2 1740.9 1242.0 1741.2C1242.8 1741.5 1244.9 1731.1 1245.7 1732.7C1246.5 1734.3 1247.9 1753.3 1248.6 1754.8C1249.4 1756.3 1251.5 1746.7 1252.3 1745.6C1253.2 1744.5 1255.2 1744.1 1256.0 1745.6C1256.8 1747.1 1258.4 1754.4 1259.0 1758.5C1259.6 1762.6 1260.6 1777.8 1261.2 1780.6C1261.8 1783.4 1263.4 1777.7 1264.1 1782.5C1264.8 1787.2 1266.4 1823.1 1267.1 1821.2C1267.8 1819.2 1269.4 1770.0 1270.0 1765.9C1270.7 1761.7 1272.0 1782.8 1272.6 1785.4C1273.2 1788.0 1274.5 1788.0 1275.2 1788.0C1275.8 1788.0 1277.4 1784.0 1278.1 1785.4C1278.8 1786.8 1280.4 1799.2 1281.1 1800.2C1281.8 1801.1 1283.7 1794.5 1284.4 1793.5C1285.1 1792.5 1286.7 1790.2 1287.4 1791.7C1288.0 1793.2 1289.3 1803.7 1289.9 1806.4C1290.5 1809.1 1291.9 1814.8 1292.5 1814.9C1293.2 1815.0 1294.8 1805.3 1295.5 1807.5C1296.1 1809.8 1297.4 1824.6 1298.0 1834.1C1298.7 1843.5 1300.3 1884.3 1301.0 1888.6C1301.7 1892.9 1303.3 1870.9 1303.9 1870.9C1304.6 1871.0 1306.0 1889.4 1306.5 1889.4C1307.1 1889.4 1308.2 1865.4 1308.7 1870.9C1309.3 1876.5 1310.7 1934.0 1311.3 1936.6C1312.0 1939.1 1313.7 1895.1 1314.3 1893.1C1314.9 1891.0 1316.0 1917.1 1316.5 1918.9C1317.0 1920.7 1318.2 1912.4 1318.7 1908.5C1319.2 1904.7 1320.3 1884.3 1320.9 1885.7C1321.5 1887.1 1323.2 1917.2 1323.8 1920.7C1324.5 1924.2 1326.2 1916.6 1326.8 1915.9C1327.4 1915.3 1328.5 1919.8 1329.0 1915.2C1329.5 1910.6 1330.7 1884.4 1331.2 1876.5C1331.7 1868.5 1332.5 1847.2 1333.1 1847.0C1333.6 1846.8 1335.3 1871.0 1336.0 1874.6C1336.7 1878.3 1338.1 1879.2 1339.0 1878.3C1339.8 1877.5 1342.6 1872.4 1343.4 1867.3C1344.2 1862.1 1345.0 1838.6 1345.6 1834.1C1346.2 1829.6 1347.5 1834.4 1348.2 1828.5C1348.8 1822.7 1350.5 1783.3 1351.1 1784.3C1351.7 1785.3 1352.7 1833.6 1353.3 1837.0C1353.9 1840.5 1355.6 1811.2 1356.3 1813.8C1357.0 1816.4 1358.6 1855.7 1359.2 1859.1C1359.9 1862.6 1361.2 1840.2 1361.8 1843.3C1362.4 1846.4 1363.8 1876.7 1364.4 1885.7C1365.0 1894.7 1366.1 1922.0 1366.6 1920.7C1367.2 1919.4 1368.6 1871.1 1369.2 1874.6C1369.8 1878.2 1371.1 1945.8 1371.8 1951.3C1372.4 1956.8 1373.9 1922.4 1374.7 1921.8C1375.5 1921.3 1377.6 1941.8 1378.4 1946.5C1379.2 1951.3 1380.7 1962.2 1381.4 1962.4C1382.0 1962.5 1383.7 1944.5 1384.3 1947.6C1384.9 1950.7 1386.0 1978.4 1386.5 1988.9C1387.0 1999.4 1388.1 2037.5 1388.7 2037.6C1389.3 2037.7 1391.0 1992.8 1391.7 1989.7C1392.4 1986.6 1393.9 2005.9 1394.6 2011.0C1395.3 2016.2 1397.0 2036.5 1397.6 2033.9C1398.2 2031.3 1399.3 1998.8 1399.8 1988.9C1400.3 1979.0 1401.4 1945.7 1402.0 1949.1C1402.6 1952.5 1404.0 2013.9 1404.6 2018.4C1405.2 2023.0 1406.6 1992.6 1407.2 1988.2C1407.7 1983.8 1408.8 1977.4 1409.4 1980.8C1410.0 1984.2 1411.7 2016.8 1412.3 2017.7C1412.9 2018.5 1414.0 1993.2 1414.5 1988.2C1415.1 1983.2 1416.1 1974.2 1416.8 1974.9C1417.4 1975.6 1419.1 1993.2 1419.7 1994.4C1420.3 1995.7 1421.4 1980.1 1421.9 1985.2C1422.5 1990.4 1423.9 2032.2 1424.5 2038.7C1425.1 2045.1 1426.4 2040.1 1427.1 2040.5C1427.7 2041.0 1429.4 2046.9 1430.0 2042.4C1430.6 2037.9 1431.7 2004.2 1432.2 2001.8C1432.8 1999.5 1433.9 2019.8 1434.4 2022.1C1435.0 2024.4 1436.1 2013.4 1436.7 2021.4C1437.2 2029.3 1438.6 2088.1 1439.2 2090.3C1439.8 2092.5 1441.3 2040.8 1441.8 2039.8C1442.4 2038.8 1443.5 2081.9 1444.0 2081.8C1444.6 2081.7 1445.9 2038.4 1446.6 2038.7C1447.3 2038.9 1449.4 2084.2 1450.3 2084.0C1451.2 2083.8 1453.1 2036.5 1454.0 2036.8C1454.8 2037.1 1456.9 2083.1 1457.7 2086.6C1458.4 2090.1 1459.6 2064.9 1460.3 2067.1C1460.9 2069.2 1462.5 2104.1 1463.2 2105.0C1463.9 2106.0 1465.5 2082.2 1466.2 2075.6C1466.8 2068.9 1468.1 2047.9 1468.7 2047.9C1469.4 2047.9 1471.0 2080.9 1471.7 2075.6C1472.3 2070.2 1473.6 2010.9 1474.3 2001.8C1474.9 1992.8 1476.6 2001.1 1477.2 1998.1C1477.8 1995.1 1478.7 1973.9 1479.4 1976.0C1480.2 1978.2 1482.7 2018.2 1483.5 2016.6C1484.3 2015.0 1485.7 1960.4 1486.4 1962.4C1487.2 1964.3 1488.9 2029.5 1489.7 2033.2C1490.6 2036.8 1492.7 1996.0 1493.4 1993.3C1494.2 1990.7 1495.8 2010.3 1496.4 2010.3C1497.0 2010.3 1498.1 2000.6 1498.6 1993.3C1499.1 1986.1 1499.9 1949.7 1500.4 1948.4C1501.0 1947.0 1502.4 1980.3 1503.0 1981.5C1503.6 1982.8 1505.0 1959.4 1505.6 1959.4C1506.2 1959.4 1507.5 1979.0 1508.2 1981.5C1508.8 1984.1 1510.4 1977.2 1511.1 1981.5C1511.8 1985.8 1513.4 2016.5 1514.1 2018.4C1514.7 2020.3 1516.1 1996.6 1516.7 1998.1C1517.3 1999.6 1518.7 2029.6 1519.2 2031.3C1519.8 2033.0 1520.8 2011.6 1521.5 2012.9C1522.1 2014.2 1523.8 2046.0 1524.4 2042.4C1525.0 2038.7 1526.1 1999.7 1526.6 1981.5C1527.1 1963.4 1527.8 1886.1 1528.5 1886.4C1529.1 1886.8 1531.7 1980.1 1532.5 1984.5C1533.3 1988.9 1534.5 1934.4 1535.1 1924.4C1535.7 1914.4 1537.0 1896.7 1537.7 1898.6C1538.3 1900.4 1539.9 1935.5 1540.6 1940.3C1541.3 1945.0 1542.8 1930.7 1543.6 1939.1C1544.3 1947.6 1546.1 2011.9 1546.9 2012.9C1547.7 2013.9 1549.3 1948.1 1550.2 1947.6C1551.1 1947.2 1553.5 2007.7 1554.3 2009.2C1555.0 2010.7 1555.9 1966.4 1556.5 1960.2C1557.0 1953.9 1558.5 1962.7 1559.1 1955.7C1559.6 1948.8 1560.4 1913.0 1560.9 1900.4C1561.4 1887.9 1562.8 1848.9 1563.5 1848.1C1564.1 1847.2 1565.8 1882.0 1566.4 1893.1C1567.1 1904.1 1568.4 1939.9 1569.0 1942.8C1569.7 1945.8 1571.3 1912.1 1572.0 1918.1C1572.6 1924.2 1573.9 1987.9 1574.5 1994.4C1575.2 2001.0 1576.8 1983.0 1577.5 1974.2C1578.1 1965.4 1579.5 1935.3 1580.1 1918.9C1580.6 1902.4 1581.6 1831.5 1582.3 1833.3C1583.0 1835.1 1585.2 1927.9 1586.0 1934.4C1586.7 1940.8 1588.2 1885.2 1588.9 1888.6C1589.6 1892.1 1591.5 1958.6 1592.2 1963.8C1593.0 1969.1 1594.5 1933.1 1595.2 1933.6C1595.8 1934.2 1597.2 1969.1 1597.8 1968.6C1598.3 1968.2 1599.1 1934.7 1599.6 1929.9C1600.1 1925.2 1601.3 1939.3 1601.8 1928.1C1602.4 1916.9 1603.7 1838.6 1604.4 1834.1C1605.1 1829.6 1607.0 1885.5 1607.7 1889.4C1608.5 1893.2 1609.9 1860.2 1610.7 1867.3C1611.4 1874.4 1613.6 1960.5 1614.4 1950.2C1615.1 1939.9 1616.6 1785.9 1617.3 1778.8C1618.0 1771.7 1619.7 1877.1 1620.3 1889.4C1620.9 1901.6 1621.9 1877.2 1622.5 1883.8C1623.1 1890.5 1624.8 1945.9 1625.4 1946.5C1626.1 1947.2 1627.5 1897.0 1628.0 1889.4C1628.5 1881.8 1629.3 1885.1 1629.8 1881.3C1630.4 1877.4 1632.2 1859.1 1632.8 1856.2C1633.4 1853.3 1634.5 1845.2 1635.0 1856.2C1635.5 1867.2 1636.3 1945.9 1636.8 1950.2C1637.4 1954.5 1638.8 1906.4 1639.4 1893.1C1640.1 1879.7 1641.8 1840.7 1642.4 1835.9C1643.0 1831.2 1644.0 1839.6 1644.6 1852.5C1645.1 1865.4 1646.6 1941.8 1647.2 1946.5C1647.8 1951.3 1649.1 1904.0 1649.7 1893.1C1650.3 1882.1 1651.7 1856.0 1652.3 1852.5C1653.0 1849.0 1654.6 1867.1 1655.3 1862.8C1655.9 1858.5 1657.1 1818.1 1657.9 1815.6C1658.6 1813.2 1660.8 1846.2 1661.5 1841.5C1662.3 1836.7 1663.8 1789.1 1664.5 1775.1C1665.2 1761.1 1666.7 1714.3 1667.4 1721.6C1668.2 1728.9 1670.4 1828.1 1671.1 1837.8C1671.9 1847.4 1673.3 1810.8 1674.1 1804.6C1674.9 1798.3 1677.4 1786.0 1678.1 1784.3C1678.8 1782.6 1679.4 1791.1 1680.0 1789.8C1680.5 1788.5 1682.2 1768.5 1682.9 1773.2C1683.6 1778.0 1685.2 1825.7 1685.9 1830.4C1686.6 1835.1 1688.2 1811.2 1688.8 1813.8C1689.5 1816.4 1690.8 1848.9 1691.4 1852.5C1692.0 1856.2 1693.4 1844.9 1694.0 1845.1C1694.5 1845.4 1695.7 1846.4 1696.2 1854.4C1696.7 1862.3 1697.8 1912.9 1698.4 1913.3C1699.0 1913.8 1700.6 1860.4 1701.4 1858.0C1702.1 1855.7 1704.3 1894.7 1705.0 1893.1C1705.8 1891.5 1707.3 1845.7 1708.0 1844.4C1708.7 1843.1 1710.6 1881.3 1711.3 1882.0C1712.0 1882.7 1713.5 1850.9 1714.3 1850.7C1715.0 1850.5 1716.9 1883.4 1717.6 1880.2C1718.2 1876.9 1719.3 1831.8 1719.8 1823.0C1720.3 1814.2 1721.3 1805.4 1722.0 1804.6C1722.7 1803.7 1725.0 1813.4 1725.7 1815.6C1726.4 1817.9 1727.4 1817.8 1727.9 1823.8C1728.4 1829.7 1729.5 1868.0 1730.1 1866.5C1730.7 1865.1 1732.5 1819.7 1733.1 1811.2C1733.6 1802.8 1733.9 1797.6 1734.5 1794.3C1735.1 1790.9 1737.4 1777.8 1738.2 1782.5C1739.1 1787.1 1741.2 1831.1 1741.9 1834.1C1742.6 1837.1 1743.6 1814.9 1744.1 1808.3C1744.7 1801.6 1746.1 1772.8 1746.7 1776.9C1747.3 1781.0 1748.7 1839.6 1749.3 1843.3C1749.9 1847.0 1751.2 1807.5 1751.9 1808.3C1752.5 1809.0 1754.2 1849.8 1754.8 1849.6C1755.5 1849.3 1756.8 1804.5 1757.4 1806.4C1758.0 1808.4 1759.6 1867.2 1760.3 1866.5C1761.1 1865.9 1763.3 1803.4 1764.0 1800.9C1764.8 1798.4 1766.3 1842.8 1767.0 1845.1C1767.6 1847.5 1769.0 1824.2 1769.6 1821.2C1770.2 1818.2 1771.5 1814.6 1772.1 1819.3C1772.8 1824.1 1774.7 1861.7 1775.5 1861.7C1776.2 1861.7 1778.0 1823.6 1778.8 1819.3C1779.5 1815.0 1781.0 1824.4 1781.7 1824.9C1782.5 1825.3 1784.4 1818.9 1785.0 1823.0C1785.7 1827.1 1786.7 1851.1 1787.3 1859.9C1787.8 1868.7 1789.3 1891.7 1789.8 1898.6C1790.4 1905.5 1791.1 1919.5 1791.7 1918.9C1792.2 1918.2 1794.0 1895.6 1794.6 1893.1C1795.3 1890.6 1796.6 1892.5 1797.2 1897.5C1797.8 1902.4 1799.1 1930.7 1799.8 1935.5C1800.4 1940.2 1802.1 1937.6 1802.7 1938.0C1803.4 1938.5 1804.7 1947.6 1805.3 1939.1C1806.0 1930.7 1807.5 1864.7 1808.3 1865.4C1809.0 1866.1 1811.2 1940.3 1812.0 1945.4C1812.7 1950.6 1814.2 1913.8 1814.9 1909.7C1815.6 1905.5 1817.1 1912.2 1817.9 1909.7C1818.6 1907.1 1820.9 1883.9 1821.5 1887.5C1822.2 1891.2 1823.2 1941.5 1823.8 1941.0C1824.4 1940.4 1826.1 1881.5 1826.7 1882.7C1827.4 1884.0 1828.6 1945.9 1829.3 1952.1C1829.9 1958.2 1831.6 1930.5 1832.2 1935.5C1832.8 1940.4 1833.8 1993.0 1834.4 1994.4C1835.0 1995.9 1836.8 1944.6 1837.4 1947.6C1838.0 1950.6 1839.1 2007.0 1839.6 2020.3C1840.1 2033.5 1840.9 2061.5 1841.5 2060.8C1842.0 2060.2 1843.4 2022.7 1844.0 2014.7C1844.7 2006.8 1846.3 1990.9 1847.0 1992.6C1847.7 1994.3 1849.3 2026.9 1849.9 2029.5C1850.6 2032.1 1852.0 2013.0 1852.5 2014.7C1853.1 2016.4 1854.1 2035.2 1854.7 2044.2C1855.3 2053.2 1856.9 2087.6 1857.7 2092.1C1858.4 2096.7 1860.7 2083.1 1861.4 2082.9C1862.0 2082.7 1863.0 2087.9 1863.6 2090.3C1864.2 2092.7 1865.8 2107.4 1866.5 2103.2C1867.2 2099.0 1868.7 2053.5 1869.5 2054.5C1870.2 2055.6 1872.0 2107.1 1872.8 2112.4C1873.6 2117.8 1875.5 2105.4 1876.5 2100.3C1877.5 2095.1 1880.3 2067.8 1881.3 2068.2C1882.2 2068.5 1883.9 2103.6 1884.6 2103.2C1885.3 2102.8 1886.6 2067.5 1887.2 2064.5C1887.7 2061.5 1888.8 2082.3 1889.4 2077.4C1890.0 2072.5 1891.6 2022.2 1892.3 2022.8C1893.1 2023.5 1895.3 2079.6 1896.0 2082.9C1896.7 2086.3 1897.6 2049.0 1898.2 2051.6C1898.8 2054.2 1900.5 2103.5 1901.2 2105.0C1901.9 2106.6 1903.4 2064.8 1904.1 2064.5C1904.8 2064.2 1906.4 2103.3 1907.1 2102.5C1907.7 2101.6 1909.0 2060.5 1909.7 2057.1C1910.3 2053.8 1912.2 2075.2 1913.0 2073.7C1913.7 2072.2 1915.1 2042.7 1915.9 2044.2C1916.7 2045.7 1918.8 2087.5 1919.6 2086.6C1920.4 2085.8 1921.8 2036.1 1922.6 2036.8C1923.3 2037.6 1925.5 2096.2 1926.2 2092.9C1927.0 2089.5 1928.3 2016.0 1929.2 2008.1C1930.1 2000.2 1932.6 2026.6 1933.6 2025.0C1934.6 2023.5 1936.8 1994.7 1938.0 1994.4C1939.2 1994.2 1942.9 2020.9 1943.9 2022.8C1945.0 2024.8 1946.3 2016.7 1946.9 2011.0C1947.5 2005.4 1948.5 1979.0 1949.1 1974.2C1949.7 1969.4 1951.4 1974.8 1952.1 1969.7C1952.7 1964.7 1953.9 1932.0 1954.6 1930.7C1955.3 1929.4 1957.2 1954.9 1957.9 1958.7C1958.7 1962.5 1960.5 1967.5 1961.3 1963.1C1962.0 1958.7 1963.5 1924.8 1964.2 1920.7C1964.9 1916.6 1966.8 1932.3 1967.5 1928.1C1968.3 1923.9 1969.7 1886.5 1970.5 1885.0C1971.3 1883.4 1973.4 1916.2 1974.2 1915.2C1974.9 1914.2 1976.4 1878.3 1977.1 1876.5C1977.8 1874.7 1979.3 1901.0 1980.1 1899.7C1980.8 1898.4 1982.6 1869.4 1983.4 1865.4C1984.2 1861.4 1986.3 1869.3 1987.1 1865.4C1987.8 1861.5 1989.1 1835.9 1989.7 1832.2C1990.2 1828.6 1991.4 1835.4 1991.9 1834.1C1992.4 1832.8 1993.6 1817.5 1994.1 1821.2C1994.6 1824.8 1995.6 1866.9 1996.3 1865.4C1997.0 1863.9 1999.2 1808.1 2000.0 1808.3C2000.8 1808.5 2002.1 1863.9 2002.9 1867.3C2003.8 1870.6 2006.4 1834.7 2007.4 1837.0C2008.3 1839.4 2010.4 1882.4 2011.0 1887.5C2011.7 1892.7 2012.2 1875.4 2012.9 1881.3C2013.6 1887.2 2015.9 1936.8 2016.9 1938.0C2017.9 1939.3 2020.5 1894.8 2021.4 1892.3C2022.3 1889.9 2023.8 1915.1 2024.7 1917.0C2025.5 1918.9 2027.7 1906.3 2028.7 1908.5C2029.7 1910.8 2032.0 1933.6 2033.2 1936.6C2034.3 1939.6 2037.7 1936.1 2038.7 1934.4C2039.6 1932.6 2040.7 1921.0 2041.3 1921.8C2041.8 1922.6 2042.9 1942.1 2043.5 1941.0C2044.0 1939.9 2045.3 1912.3 2046.1 1912.2C2046.8 1912.1 2049.0 1940.8 2049.7 1940.3C2050.5 1939.7 2052.1 1910.4 2052.7 1907.8C2053.3 1905.2 2054.7 1921.1 2055.3 1918.1C2055.9 1915.1 2057.2 1878.0 2057.9 1882.0C2058.5 1886.0 2060.2 1948.8 2060.8 1952.8C2061.5 1956.7 2062.7 1913.1 2063.4 1915.9C2064.0 1918.8 2065.6 1974.4 2066.3 1977.1C2067.1 1979.8 2069.3 1940.9 2070.0 1939.1C2070.7 1937.4 2071.6 1963.4 2072.2 1962.4C2072.8 1961.4 2074.5 1928.6 2075.2 1930.7C2075.8 1932.7 2077.1 1976.9 2077.8 1979.7C2078.4 1982.5 2080.1 1951.0 2080.7 1955.0C2081.4 1959.0 2082.6 2011.7 2083.3 2014.0C2084.0 2016.2 2085.8 1982.2 2086.6 1974.2C2087.4 1966.2 2089.5 1943.6 2090.3 1945.4C2091.1 1947.2 2092.5 1983.3 2093.2 1989.7C2094.0 1996.0 2095.9 2000.7 2096.6 2000.0C2097.2 1999.2 2098.2 1982.9 2098.8 1983.4C2099.3 1983.9 2100.8 2006.0 2101.4 2004.4C2102.0 2002.8 2103.3 1971.6 2103.9 1969.7C2104.6 1967.9 2106.1 1986.3 2106.9 1988.9C2107.7 1991.5 2109.7 1997.0 2110.6 1991.9C2111.4 1986.7 2113.5 1951.0 2114.3 1944.7C2115.0 1938.3 2116.5 1940.5 2117.2 1937.3C2117.9 1934.1 2119.4 1914.0 2120.2 1917.0C2120.9 1920.0 2122.8 1960.7 2123.5 1963.1C2124.2 1965.5 2125.2 1945.0 2126.1 1937.3C2126.9 1929.6 2129.9 1897.3 2130.9 1896.8C2131.8 1896.2 2133.3 1929.2 2134.2 1932.9C2135.1 1936.5 2137.8 1931.5 2138.6 1928.1C2139.4 1924.6 2140.2 1911.8 2140.8 1903.4C2141.4 1895.0 2143.2 1863.0 2143.8 1856.2C2144.3 1849.4 2145.2 1845.1 2145.6 1845.1C2146.0 1845.1 2147.0 1857.3 2147.4 1856.2C2147.9 1855.1 2149.1 1838.2 2149.7 1835.9C2150.2 1833.7 2151.5 1843.0 2152.2 1837.0C2152.9 1831.0 2154.9 1790.7 2155.6 1784.3C2156.2 1777.9 2157.2 1779.7 2157.8 1782.5C2158.3 1785.3 2159.5 1809.1 2160.0 1808.3C2160.5 1807.4 2161.6 1777.8 2162.2 1775.1C2162.8 1772.4 2164.5 1790.4 2165.1 1785.4C2165.7 1780.5 2166.7 1738.8 2167.4 1732.7C2168.0 1726.5 2169.6 1730.3 2170.3 1732.7C2171.0 1735.1 2172.5 1751.9 2173.2 1753.0C2174.0 1754.0 2176.2 1747.3 2176.9 1741.9C2177.7 1736.5 2179.1 1703.9 2179.9 1706.9C2180.7 1709.9 2182.8 1766.1 2183.6 1767.7C2184.3 1769.3 2185.8 1719.8 2186.5 1720.5C2187.2 1721.3 2188.8 1772.2 2189.5 1774.4C2190.2 1776.5 2191.7 1738.7 2192.4 1739.0C2193.1 1739.3 2194.5 1774.7 2195.4 1776.9C2196.2 1779.2 2198.8 1763.5 2199.8 1758.5C2200.7 1753.5 2202.6 1729.3 2203.5 1733.8C2204.4 1738.3 2206.7 1796.3 2207.5 1797.2C2208.4 1798.2 2210.1 1743.6 2210.9 1741.9C2211.6 1740.2 2213.1 1783.1 2213.8 1782.5C2214.5 1781.8 2215.9 1733.2 2216.8 1736.4C2217.6 1739.6 2220.3 1806.7 2221.2 1810.1C2222.0 1813.6 2223.4 1768.0 2224.1 1765.9C2224.8 1763.7 2226.4 1791.0 2227.1 1791.7C2227.8 1792.3 2229.0 1767.1 2230.0 1771.4C2231.1 1775.7 2234.8 1826.6 2235.9 1828.5C2237.0 1830.5 2238.8 1792.9 2239.6 1788.0C2240.4 1783.0 2241.9 1785.5 2242.6 1786.2C2243.2 1786.8 2244.4 1787.7 2245.1 1793.5C2245.9 1799.3 2248.1 1831.2 2248.8 1835.9C2249.6 1840.7 2250.8 1827.8 2251.4 1834.1C2252.1 1840.3 2253.7 1887.0 2254.4 1889.4C2255.0 1891.7 2256.5 1851.3 2257.3 1854.4C2258.1 1857.4 2260.0 1913.2 2261.0 1915.2C2261.9 1917.1 2264.6 1873.0 2265.4 1870.9C2266.3 1868.9 2267.7 1893.8 2268.4 1897.5C2269.1 1901.1 2270.5 1900.9 2271.3 1902.3C2272.1 1903.7 2274.4 1905.4 2275.0 1909.7C2275.6 1914.0 2276.4 1931.4 2276.8 1939.1C2277.3 1946.9 2278.1 1973.6 2278.7 1976.0C2279.2 1978.5 2281.0 1959.9 2281.6 1960.2C2282.3 1960.4 2283.6 1973.2 2284.2 1977.9C2284.9 1982.5 2286.5 1992.9 2287.2 2000.0C2287.8 2007.1 2289.0 2038.7 2289.7 2038.7C2290.5 2038.7 2292.7 2000.4 2293.4 2000.0C2294.2 1999.5 2295.5 2033.7 2296.0 2035.0C2296.6 2036.3 2297.7 2010.3 2298.2 2011.0C2298.8 2011.8 2300.1 2042.3 2300.8 2041.3C2301.5 2040.2 2303.8 2002.6 2304.5 2001.8C2305.2 2001.1 2306.3 2030.5 2307.1 2035.0C2307.8 2039.5 2310.0 2041.8 2310.8 2040.5C2311.5 2039.2 2313.0 2023.7 2313.7 2023.9C2314.4 2024.2 2315.9 2036.2 2316.7 2042.4C2317.4 2048.5 2319.2 2073.0 2320.0 2076.7C2320.8 2080.3 2322.9 2074.4 2323.7 2073.7C2324.4 2073.0 2325.9 2074.2 2326.6 2070.8C2327.3 2067.3 2328.9 2048.4 2329.6 2044.2C2330.3 2040.0 2331.8 2034.1 2332.5 2035.0C2333.2 2035.9 2334.9 2047.8 2335.5 2051.6C2336.1 2055.3 2337.0 2065.3 2337.7 2067.1C2338.4 2068.9 2340.6 2070.1 2341.4 2067.1C2342.1 2064.1 2343.4 2045.2 2343.9 2041.3C2344.5 2037.3 2345.6 2037.6 2346.2 2033.2C2346.7 2028.7 2348.1 2003.4 2348.7 2002.9C2349.4 2002.5 2351.1 2028.9 2351.7 2029.5C2352.3 2030.1 2353.3 2009.2 2353.9 2008.1C2354.5 2007.0 2355.9 2020.8 2356.5 2020.3C2357.0 2019.7 2358.2 2011.0 2358.7 2003.7C2359.2 1996.4 2360.3 1957.6 2360.9 1957.6C2361.5 1957.6 2363.2 1999.8 2363.8 2003.7C2364.5 2007.5 2365.8 1990.2 2366.4 1990.8C2367.0 1991.3 2368.4 2010.5 2369.0 2008.1C2369.6 2005.6 2370.9 1971.1 2371.6 1969.7C2372.2 1968.4 2373.9 2000.3 2374.5 1996.3C2375.2 1992.3 2376.7 1937.8 2377.5 1935.5C2378.3 1933.1 2380.4 1974.0 2381.2 1976.0C2381.9 1978.0 2383.4 1953.0 2384.1 1952.8C2384.9 1952.6 2386.9 1972.3 2387.8 1974.2C2388.8 1976.0 2391.3 1968.6 2392.2 1968.6C2393.2 1968.7 2395.2 1975.8 2395.9 1974.9C2396.7 1974.0 2397.9 1961.3 2398.5 1961.3C2399.1 1961.3 2400.4 1976.1 2401.1 1974.9C2401.7 1973.7 2403.3 1953.3 2404.0 1951.3C2404.8 1949.3 2406.9 1959.6 2407.7 1957.6C2408.5 1955.6 2409.9 1932.3 2410.7 1934.4C2411.4 1936.4 2413.5 1973.8 2414.4 1974.9C2415.2 1976.0 2417.3 1945.7 2418.0 1943.9C2418.8 1942.1 2420.3 1957.4 2421.0 1959.4C2421.7 1961.4 2423.6 1962.8 2424.3 1961.3C2425.0 1959.8 2426.4 1951.7 2426.9 1946.5C2427.4 1941.4 2428.2 1915.5 2428.7 1917.0C2429.3 1918.5 2430.9 1951.6 2431.7 1959.4C2432.5 1967.3 2434.5 1987.9 2435.4 1984.5C2436.2 1981.1 2438.3 1933.7 2439.1 1929.9C2439.8 1926.1 2440.9 1954.8 2441.6 1952.1C2442.4 1949.3 2444.5 1907.2 2445.3 1906.0C2446.2 1904.8 2448.2 1937.9 2449.0 1941.7C2449.8 1945.6 2451.4 1939.6 2452.0 1939.1C2452.6 1938.7 2453.5 1936.9 2454.2 1938.0C2454.8 1939.2 2456.8 1950.7 2457.5 1949.1C2458.2 1947.5 2459.3 1922.4 2460.1 1924.4C2460.8 1926.4 2463.4 1965.2 2464.1 1966.1C2464.9 1966.9 2466.0 1932.9 2466.7 1931.8C2467.4 1930.7 2469.6 1957.5 2470.4 1956.5C2471.2 1955.4 2472.7 1928.6 2473.3 1922.6C2474.0 1916.5 2475.2 1902.1 2475.9 1904.9C2476.7 1907.7 2478.9 1945.8 2479.6 1946.5C2480.3 1947.2 2481.5 1916.8 2482.2 1910.8C2482.8 1904.7 2484.6 1897.2 2485.1 1894.9C2485.7 1892.6 2486.5 1889.6 2487.0 1891.2C2487.5 1892.8 2488.9 1907.1 2489.6 1908.5C2490.2 1910.0 2491.8 1900.7 2492.5 1903.4C2493.2 1906.1 2494.8 1925.8 2495.5 1931.8C2496.1 1937.8 2497.5 1956.6 2498.4 1955.0C2499.3 1953.4 2501.8 1918.7 2502.8 1918.1C2503.9 1917.6 2506.4 1947.6 2507.3 1950.2C2508.1 1952.8 2509.4 1941.5 2510.2 1940.3C2511.0 1939.0 2513.2 1942.8 2513.9 1939.1C2514.6 1935.4 2515.6 1909.3 2516.5 1908.5C2517.3 1907.8 2520.4 1925.9 2521.3 1932.9C2522.1 1939.9 2523.2 1966.7 2523.8 1968.6C2524.5 1970.5 2526.4 1948.4 2527.2 1949.1C2527.9 1949.8 2529.4 1971.3 2530.1 1974.9C2530.8 1978.5 2532.5 1980.9 2533.1 1979.7C2533.7 1978.5 2534.7 1966.9 2535.3 1965.0C2535.9 1963.0 2537.5 1961.1 2538.2 1963.1C2538.9 1965.1 2540.5 1980.1 2541.2 1982.3C2541.9 1984.4 2543.5 1978.7 2544.1 1981.5C2544.8 1984.4 2546.1 2007.0 2546.7 2006.6C2547.4 2006.2 2548.9 1977.4 2549.7 1977.9C2550.4 1978.3 2552.6 2009.8 2553.3 2010.3C2554.1 2010.8 2555.3 1982.5 2555.9 1982.3C2556.6 1982.0 2558.2 2008.4 2558.9 2008.1C2559.6 2007.8 2561.1 1979.6 2561.8 1979.7C2562.5 1979.8 2564.1 2006.0 2564.8 2009.2C2565.5 2012.4 2567.0 2006.9 2567.7 2007.4C2568.5 2007.8 2570.3 2017.4 2571.0 2012.9C2571.7 2008.4 2572.9 1974.9 2573.6 1968.6C2574.3 1962.4 2576.5 1956.1 2577.3 1959.4C2578.1 1962.7 2579.8 2001.1 2580.6 1997.0C2581.4 1992.9 2583.1 1929.0 2583.9 1924.4C2584.8 1919.8 2586.9 1956.9 2587.6 1957.6C2588.4 1958.2 2590.0 1929.8 2590.6 1929.9C2591.2 1930.1 2592.3 1959.8 2592.8 1958.7C2593.3 1957.6 2594.3 1924.1 2595.0 1920.7C2595.7 1917.4 2597.9 1933.6 2598.7 1929.9C2599.5 1926.3 2600.8 1894.3 2601.6 1889.4C2602.5 1884.4 2605.2 1886.0 2606.1 1887.5C2606.9 1889.0 2608.4 1903.6 2609.0 1902.3C2609.7 1901.0 2611.0 1878.3 2611.6 1876.5C2612.2 1874.6 2613.5 1889.1 2614.2 1886.4C2614.8 1883.7 2616.5 1857.6 2617.1 1853.2C2617.8 1848.9 2619.1 1848.3 2619.7 1848.8C2620.3 1849.4 2621.6 1858.4 2622.3 1858.0C2622.9 1857.7 2624.6 1850.0 2625.2 1845.9C2625.9 1841.8 2627.3 1825.0 2627.8 1823.0C2628.4 1821.0 2629.4 1832.3 2630.0 1828.5C2630.7 1824.8 2632.5 1786.5 2633.3 1790.6C2634.2 1794.7 2636.5 1856.4 2637.4 1863.6C2638.3 1870.7 2640.4 1852.0 2641.1 1851.8C2641.8 1851.6 2643.0 1861.1 2643.7 1861.7C2644.3 1862.3 2645.8 1858.5 2646.6 1856.9C2647.4 1855.3 2649.6 1848.0 2650.3 1848.1C2651.0 1848.2 2652.2 1859.9 2652.9 1858.0C2653.6 1856.2 2655.3 1831.5 2656.2 1832.2C2657.1 1833.0 2659.6 1862.2 2660.6 1864.3C2661.7 1866.5 2664.1 1850.5 2665.0 1850.7C2665.9 1850.8 2667.6 1867.4 2668.4 1865.4C2669.1 1863.5 2670.6 1842.1 2671.3 1834.1C2672.0 1826.0 2673.5 1796.6 2674.3 1796.5C2675.0 1796.4 2676.8 1830.2 2677.6 1833.3C2678.3 1836.4 2679.8 1825.9 2680.5 1823.0C2681.2 1820.1 2682.8 1814.8 2683.5 1808.3C2684.1 1801.7 2685.3 1769.2 2686.1 1767.0C2686.8 1764.7 2689.0 1791.1 2689.7 1789.1C2690.5 1787.1 2691.6 1752.1 2692.3 1750.0C2693.1 1748.0 2695.1 1772.1 2696.0 1771.4C2696.9 1770.7 2699.2 1744.0 2700.1 1743.8C2700.9 1743.5 2702.7 1768.5 2703.4 1769.6C2704.1 1770.6 2705.6 1753.8 2706.3 1753.0C2707.1 1752.1 2709.3 1757.2 2710.0 1762.2C2710.7 1767.1 2711.7 1790.1 2712.2 1795.4C2712.8 1800.7 2713.8 1805.8 2714.4 1807.5C2715.0 1809.3 2716.6 1812.7 2717.4 1810.1C2718.2 1807.5 2720.3 1785.8 2721.1 1785.4C2721.9 1785.0 2723.3 1802.5 2724.0 1806.4C2724.7 1810.4 2726.3 1814.2 2727.0 1819.3C2727.6 1824.5 2729.0 1849.9 2729.6 1850.7C2730.2 1851.4 2731.5 1827.0 2732.1 1826.0C2732.8 1825.0 2734.3 1837.9 2735.1 1842.2C2735.9 1846.5 2738.0 1859.8 2738.8 1862.8C2739.6 1865.8 2741.1 1867.7 2741.7 1868.0C2742.3 1868.3 2743.4 1863.4 2743.9 1865.4C2744.5 1867.5 2745.5 1886.3 2746.2 1885.7C2746.8 1885.1 2748.7 1856.1 2749.5 1860.6C2750.2 1865.1 2752.1 1918.3 2752.8 1924.4C2753.5 1930.6 2755.0 1909.9 2755.7 1913.3C2756.4 1916.8 2758.1 1948.0 2758.7 1953.9C2759.3 1959.8 2760.3 1962.4 2760.9 1963.8C2761.5 1965.3 2762.9 1966.9 2763.5 1966.1C2764.1 1965.2 2765.3 1958.0 2766.1 1956.5C2766.8 1954.9 2769.0 1948.8 2769.7 1952.8C2770.5 1956.8 2772.1 1985.9 2772.7 1990.8C2773.3 1995.6 2774.3 1992.5 2774.9 1994.4C2775.5 1996.4 2776.8 2008.9 2777.5 2007.4C2778.2 2005.8 2780.1 1984.2 2780.8 1980.8C2781.5 1977.5 2783.1 1979.7 2783.8 1978.6C2784.4 1977.5 2785.7 1970.0 2786.3 1971.2C2786.9 1972.4 2788.1 1989.1 2788.9 1988.9C2789.7 1988.7 2792.1 1970.0 2793.0 1969.7C2793.9 1969.5 2795.8 1985.7 2796.7 1987.1C2797.5 1988.5 2799.6 1982.4 2800.3 1981.5C2801.1 1980.7 2802.4 1982.9 2802.9 1979.7C2803.5 1976.5 2804.5 1953.8 2805.1 1953.9C2805.8 1954.0 2807.6 1980.8 2808.5 1980.8C2809.3 1980.8 2811.6 1954.2 2812.5 1953.9C2813.4 1953.5 2815.4 1976.0 2816.2 1977.9C2817.0 1979.7 2818.5 1968.7 2819.1 1969.7C2819.8 1970.8 2821.1 1987.2 2821.7 1987.1C2822.3 1986.9 2823.6 1971.7 2824.3 1968.6C2825.0 1965.6 2827.2 1959.8 2828.0 1961.3C2828.8 1962.8 2830.2 1976.4 2830.9 1981.5C2831.7 1986.7 2833.5 2004.0 2834.3 2005.5C2835.0 2007.0 2836.5 1993.8 2837.2 1994.4C2837.9 1995.1 2839.4 2007.6 2840.2 2011.0C2840.9 2014.5 2842.8 2019.0 2843.5 2023.9C2844.1 2028.9 2845.1 2048.9 2845.7 2053.4C2846.3 2057.9 2848.0 2062.0 2848.6 2062.6C2849.2 2063.3 2850.1 2058.4 2850.9 2059.0C2851.6 2059.5 2854.0 2068.3 2854.9 2067.1C2855.8 2065.9 2857.5 2046.1 2858.2 2048.6C2859.0 2051.2 2860.4 2084.1 2861.2 2089.2C2861.9 2094.3 2864.2 2092.9 2864.9 2092.1C2865.5 2091.4 2866.6 2087.9 2867.1 2082.9C2867.6 2078.0 2868.6 2051.8 2869.3 2049.7C2870.0 2047.7 2872.1 2064.7 2873.0 2065.6C2873.8 2066.5 2875.8 2059.7 2876.7 2057.1C2877.5 2054.5 2879.6 2045.2 2880.3 2043.5C2881.1 2041.8 2882.6 2045.9 2883.3 2042.4C2883.9 2038.8 2885.2 2011.9 2885.9 2012.9C2886.5 2013.9 2888.1 2047.6 2888.8 2050.9C2889.5 2054.1 2891.0 2041.8 2891.8 2040.5C2892.5 2039.2 2894.4 2043.7 2895.1 2039.8C2895.8 2035.8 2897.3 2010.8 2898.0 2006.6C2898.8 2002.4 2901.0 2004.5 2901.7 2003.7C2902.5 2002.8 2903.7 1998.4 2904.3 1999.2C2904.9 2000.1 2906.3 2013.3 2906.9 2011.0C2907.4 2008.8 2908.6 1983.6 2909.1 1979.7C2909.6 1975.8 2910.9 1982.7 2911.3 1977.9C2911.7 1973.0 2912.4 1938.3 2912.8 1938.0C2913.2 1937.8 2914.5 1976.3 2915.0 1976.0C2915.5 1975.7 2916.4 1940.8 2916.8 1935.5C2917.3 1930.1 2918.2 1935.7 2918.7 1929.9C2919.2 1924.1 2920.3 1891.6 2920.9 1885.7C2921.5 1879.8 2923.2 1877.7 2923.8 1879.1C2924.5 1880.4 2925.7 1901.0 2926.4 1897.5C2927.1 1894.0 2928.9 1852.4 2929.7 1848.8C2930.6 1845.3 2932.7 1863.7 2933.4 1867.3C2934.2 1870.8 2935.7 1880.3 2936.4 1879.1C2937.1 1877.8 2938.6 1857.4 2939.3 1856.2C2940.0 1855.0 2941.7 1869.0 2942.3 1869.1C2942.9 1869.2 2943.8 1858.0 2944.5 1856.9C2945.2 1855.9 2947.4 1856.3 2948.2 1859.9C2948.9 1863.5 2950.0 1882.6 2950.8 1887.5C2951.5 1892.5 2953.8 1900.9 2954.4 1902.3C2955.1 1903.7 2956.1 1897.8 2956.7 1899.7C2957.2 1901.6 2958.6 1918.9 2959.2 1918.9C2959.9 1918.9 2961.4 1902.1 2962.2 1899.7C2963.0 1897.3 2965.0 1902.0 2965.9 1898.6C2966.7 1895.2 2968.8 1873.4 2969.6 1870.2C2970.3 1867.0 2971.5 1871.4 2972.1 1870.9C2972.8 1870.5 2974.6 1862.0 2975.5 1866.5C2976.3 1871.0 2978.5 1904.8 2979.5 1909.7C2980.5 1914.6 2983.4 1913.1 2984.3 1908.5C2985.2 1904.0 2986.2 1877.3 2986.9 1870.9C2987.5 1864.6 2989.1 1855.6 2989.8 1854.4C2990.6 1853.1 2992.5 1859.3 2993.2 1859.9C2993.8 1860.4 2994.7 1857.8 2995.4 1859.1C2996.1 1860.5 2998.2 1871.1 2999.1 1871.7C2999.9 1872.3 3001.9 1859.0 3002.7 1864.3C3003.6 1869.6 3005.2 1910.2 3006.1 1917.0C3006.9 1923.8 3009.3 1923.3 3010.1 1922.6C3010.9 1921.8 3012.5 1911.7 3013.1 1910.8C3013.7 1909.8 3014.7 1916.1 3015.3 1914.4C3015.9 1912.8 3017.5 1898.3 3018.2 1896.8C3018.9 1895.2 3020.5 1898.7 3021.2 1901.2C3021.8 1903.7 3023.0 1916.1 3023.8 1918.1C3024.5 1920.2 3026.6 1923.2 3027.4 1918.9C3028.3 1914.6 3030.0 1881.9 3030.8 1881.3C3031.5 1880.6 3033.2 1909.7 3033.7 1913.3C3034.3 1917.0 3035.0 1908.7 3035.6 1912.2C3036.1 1915.8 3037.9 1940.4 3038.5 1943.9C3039.1 1947.5 3040.4 1944.9 3041.1 1942.8C3041.8 1940.8 3044.0 1926.5 3044.8 1926.2C3045.5 1926.0 3047.1 1937.2 3047.7 1941.0C3048.4 1944.8 3049.7 1958.9 3050.3 1958.7C3050.9 1958.5 3052.6 1941.1 3053.2 1939.1C3053.9 1937.2 3055.6 1945.7 3056.2 1941.7C3056.8 1937.7 3058.0 1907.1 3058.8 1904.9C3059.5 1902.6 3061.7 1922.0 3062.5 1922.6C3063.2 1923.1 3064.6 1912.5 3065.4 1909.7C3066.2 1906.9 3068.2 1898.2 3069.1 1898.6C3070.0 1899.0 3072.0 1910.1 3072.8 1913.3C3073.6 1916.6 3075.0 1924.5 3075.7 1926.2C3076.5 1928.0 3078.4 1930.2 3079.1 1928.1C3079.7 1926.0 3080.8 1911.0 3081.6 1908.5C3082.5 1906.1 3085.5 1904.1 3086.4 1907.1C3087.3 1910.1 3088.7 1932.8 3089.4 1934.4C3090.0 1935.9 3091.2 1920.6 3092.0 1920.7C3092.7 1920.8 3094.9 1936.6 3095.6 1935.5C3096.4 1934.3 3097.5 1913.0 3098.2 1910.8C3098.9 1908.5 3100.9 1916.5 3101.5 1915.9C3102.2 1915.4 3103.5 1907.3 3104.1 1906.0C3104.7 1904.6 3106.1 1905.2 3106.7 1904.1C3107.3 1903.0 3108.6 1898.5 3109.3 1896.8C3109.9 1895.0 3111.6 1894.5 3112.2 1889.4C3112.9 1884.2 3114.2 1855.9 3114.8 1852.5C3115.5 1849.2 3117.1 1860.6 3117.8 1860.6C3118.5 1860.6 3120.1 1853.0 3120.7 1852.5C3121.4 1852.0 3122.7 1855.7 3123.3 1856.2C3123.9 1856.7 3125.2 1860.5 3125.9 1856.9C3126.5 1853.4 3128.0 1827.4 3128.8 1826.0C3129.7 1824.5 3132.4 1845.5 3133.2 1844.4C3134.1 1843.3 3135.5 1820.5 3136.2 1816.4C3136.9 1812.3 3138.4 1809.1 3139.1 1809.0C3139.9 1808.9 3142.1 1815.2 3142.8 1815.6C3143.6 1816.1 3144.8 1811.1 3145.4 1812.7C3146.0 1814.3 3147.3 1828.4 3148.0 1829.7C3148.7 1830.9 3150.8 1820.4 3151.7 1823.8C3152.5 1827.1 3154.6 1855.6 3155.4 1858.0C3156.1 1860.5 3157.6 1846.3 3158.3 1844.4C3159.0 1842.6 3160.6 1841.7 3161.3 1842.2C3162.0 1842.7 3163.5 1849.7 3164.2 1848.8C3164.9 1848.0 3166.4 1838.7 3167.2 1834.8C3167.9 1830.9 3169.8 1815.9 3170.5 1815.6C3171.2 1815.3 3172.5 1830.1 3173.1 1832.2C3173.6 1834.4 3174.8 1831.3 3175.3 1834.1C3175.8 1836.9 3177.0 1851.5 3177.5 1856.2C3178.0 1860.9 3179.1 1872.1 3179.7 1874.6C3180.3 1877.2 3181.5 1878.1 3182.3 1878.3C3183.0 1878.5 3185.2 1876.4 3186.0 1876.5C3186.7 1876.6 3187.9 1880.9 3188.5 1879.1C3189.2 1877.2 3190.8 1858.2 3191.5 1860.6C3192.2 1863.0 3193.8 1896.3 3194.4 1899.7C3195.1 1903.1 3196.8 1887.1 3197.4 1889.4C3198.0 1891.6 3199.1 1913.8 3199.6 1918.9C3200.1 1923.9 3201.2 1933.7 3201.8 1932.9C3202.4 1932.0 3204.0 1914.2 3204.8 1911.5C3205.5 1908.8 3207.4 1909.0 3208.1 1909.7C3208.8 1910.3 3210.1 1916.0 3210.7 1917.0C3211.2 1918.0 3212.3 1916.1 3212.9 1918.1C3213.4 1920.2 3214.7 1932.5 3215.5 1934.4C3216.2 1936.2 3218.7 1935.8 3219.5 1933.6C3220.4 1931.5 3221.9 1917.6 3222.8 1915.9C3223.8 1914.2 3226.8 1915.3 3227.6 1918.9C3228.5 1922.4 3229.6 1941.3 3230.2 1946.5C3230.8 1951.8 3232.1 1963.0 3232.8 1963.8C3233.5 1964.7 3235.7 1954.9 3236.5 1953.9C3237.2 1952.9 3238.7 1953.7 3239.4 1955.0C3240.1 1956.3 3241.6 1963.8 3242.4 1965.0C3243.1 1966.1 3244.9 1962.7 3245.7 1965.0C3246.5 1967.2 3248.2 1987.2 3249.0 1984.5C3249.8 1981.8 3251.6 1947.2 3252.3 1941.7C3253.0 1936.2 3254.2 1939.5 3254.9 1937.3C3255.6 1935.1 3257.8 1921.7 3258.6 1922.6C3259.4 1923.4 3260.9 1942.4 3261.5 1944.7C3262.2 1946.9 3263.8 1940.2 3264.5 1941.7C3265.1 1943.2 3266.5 1955.5 3267.1 1957.6C3267.7 1959.6 3269.1 1958.0 3269.7 1959.4C3270.2 1960.8 3271.2 1969.4 3271.9 1969.7C3272.6 1970.1 3274.6 1963.7 3275.6 1962.4C3276.5 1961.1 3279.0 1960.1 3280.0 1958.7C3280.9 1957.3 3282.6 1951.1 3283.7 1950.2C3284.7 1949.3 3288.2 1948.9 3289.2 1951.3C3290.1 1953.8 3291.1 1969.1 3291.8 1971.2C3292.4 1973.4 3293.9 1966.4 3294.7 1969.7C3295.5 1973.1 3297.6 1995.6 3298.4 2000.0C3299.2 2004.4 3300.7 2004.1 3301.4 2007.4C3302.0 2010.6 3303.4 2022.9 3303.9 2027.6C3304.5 2032.4 3305.1 2047.0 3305.8 2047.9C3306.4 2048.8 3308.7 2034.9 3309.5 2035.0C3310.2 2035.1 3311.4 2051.4 3312.1 2048.6C3312.7 2045.8 3314.6 2011.1 3315.4 2011.0C3316.1 2011.0 3318.1 2042.3 3318.7 2047.9C3319.3 2053.5 3320.1 2057.3 3320.5 2059.0C3321.0 2060.6 3322.2 2060.2 3322.7 2061.9C3323.3 2063.6 3324.4 2071.4 3325.0 2073.7C3325.6 2076.0 3327.2 2082.6 3327.9 2081.8C3328.6 2081.0 3330.2 2068.0 3330.9 2067.1C3331.5 2066.1 3332.8 2073.8 3333.4 2073.7C3334.0 2073.6 3335.2 2064.8 3336.0 2066.3C3336.9 2067.8 3339.9 2086.2 3340.8 2086.6C3341.7 2087.0 3343.0 2072.3 3343.8 2070.0C3344.5 2067.7 3346.3 2064.6 3347.1 2067.1C3347.9 2069.6 3350.0 2090.8 3350.8 2091.4C3351.5 2092.0 3353.1 2077.4 3353.7 2071.9C3354.3 2066.4 3355.4 2050.5 3355.9 2044.2C3356.4 2038.0 3357.6 2022.8 3358.1 2018.4C3358.6 2014.0 3359.8 2006.6 3360.3 2006.6C3360.9 2006.6 3362.2 2018.8 3362.9 2018.4C3363.6 2018.1 3365.5 2004.6 3366.2 2003.7C3367.0 2002.7 3368.6 2010.1 3369.2 2010.3C3369.8 2010.5 3370.8 2004.0 3371.4 2005.5C3372.0 2007.0 3373.6 2022.2 3374.4 2022.8C3375.1 2023.5 3376.9 2012.3 3377.7 2011.0C3378.4 2009.7 3379.9 2016.4 3380.6 2011.8C3381.4 2007.1 3383.1 1974.5 3383.9 1971.2C3384.8 1967.9 3386.9 1983.1 3387.6 1983.4C3388.4 1983.6 3389.8 1974.3 3390.6 1973.4C3391.4 1972.6 3393.3 1977.0 3394.3 1976.0C3395.2 1975.0 3397.7 1963.1 3398.7 1965.0C3399.7 1966.8 3401.9 1990.4 3402.7 1991.9C3403.6 1993.4 3405.2 1979.4 3406.1 1977.9C3406.9 1976.3 3409.0 1978.3 3409.7 1978.6C3410.5 1978.9 3412.1 1985.0 3412.7 1980.8C3413.3 1976.6 3414.8 1948.9 3415.3 1942.8C3415.8 1936.8 3416.6 1929.8 3417.1 1929.2C3417.6 1928.6 3418.8 1939.2 3419.3 1938.0C3419.8 1936.8 3421.0 1922.2 3421.5 1918.9C3422.1 1915.6 3423.2 1914.4 3423.8 1909.7C3424.3 1904.9 3425.8 1885.8 3426.3 1878.3C3426.9 1870.9 3428.1 1849.5 3428.5 1845.9C3429.0 1842.2 3429.9 1844.4 3430.4 1847.0C3430.9 1849.6 3432.5 1869.2 3433.0 1868.0C3433.5 1866.8 3434.3 1841.0 3434.8 1837.0C3435.4 1833.1 3437.1 1838.2 3437.8 1834.1C3438.4 1829.9 3439.7 1804.1 3440.3 1801.6C3441.0 1799.1 3442.5 1813.6 3443.3 1812.7C3444.1 1811.8 3446.1 1792.4 3447.0 1794.3C3447.8 1796.1 3449.9 1827.0 3450.7 1828.5C3451.4 1830.1 3452.6 1810.2 3453.2 1807.5C3453.9 1804.8 3455.5 1806.9 3456.2 1805.3C3456.9 1803.8 3458.3 1792.0 3459.1 1794.3C3460.0 1796.5 3462.3 1824.2 3463.2 1824.9C3464.1 1825.5 3466.0 1803.4 3466.9 1800.2C3467.8 1796.9 3470.1 1796.5 3470.9 1797.2C3471.8 1797.9 3473.6 1805.5 3474.3 1806.4C3475.0 1807.4 3476.2 1803.6 3476.8 1805.3C3477.5 1807.0 3478.9 1819.5 3479.8 1821.2C3480.7 1822.9 3483.7 1822.2 3484.6 1820.1C3485.5 1817.9 3486.8 1805.3 3487.5 1802.7C3488.3 1800.2 3490.0 1800.5 3490.9 1797.9C3491.7 1795.4 3494.0 1780.6 3494.9 1780.6C3495.8 1780.6 3497.5 1796.4 3498.6 1797.9C3499.7 1799.5 3503.0 1793.2 3504.1 1793.5C3505.3 1793.9 3507.6 1800.0 3508.5 1800.9C3509.5 1801.8 3511.4 1801.6 3512.2 1801.6C3513.1 1801.6 3515.1 1799.7 3515.9 1800.9C3516.7 1802.1 3518.0 1811.2 3518.9 1812.0C3519.7 1812.7 3522.3 1808.4 3523.3 1807.5C3524.3 1806.7 3526.9 1803.7 3527.7 1804.6C3528.6 1805.4 3529.9 1813.5 3530.7 1814.9C3531.4 1816.3 3533.6 1815.7 3534.4 1816.4C3535.1 1817.1 3536.7 1818.9 3537.3 1821.2C3537.9 1823.5 3539.3 1835.3 3539.9 1835.9C3540.5 1836.6 3541.8 1826.3 3542.5 1826.7C3543.1 1827.1 3544.6 1839.8 3545.4 1839.6C3546.2 1839.4 3548.4 1825.9 3549.1 1824.9C3549.8 1823.8 3551.1 1829.7 3551.3 1830.4" stroke="#ff0000" stroke-width="6.25" fill="none" stroke-linejoin="round" stroke-linecap="butt"/>
<path d="M355.50 2212.5v15.2M916.50 2212.5v15.2M1477.50 2212.5v15.2M2037.50 2212.5v15.2M2598.50 2212.5v15.2M3159.50 2212.5v15.2M355.5 1639.50h-15.2M355.5 1781.50h-15.2M355.5 1923.50h-15.2M355.5 2065.50h-15.2M355.5 2208.50h-15.2" stroke="#000" stroke-width="3" fill="none"/>
<rect x="355.5" y="1635.5" width="3197.0" height="577.0" fill="none" stroke="#000" stroke-width="3"/>
<g opacity="0.999">
<text transform="translate(1834.47,785.81) scale(1.1208,0.9654)" font-size="58.33">Time (s)</text>
<text transform="translate(164.35,679.41) rotate(-90) scale(1.1281,0.9473)" font-size="58.33">Acceleration (cm/s/s)</text>
<text transform="translate(343.97,721.59) scale(1.0550,1.1013)" font-size="41.67">0</text>
<text transform="translate(891.20,721.61) scale(1.0743,1.0963)" font-size="41.67">10</text>
<text transform="translate(1451.69,721.56) scale(1.1051,1.0854)" font-size="41.67">20</text>
<text transform="translate(2013.31,721.30) scale(1.0745,1.1016)" font-size="41.67">30</text>
<text transform="translate(2574.02,721.74) scale(1.0800,1.0977)" font-size="41.67">40</text>
<text transform="translate(3134.90,721.59) scale(1.0827,1.0915)" font-size="41.67">50</text>
<text transform="translate(201.22,665.73) scale(1.1714,1.1093)" font-size="41.67">−0.04</text>
<text transform="translate(201.23,525.93) scale(1.1648,1.0986)" font-size="41.67">−0.02</text>
<text transform="translate(234.87,386.23) scale(1.1085,1.0876)" font-size="41.67">0.00</text>
<text transform="translate(234.90,246.92) scale(1.0997,1.0985)" font-size="41.67">0.02</text>
<text transform="translate(234.88,107.72) scale(1.1096,1.1090)" font-size="41.67">0.04</text>
<text transform="translate(1834.47,1562.81) scale(1.1208,0.9654)" font-size="58.33">Time (s)</text>
<text transform="translate(88.12,1363.28) rotate(-90) scale(1.1342,1.0379)" font-size="58.33">Velocity (cm/s)</text>
<text transform="translate(343.97,1498.59) scale(1.0550,1.1013)" font-size="41.67">0</text>
<text transform="translate(891.20,1498.61) scale(1.0743,1.0963)" font-size="41.67">10</text>
<text transform="translate(1451.69,1498.56) scale(1.1051,1.0854)" font-size="41.67">20</text>
<text transform="translate(2013.31,1498.30) scale(1.0745,1.1016)" font-size="41.67">30</text>
<text transform="translate(2574.02,1498.74) scale(1.0800,1.0977)" font-size="41.67">40</text>
<text transform="translate(3134.90,1498.59) scale(1.0827,1.0915)" font-size="41.67">50</text>
<text transform="translate(122.04,1361.42) scale(1.1620,1.1255)" font-size="41.67">−0.00050</text>
<text transform="translate(122.30,1262.63) scale(1.1558,1.0978)" font-size="41.67">−0.00025</text>
<text transform="translate(155.84,1163.42) scale(1.1257,1.0942)" font-size="41.67">0.00000</text>
<text transform="translate(155.87,1064.63) scale(1.1201,1.0978)" font-size="41.67">0.00025</text>
<text transform="translate(155.83,965.42) scale(1.1258,1.1253)" font-size="41.67">0.00050</text>
<text transform="translate(1834.47,2338.81) scale(1.1208,0.9654)" font-size="58.33">Time (s)</text>
<text transform="translate(87.59,2201.32) rotate(-90) scale(1.1369,1.0479)" font-size="58.33">Displacement (cm)</text>
<text transform="translate(343.97,2274.59) scale(1.0550,1.1013)" font-size="41.67">0</text>
<text transform="translate(891.20,2274.61) scale(1.0743,1.0963)" font-size="41.67">10</text>
<text transform="translate(1451.69,2274.56) scale(1.1051,1.0854)" font-size="41.67">20</text>
<text transform="translate(2013.31,2274.30) scale(1.0745,1.1016)" font-size="41.67">30</text>
<text transform="translate(2574.02,2274.74) scale(1.0800,1.0977)" font-size="41.67">40</text>
<text transform="translate(3134.90,2274.59) scale(1.0827,1.0915)" font-size="41.67">50</text>
<text transform="translate(122.05,2225.19) scale(1.1621,1.1362)" font-size="41.67">−0.00004</text>
<text transform="translate(122.03,2082.61) scale(1.1574,1.1233)" font-size="41.67">−0.00002</text>
<text transform="translate(155.84,1940.42) scale(1.1257,1.0942)" font-size="41.67">0.00000</text>
<text transform="translate(155.86,1798.61) scale(1.1187,1.1235)" font-size="41.67">0.00002</text>
<text transform="translate(155.84,1655.19) scale(1.1262,1.1359)" font-size="41.67">0.00004</text>
</g>
</svg></body></html>
